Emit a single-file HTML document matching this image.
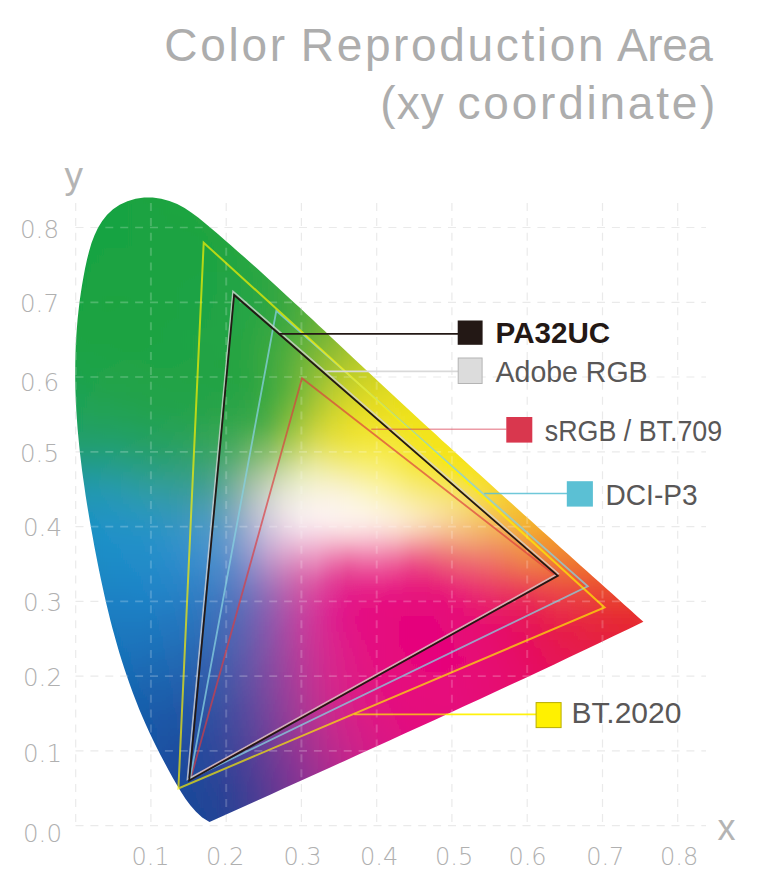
<!DOCTYPE html>
<html><head><meta charset="utf-8"><title>Color Reproduction Area</title>
<style>
html,body{margin:0;padding:0;background:#fff}
svg{display:block}
text{font-family:"Liberation Sans",sans-serif}
.tk text{font-family:"DejaVu Sans Light","DejaVu Sans","Liberation Sans",sans-serif}
</style></head><body>
<svg width="760" height="895" viewBox="0 0 760 895">
<defs>
<clipPath id="hs"><path d="M209.5,822.1 L202.2,817.4 L196.0,811.8 L190.5,805.6 L185.6,799.0 L181.1,791.9 L176.8,784.7 L172.6,777.4 L168.5,770.1 L164.5,762.6 L160.5,755.1 L156.7,747.6 L153.0,739.9 L149.3,732.2 L145.8,724.5 L142.4,716.7 L139.1,708.9 L136.0,701.0 L132.9,693.1 L130.0,685.1 L127.2,677.1 L124.5,669.1 L121.9,661.0 L119.4,653.0 L117.1,644.9 L114.8,636.7 L112.5,628.6 L110.4,620.4 L108.4,612.2 L106.4,603.9 L104.5,595.7 L102.7,587.4 L100.9,579.2 L99.2,570.9 L97.5,562.6 L95.9,554.3 L94.3,545.9 L92.8,537.6 L91.3,529.3 L89.8,521.0 L88.4,512.6 L87.0,504.3 L85.7,495.9 L84.5,487.6 L83.3,479.2 L82.1,470.8 L81.1,462.5 L80.1,454.1 L79.2,445.7 L78.4,437.3 L77.6,428.9 L77.0,420.5 L76.4,412.1 L76.0,403.7 L75.6,395.3 L75.3,386.9 L75.2,378.4 L75.2,370.0 L75.3,361.5 L75.5,353.1 L75.8,344.6 L76.3,336.2 L76.9,327.7 L77.6,319.2 L78.5,310.7 L79.5,302.2 L80.7,293.7 L82.0,285.2 L83.5,276.7 L85.1,268.2 L87.0,259.6 L89.1,251.2 L91.5,243.0 L94.5,235.2 L98.0,227.8 L102.2,220.9 L107.1,214.7 L113.0,209.3 L119.7,204.8 L127.4,201.3 L135.6,198.8 L144.1,197.6 L152.7,197.6 L161.2,198.7 L169.4,200.9 L177.2,204.1 L184.6,208.1 L191.6,212.7 L198.5,217.8 L205.1,223.2 L211.7,228.7 L218.2,234.3 L224.7,239.9 L231.1,245.5 L237.5,251.2 L243.9,256.8 L250.3,262.5 L256.6,268.1 L262.9,273.8 L269.1,279.5 L275.4,285.2 L281.6,290.9 L287.8,296.7 L294.0,302.4 L300.2,308.1 L306.4,313.9 L312.5,319.6 L318.7,325.4 L324.8,331.1 L330.9,336.9 L337.1,342.7 L343.2,348.4 L349.3,354.2 L355.4,360.0 L361.6,365.7 L367.7,371.5 L373.9,377.3 L380.0,383.0 L386.2,388.8 L392.4,394.5 L398.6,400.2 L404.8,406.0 L411.0,411.7 L417.2,417.5 L423.4,423.2 L429.7,428.9 L435.9,434.6 L442.1,440.4 L448.4,446.1 L454.6,451.8 L460.9,457.5 L467.2,463.2 L473.5,468.9 L479.7,474.6 L486.0,480.3 L492.3,486.0 L498.6,491.7 L504.9,497.4 L511.2,503.0 L517.5,508.7 L523.8,514.4 L530.1,520.1 L536.4,525.8 L542.7,531.4 L549.0,537.1 L555.3,542.8 L561.6,548.4 L567.9,554.1 L574.2,559.7 L580.5,565.4 L586.8,571.0 L593.1,576.7 L599.4,582.3 L605.7,588.0 L612.0,593.6 L618.3,599.3 L624.6,604.9 L630.9,610.5 L637.1,616.2 L643.4,621.8 L628.6,629.0 L613.7,636.1 L598.8,643.2 L584.0,650.3 L569.1,657.3 L554.2,664.4 L539.2,671.4 L524.3,678.4 L509.4,685.3 L494.4,692.3 L479.5,699.2 L464.5,706.1 L449.6,713.0 L434.6,719.9 L419.6,726.8 L404.6,733.6 L389.6,740.5 L374.6,747.3 L359.6,754.1 L344.6,760.9 L329.6,767.7 L314.6,774.5 L299.6,781.3 L284.6,788.1 L269.6,794.9 L254.5,801.7 L239.5,808.5 L224.5,815.3Z"/></clipPath>
<filter id="bl" filterUnits="userSpaceOnUse" x="40" y="164" width="640" height="696"><feGaussianBlur stdDeviation="0 3.5"/></filter>
<linearGradient id="r0" gradientUnits="userSpaceOnUse" x1="60" x2="660" y1="0" y2="0"><stop offset="0.0000" stop-color="#15a443"/><stop offset="0.0267" stop-color="#16a442"/><stop offset="0.0533" stop-color="#18a441"/><stop offset="0.0800" stop-color="#19a441"/><stop offset="0.1067" stop-color="#1aa441"/><stop offset="0.1333" stop-color="#1ba441"/><stop offset="0.1600" stop-color="#1da440"/><stop offset="0.1867" stop-color="#1fa53f"/><stop offset="0.2133" stop-color="#21a53e"/><stop offset="0.2400" stop-color="#24a63d"/><stop offset="0.2667" stop-color="#28a73b"/><stop offset="0.2933" stop-color="#2da839"/><stop offset="0.3200" stop-color="#32aa37"/><stop offset="0.3467" stop-color="#38ab35"/><stop offset="0.3733" stop-color="#3fad33"/><stop offset="0.4000" stop-color="#47af30"/><stop offset="0.4267" stop-color="#4fb12d"/><stop offset="0.4533" stop-color="#57b329"/><stop offset="0.4800" stop-color="#5fb526"/><stop offset="0.5067" stop-color="#67b722"/><stop offset="0.5333" stop-color="#6fb91f"/><stop offset="0.5600" stop-color="#77ba1b"/><stop offset="0.5867" stop-color="#7ebc18"/><stop offset="0.6133" stop-color="#85bd14"/><stop offset="0.6400" stop-color="#8bbe11"/><stop offset="0.6667" stop-color="#91bf0e"/><stop offset="0.6933" stop-color="#97c00c"/><stop offset="0.7200" stop-color="#9cc009"/><stop offset="0.7467" stop-color="#a1c007"/><stop offset="0.7733" stop-color="#a5c004"/><stop offset="0.8000" stop-color="#a9bf02"/><stop offset="0.8267" stop-color="#acbf01"/><stop offset="0.8533" stop-color="#afbe00"/><stop offset="0.8800" stop-color="#b2bc00"/><stop offset="0.9067" stop-color="#b5bb00"/><stop offset="0.9333" stop-color="#b7ba00"/><stop offset="0.9600" stop-color="#bab800"/><stop offset="0.9867" stop-color="#bcb600"/></linearGradient><linearGradient id="r1" gradientUnits="userSpaceOnUse" x1="60" x2="660" y1="0" y2="0"><stop offset="0.0000" stop-color="#15a443"/><stop offset="0.0267" stop-color="#16a442"/><stop offset="0.0533" stop-color="#17a442"/><stop offset="0.0800" stop-color="#19a441"/><stop offset="0.1067" stop-color="#1aa341"/><stop offset="0.1333" stop-color="#1ba341"/><stop offset="0.1600" stop-color="#1ca441"/><stop offset="0.1867" stop-color="#1ea440"/><stop offset="0.2133" stop-color="#20a53f"/><stop offset="0.2400" stop-color="#24a63d"/><stop offset="0.2667" stop-color="#27a73c"/><stop offset="0.2933" stop-color="#2ca83a"/><stop offset="0.3200" stop-color="#31a938"/><stop offset="0.3467" stop-color="#38ab36"/><stop offset="0.3733" stop-color="#3fad34"/><stop offset="0.4000" stop-color="#47ae31"/><stop offset="0.4267" stop-color="#4fb02d"/><stop offset="0.4533" stop-color="#57b32a"/><stop offset="0.4800" stop-color="#60b526"/><stop offset="0.5067" stop-color="#68b723"/><stop offset="0.5333" stop-color="#71b91f"/><stop offset="0.5600" stop-color="#79bb1b"/><stop offset="0.5867" stop-color="#80bc18"/><stop offset="0.6133" stop-color="#87be15"/><stop offset="0.6400" stop-color="#8ebf11"/><stop offset="0.6667" stop-color="#94c00e"/><stop offset="0.6933" stop-color="#99c00b"/><stop offset="0.7200" stop-color="#9ec109"/><stop offset="0.7467" stop-color="#a3c106"/><stop offset="0.7733" stop-color="#a7c004"/><stop offset="0.8000" stop-color="#abc002"/><stop offset="0.8267" stop-color="#aebf00"/><stop offset="0.8533" stop-color="#b1be00"/><stop offset="0.8800" stop-color="#b4bd00"/><stop offset="0.9067" stop-color="#b7bb00"/><stop offset="0.9333" stop-color="#b9ba00"/><stop offset="0.9600" stop-color="#bbb800"/><stop offset="0.9867" stop-color="#bdb600"/></linearGradient><linearGradient id="r2" gradientUnits="userSpaceOnUse" x1="60" x2="660" y1="0" y2="0"><stop offset="0.0000" stop-color="#15a343"/><stop offset="0.0267" stop-color="#16a342"/><stop offset="0.0533" stop-color="#17a342"/><stop offset="0.0800" stop-color="#18a342"/><stop offset="0.1067" stop-color="#19a341"/><stop offset="0.1333" stop-color="#1aa342"/><stop offset="0.1600" stop-color="#1ba341"/><stop offset="0.1867" stop-color="#1da440"/><stop offset="0.2133" stop-color="#20a53f"/><stop offset="0.2400" stop-color="#23a53e"/><stop offset="0.2667" stop-color="#26a63d"/><stop offset="0.2933" stop-color="#2ba73b"/><stop offset="0.3200" stop-color="#31a939"/><stop offset="0.3467" stop-color="#37aa37"/><stop offset="0.3733" stop-color="#3eac35"/><stop offset="0.4000" stop-color="#46ae31"/><stop offset="0.4267" stop-color="#4fb02e"/><stop offset="0.4533" stop-color="#58b32b"/><stop offset="0.4800" stop-color="#61b527"/><stop offset="0.5067" stop-color="#6ab723"/><stop offset="0.5333" stop-color="#72b91f"/><stop offset="0.5600" stop-color="#7abb1c"/><stop offset="0.5867" stop-color="#82bd18"/><stop offset="0.6133" stop-color="#89be15"/><stop offset="0.6400" stop-color="#90c011"/><stop offset="0.6667" stop-color="#96c00e"/><stop offset="0.6933" stop-color="#9bc10b"/><stop offset="0.7200" stop-color="#a0c109"/><stop offset="0.7467" stop-color="#a5c106"/><stop offset="0.7733" stop-color="#a9c104"/><stop offset="0.8000" stop-color="#adc002"/><stop offset="0.8267" stop-color="#b0c000"/><stop offset="0.8533" stop-color="#b3be00"/><stop offset="0.8800" stop-color="#b6bd00"/><stop offset="0.9067" stop-color="#b9bc00"/><stop offset="0.9333" stop-color="#bbba00"/><stop offset="0.9600" stop-color="#bdb800"/><stop offset="0.9867" stop-color="#bfb600"/></linearGradient><linearGradient id="r3" gradientUnits="userSpaceOnUse" x1="60" x2="660" y1="0" y2="0"><stop offset="0.0000" stop-color="#15a343"/><stop offset="0.0267" stop-color="#16a343"/><stop offset="0.0533" stop-color="#18a342"/><stop offset="0.0800" stop-color="#18a342"/><stop offset="0.1067" stop-color="#19a342"/><stop offset="0.1333" stop-color="#1aa342"/><stop offset="0.1600" stop-color="#1ba342"/><stop offset="0.1867" stop-color="#1da441"/><stop offset="0.2133" stop-color="#1fa440"/><stop offset="0.2400" stop-color="#22a53f"/><stop offset="0.2667" stop-color="#25a63e"/><stop offset="0.2933" stop-color="#2aa73c"/><stop offset="0.3200" stop-color="#30a83a"/><stop offset="0.3467" stop-color="#36aa38"/><stop offset="0.3733" stop-color="#3eac36"/><stop offset="0.4000" stop-color="#46ae32"/><stop offset="0.4267" stop-color="#4fb02f"/><stop offset="0.4533" stop-color="#59b32b"/><stop offset="0.4800" stop-color="#62b528"/><stop offset="0.5067" stop-color="#6bb724"/><stop offset="0.5333" stop-color="#74ba20"/><stop offset="0.5600" stop-color="#7cbc1c"/><stop offset="0.5867" stop-color="#84bd18"/><stop offset="0.6133" stop-color="#8bbf15"/><stop offset="0.6400" stop-color="#92c011"/><stop offset="0.6667" stop-color="#98c10e"/><stop offset="0.6933" stop-color="#9ec20b"/><stop offset="0.7200" stop-color="#a3c208"/><stop offset="0.7467" stop-color="#a7c206"/><stop offset="0.7733" stop-color="#abc204"/><stop offset="0.8000" stop-color="#afc102"/><stop offset="0.8267" stop-color="#b2c000"/><stop offset="0.8533" stop-color="#b5bf00"/><stop offset="0.8800" stop-color="#b8be00"/><stop offset="0.9067" stop-color="#babc00"/><stop offset="0.9333" stop-color="#bdba00"/><stop offset="0.9600" stop-color="#bfb800"/><stop offset="0.9867" stop-color="#c0b600"/></linearGradient><linearGradient id="r4" gradientUnits="userSpaceOnUse" x1="60" x2="660" y1="0" y2="0"><stop offset="0.0000" stop-color="#15a344"/><stop offset="0.0267" stop-color="#17a343"/><stop offset="0.0533" stop-color="#18a342"/><stop offset="0.0800" stop-color="#18a342"/><stop offset="0.1067" stop-color="#19a342"/><stop offset="0.1333" stop-color="#1aa342"/><stop offset="0.1600" stop-color="#1ba342"/><stop offset="0.1867" stop-color="#1ca341"/><stop offset="0.2133" stop-color="#1ea441"/><stop offset="0.2400" stop-color="#21a540"/><stop offset="0.2667" stop-color="#24a53f"/><stop offset="0.2933" stop-color="#29a73d"/><stop offset="0.3200" stop-color="#2fa83c"/><stop offset="0.3467" stop-color="#36aa39"/><stop offset="0.3733" stop-color="#3dac37"/><stop offset="0.4000" stop-color="#46ae33"/><stop offset="0.4267" stop-color="#50b030"/><stop offset="0.4533" stop-color="#59b32c"/><stop offset="0.4800" stop-color="#63b528"/><stop offset="0.5067" stop-color="#6db824"/><stop offset="0.5333" stop-color="#76ba20"/><stop offset="0.5600" stop-color="#7ebc1c"/><stop offset="0.5867" stop-color="#86be18"/><stop offset="0.6133" stop-color="#8ec015"/><stop offset="0.6400" stop-color="#95c111"/><stop offset="0.6667" stop-color="#9bc20e"/><stop offset="0.6933" stop-color="#a0c20b"/><stop offset="0.7200" stop-color="#a5c308"/><stop offset="0.7467" stop-color="#aac306"/><stop offset="0.7733" stop-color="#aec203"/><stop offset="0.8000" stop-color="#b1c201"/><stop offset="0.8267" stop-color="#b4c100"/><stop offset="0.8533" stop-color="#b7bf00"/><stop offset="0.8800" stop-color="#babe00"/><stop offset="0.9067" stop-color="#bcbc00"/><stop offset="0.9333" stop-color="#beba00"/><stop offset="0.9600" stop-color="#c0b800"/><stop offset="0.9867" stop-color="#c2b600"/></linearGradient><linearGradient id="r5" gradientUnits="userSpaceOnUse" x1="60" x2="660" y1="0" y2="0"><stop offset="0.0000" stop-color="#15a344"/><stop offset="0.0267" stop-color="#17a343"/><stop offset="0.0533" stop-color="#18a342"/><stop offset="0.0800" stop-color="#19a342"/><stop offset="0.1067" stop-color="#19a342"/><stop offset="0.1333" stop-color="#1aa342"/><stop offset="0.1600" stop-color="#1aa342"/><stop offset="0.1867" stop-color="#1ca342"/><stop offset="0.2133" stop-color="#1da441"/><stop offset="0.2400" stop-color="#20a441"/><stop offset="0.2667" stop-color="#23a540"/><stop offset="0.2933" stop-color="#28a63e"/><stop offset="0.3200" stop-color="#2ea83d"/><stop offset="0.3467" stop-color="#35a93a"/><stop offset="0.3733" stop-color="#3dab38"/><stop offset="0.4000" stop-color="#46ae34"/><stop offset="0.4267" stop-color="#50b031"/><stop offset="0.4533" stop-color="#5ab32d"/><stop offset="0.4800" stop-color="#64b529"/><stop offset="0.5067" stop-color="#6eb825"/><stop offset="0.5333" stop-color="#78ba20"/><stop offset="0.5600" stop-color="#81bd1c"/><stop offset="0.5867" stop-color="#89bf18"/><stop offset="0.6133" stop-color="#90c015"/><stop offset="0.6400" stop-color="#97c211"/><stop offset="0.6667" stop-color="#9dc30e"/><stop offset="0.6933" stop-color="#a3c30b"/><stop offset="0.7200" stop-color="#a8c408"/><stop offset="0.7467" stop-color="#acc305"/><stop offset="0.7733" stop-color="#b0c303"/><stop offset="0.8000" stop-color="#b3c201"/><stop offset="0.8267" stop-color="#b7c100"/><stop offset="0.8533" stop-color="#b9c000"/><stop offset="0.8800" stop-color="#bcbe00"/><stop offset="0.9067" stop-color="#bebd00"/><stop offset="0.9333" stop-color="#c0bb00"/><stop offset="0.9600" stop-color="#c2b900"/><stop offset="0.9867" stop-color="#c4b600"/></linearGradient><linearGradient id="r6" gradientUnits="userSpaceOnUse" x1="60" x2="660" y1="0" y2="0"><stop offset="0.0000" stop-color="#16a344"/><stop offset="0.0267" stop-color="#17a343"/><stop offset="0.0533" stop-color="#18a342"/><stop offset="0.0800" stop-color="#19a342"/><stop offset="0.1067" stop-color="#19a342"/><stop offset="0.1333" stop-color="#1aa342"/><stop offset="0.1600" stop-color="#1aa342"/><stop offset="0.1867" stop-color="#1ba342"/><stop offset="0.2133" stop-color="#1ca342"/><stop offset="0.2400" stop-color="#1fa441"/><stop offset="0.2667" stop-color="#22a541"/><stop offset="0.2933" stop-color="#27a63f"/><stop offset="0.3200" stop-color="#2da73e"/><stop offset="0.3467" stop-color="#34a93c"/><stop offset="0.3733" stop-color="#3cab39"/><stop offset="0.4000" stop-color="#46ad36"/><stop offset="0.4267" stop-color="#50b032"/><stop offset="0.4533" stop-color="#5bb32e"/><stop offset="0.4800" stop-color="#66b629"/><stop offset="0.5067" stop-color="#70b825"/><stop offset="0.5333" stop-color="#7abb21"/><stop offset="0.5600" stop-color="#83bd1c"/><stop offset="0.5867" stop-color="#8bbf18"/><stop offset="0.6133" stop-color="#93c115"/><stop offset="0.6400" stop-color="#9ac311"/><stop offset="0.6667" stop-color="#a0c40e"/><stop offset="0.6933" stop-color="#a5c40a"/><stop offset="0.7200" stop-color="#aac408"/><stop offset="0.7467" stop-color="#afc405"/><stop offset="0.7733" stop-color="#b2c403"/><stop offset="0.8000" stop-color="#b6c301"/><stop offset="0.8267" stop-color="#b9c200"/><stop offset="0.8533" stop-color="#bcc000"/><stop offset="0.8800" stop-color="#bebf00"/><stop offset="0.9067" stop-color="#c0bd00"/><stop offset="0.9333" stop-color="#c2bb00"/><stop offset="0.9600" stop-color="#c4b900"/><stop offset="0.9867" stop-color="#c5b600"/></linearGradient><linearGradient id="r7" gradientUnits="userSpaceOnUse" x1="60" x2="660" y1="0" y2="0"><stop offset="0.0000" stop-color="#16a344"/><stop offset="0.0267" stop-color="#17a343"/><stop offset="0.0533" stop-color="#19a342"/><stop offset="0.0800" stop-color="#19a342"/><stop offset="0.1067" stop-color="#19a342"/><stop offset="0.1333" stop-color="#1aa342"/><stop offset="0.1600" stop-color="#1aa342"/><stop offset="0.1867" stop-color="#1ba342"/><stop offset="0.2133" stop-color="#1ca342"/><stop offset="0.2400" stop-color="#1ea442"/><stop offset="0.2667" stop-color="#21a441"/><stop offset="0.2933" stop-color="#26a540"/><stop offset="0.3200" stop-color="#2ca73f"/><stop offset="0.3467" stop-color="#33a83d"/><stop offset="0.3733" stop-color="#3cab3a"/><stop offset="0.4000" stop-color="#46ad37"/><stop offset="0.4267" stop-color="#51b033"/><stop offset="0.4533" stop-color="#5cb32e"/><stop offset="0.4800" stop-color="#68b62a"/><stop offset="0.5067" stop-color="#72b925"/><stop offset="0.5333" stop-color="#7cbc21"/><stop offset="0.5600" stop-color="#86be1d"/><stop offset="0.5867" stop-color="#8ec018"/><stop offset="0.6133" stop-color="#96c214"/><stop offset="0.6400" stop-color="#9dc311"/><stop offset="0.6667" stop-color="#a3c40d"/><stop offset="0.6933" stop-color="#a8c50a"/><stop offset="0.7200" stop-color="#adc507"/><stop offset="0.7467" stop-color="#b1c505"/><stop offset="0.7733" stop-color="#b5c402"/><stop offset="0.8000" stop-color="#b8c301"/><stop offset="0.8267" stop-color="#bbc200"/><stop offset="0.8533" stop-color="#bec100"/><stop offset="0.8800" stop-color="#c0bf00"/><stop offset="0.9067" stop-color="#c2bd00"/><stop offset="0.9333" stop-color="#c4bb00"/><stop offset="0.9600" stop-color="#c6b900"/><stop offset="0.9867" stop-color="#c7b600"/></linearGradient><linearGradient id="r8" gradientUnits="userSpaceOnUse" x1="60" x2="660" y1="0" y2="0"><stop offset="0.0000" stop-color="#16a344"/><stop offset="0.0267" stop-color="#18a343"/><stop offset="0.0533" stop-color="#19a342"/><stop offset="0.0800" stop-color="#1aa342"/><stop offset="0.1067" stop-color="#1aa342"/><stop offset="0.1333" stop-color="#1aa342"/><stop offset="0.1600" stop-color="#1aa342"/><stop offset="0.1867" stop-color="#1ba342"/><stop offset="0.2133" stop-color="#1ba343"/><stop offset="0.2400" stop-color="#1da343"/><stop offset="0.2667" stop-color="#21a442"/><stop offset="0.2933" stop-color="#25a541"/><stop offset="0.3200" stop-color="#2ba640"/><stop offset="0.3467" stop-color="#32a83e"/><stop offset="0.3733" stop-color="#3baa3b"/><stop offset="0.4000" stop-color="#46ad38"/><stop offset="0.4267" stop-color="#52b034"/><stop offset="0.4533" stop-color="#5eb32f"/><stop offset="0.4800" stop-color="#6ab62a"/><stop offset="0.5067" stop-color="#75b926"/><stop offset="0.5333" stop-color="#7fbc21"/><stop offset="0.5600" stop-color="#89bf1d"/><stop offset="0.5867" stop-color="#91c118"/><stop offset="0.6133" stop-color="#99c314"/><stop offset="0.6400" stop-color="#a0c411"/><stop offset="0.6667" stop-color="#a6c50d"/><stop offset="0.6933" stop-color="#abc60a"/><stop offset="0.7200" stop-color="#b0c607"/><stop offset="0.7467" stop-color="#b4c604"/><stop offset="0.7733" stop-color="#b7c502"/><stop offset="0.8000" stop-color="#bbc400"/><stop offset="0.8267" stop-color="#bdc300"/><stop offset="0.8533" stop-color="#c0c100"/><stop offset="0.8800" stop-color="#c2bf00"/><stop offset="0.9067" stop-color="#c4bd00"/><stop offset="0.9333" stop-color="#c6bb00"/><stop offset="0.9600" stop-color="#c7b900"/><stop offset="0.9867" stop-color="#c9b600"/></linearGradient><linearGradient id="r9" gradientUnits="userSpaceOnUse" x1="60" x2="660" y1="0" y2="0"><stop offset="0.0000" stop-color="#16a344"/><stop offset="0.0267" stop-color="#18a343"/><stop offset="0.0533" stop-color="#19a342"/><stop offset="0.0800" stop-color="#1aa342"/><stop offset="0.1067" stop-color="#1aa342"/><stop offset="0.1333" stop-color="#1aa342"/><stop offset="0.1600" stop-color="#1aa342"/><stop offset="0.1867" stop-color="#1aa343"/><stop offset="0.2133" stop-color="#1ba343"/><stop offset="0.2400" stop-color="#1da343"/><stop offset="0.2667" stop-color="#20a443"/><stop offset="0.2933" stop-color="#24a542"/><stop offset="0.3200" stop-color="#2aa641"/><stop offset="0.3467" stop-color="#31a83f"/><stop offset="0.3733" stop-color="#3baa3d"/><stop offset="0.4000" stop-color="#46ad39"/><stop offset="0.4267" stop-color="#53b034"/><stop offset="0.4533" stop-color="#5fb330"/><stop offset="0.4800" stop-color="#6cb72b"/><stop offset="0.5067" stop-color="#77ba26"/><stop offset="0.5333" stop-color="#82bd21"/><stop offset="0.5600" stop-color="#8cc01d"/><stop offset="0.5867" stop-color="#94c218"/><stop offset="0.6133" stop-color="#9cc414"/><stop offset="0.6400" stop-color="#a3c510"/><stop offset="0.6667" stop-color="#a9c60d"/><stop offset="0.6933" stop-color="#aec70a"/><stop offset="0.7200" stop-color="#b3c707"/><stop offset="0.7467" stop-color="#b7c704"/><stop offset="0.7733" stop-color="#bac602"/><stop offset="0.8000" stop-color="#bdc500"/><stop offset="0.8267" stop-color="#c0c300"/><stop offset="0.8533" stop-color="#c2c200"/><stop offset="0.8800" stop-color="#c4c000"/><stop offset="0.9067" stop-color="#c6be00"/><stop offset="0.9333" stop-color="#c8bb00"/><stop offset="0.9600" stop-color="#c9b900"/><stop offset="0.9867" stop-color="#cbb600"/></linearGradient><linearGradient id="r10" gradientUnits="userSpaceOnUse" x1="60" x2="660" y1="0" y2="0"><stop offset="0.0000" stop-color="#17a344"/><stop offset="0.0267" stop-color="#18a343"/><stop offset="0.0533" stop-color="#1aa342"/><stop offset="0.0800" stop-color="#1aa342"/><stop offset="0.1067" stop-color="#1aa342"/><stop offset="0.1333" stop-color="#1aa342"/><stop offset="0.1600" stop-color="#1aa342"/><stop offset="0.1867" stop-color="#1aa343"/><stop offset="0.2133" stop-color="#1ba343"/><stop offset="0.2400" stop-color="#1da343"/><stop offset="0.2667" stop-color="#20a443"/><stop offset="0.2933" stop-color="#24a543"/><stop offset="0.3200" stop-color="#29a642"/><stop offset="0.3467" stop-color="#30a741"/><stop offset="0.3733" stop-color="#3aa93e"/><stop offset="0.4000" stop-color="#47ac3a"/><stop offset="0.4267" stop-color="#54b035"/><stop offset="0.4533" stop-color="#61b330"/><stop offset="0.4800" stop-color="#6eb72b"/><stop offset="0.5067" stop-color="#7aba26"/><stop offset="0.5333" stop-color="#85be22"/><stop offset="0.5600" stop-color="#8fc11d"/><stop offset="0.5867" stop-color="#98c318"/><stop offset="0.6133" stop-color="#a0c514"/><stop offset="0.6400" stop-color="#a6c610"/><stop offset="0.6667" stop-color="#acc70d"/><stop offset="0.6933" stop-color="#b1c809"/><stop offset="0.7200" stop-color="#b6c806"/><stop offset="0.7467" stop-color="#b9c804"/><stop offset="0.7733" stop-color="#bdc702"/><stop offset="0.8000" stop-color="#c0c600"/><stop offset="0.8267" stop-color="#c2c400"/><stop offset="0.8533" stop-color="#c4c200"/><stop offset="0.8800" stop-color="#c6c000"/><stop offset="0.9067" stop-color="#c8be00"/><stop offset="0.9333" stop-color="#cabb00"/><stop offset="0.9600" stop-color="#cbb900"/><stop offset="0.9867" stop-color="#ccb600"/></linearGradient><linearGradient id="r11" gradientUnits="userSpaceOnUse" x1="60" x2="660" y1="0" y2="0"><stop offset="0.0000" stop-color="#17a344"/><stop offset="0.0267" stop-color="#18a343"/><stop offset="0.0533" stop-color="#1aa342"/><stop offset="0.0800" stop-color="#1aa342"/><stop offset="0.1067" stop-color="#1aa342"/><stop offset="0.1333" stop-color="#1aa342"/><stop offset="0.1600" stop-color="#1aa342"/><stop offset="0.1867" stop-color="#1ba343"/><stop offset="0.2133" stop-color="#1ba343"/><stop offset="0.2400" stop-color="#1da344"/><stop offset="0.2667" stop-color="#20a444"/><stop offset="0.2933" stop-color="#23a444"/><stop offset="0.3200" stop-color="#28a543"/><stop offset="0.3467" stop-color="#2fa742"/><stop offset="0.3733" stop-color="#3aa93f"/><stop offset="0.4000" stop-color="#47ac3b"/><stop offset="0.4267" stop-color="#55b036"/><stop offset="0.4533" stop-color="#63b431"/><stop offset="0.4800" stop-color="#71b72c"/><stop offset="0.5067" stop-color="#7dbb27"/><stop offset="0.5333" stop-color="#89bf22"/><stop offset="0.5600" stop-color="#93c11d"/><stop offset="0.5867" stop-color="#9cc418"/><stop offset="0.6133" stop-color="#a3c614"/><stop offset="0.6400" stop-color="#aac710"/><stop offset="0.6667" stop-color="#afc80c"/><stop offset="0.6933" stop-color="#b4c909"/><stop offset="0.7200" stop-color="#b9c906"/><stop offset="0.7467" stop-color="#bcc804"/><stop offset="0.7733" stop-color="#bfc801"/><stop offset="0.8000" stop-color="#c2c600"/><stop offset="0.8267" stop-color="#c5c500"/><stop offset="0.8533" stop-color="#c7c300"/><stop offset="0.8800" stop-color="#c9c000"/><stop offset="0.9067" stop-color="#cabe00"/><stop offset="0.9333" stop-color="#ccbb00"/><stop offset="0.9600" stop-color="#cdb900"/><stop offset="0.9867" stop-color="#ceb600"/></linearGradient><linearGradient id="r12" gradientUnits="userSpaceOnUse" x1="60" x2="660" y1="0" y2="0"><stop offset="0.0000" stop-color="#17a344"/><stop offset="0.0267" stop-color="#19a343"/><stop offset="0.0533" stop-color="#1aa342"/><stop offset="0.0800" stop-color="#1aa342"/><stop offset="0.1067" stop-color="#1aa342"/><stop offset="0.1333" stop-color="#1aa342"/><stop offset="0.1600" stop-color="#1aa342"/><stop offset="0.1867" stop-color="#1ba343"/><stop offset="0.2133" stop-color="#1ca344"/><stop offset="0.2400" stop-color="#1da344"/><stop offset="0.2667" stop-color="#20a444"/><stop offset="0.2933" stop-color="#23a444"/><stop offset="0.3200" stop-color="#28a544"/><stop offset="0.3467" stop-color="#2fa643"/><stop offset="0.3733" stop-color="#3aa940"/><stop offset="0.4000" stop-color="#48ac3c"/><stop offset="0.4267" stop-color="#57b037"/><stop offset="0.4533" stop-color="#66b432"/><stop offset="0.4800" stop-color="#74b82c"/><stop offset="0.5067" stop-color="#81bc27"/><stop offset="0.5333" stop-color="#8dbf22"/><stop offset="0.5600" stop-color="#97c31d"/><stop offset="0.5867" stop-color="#9fc518"/><stop offset="0.6133" stop-color="#a7c714"/><stop offset="0.6400" stop-color="#adc910"/><stop offset="0.6667" stop-color="#b3ca0c"/><stop offset="0.6933" stop-color="#b8ca09"/><stop offset="0.7200" stop-color="#bcca06"/><stop offset="0.7467" stop-color="#bfc903"/><stop offset="0.7733" stop-color="#c2c801"/><stop offset="0.8000" stop-color="#c5c700"/><stop offset="0.8267" stop-color="#c7c500"/><stop offset="0.8533" stop-color="#c9c300"/><stop offset="0.8800" stop-color="#cbc100"/><stop offset="0.9067" stop-color="#ccbe00"/><stop offset="0.9333" stop-color="#cdbc00"/><stop offset="0.9600" stop-color="#cfb900"/><stop offset="0.9867" stop-color="#d0b600"/></linearGradient><linearGradient id="r13" gradientUnits="userSpaceOnUse" x1="60" x2="660" y1="0" y2="0"><stop offset="0.0000" stop-color="#17a345"/><stop offset="0.0267" stop-color="#19a343"/><stop offset="0.0533" stop-color="#1aa342"/><stop offset="0.0800" stop-color="#1aa342"/><stop offset="0.1067" stop-color="#1ba342"/><stop offset="0.1333" stop-color="#1ba342"/><stop offset="0.1600" stop-color="#1ba342"/><stop offset="0.1867" stop-color="#1ba343"/><stop offset="0.2133" stop-color="#1ca344"/><stop offset="0.2400" stop-color="#1ea344"/><stop offset="0.2667" stop-color="#20a444"/><stop offset="0.2933" stop-color="#23a444"/><stop offset="0.3200" stop-color="#28a544"/><stop offset="0.3467" stop-color="#2fa643"/><stop offset="0.3733" stop-color="#3aa840"/><stop offset="0.4000" stop-color="#49ac3c"/><stop offset="0.4267" stop-color="#59b037"/><stop offset="0.4533" stop-color="#69b432"/><stop offset="0.4800" stop-color="#78b92d"/><stop offset="0.5067" stop-color="#85bd27"/><stop offset="0.5333" stop-color="#91c022"/><stop offset="0.5600" stop-color="#9bc41d"/><stop offset="0.5867" stop-color="#a4c618"/><stop offset="0.6133" stop-color="#abc814"/><stop offset="0.6400" stop-color="#b1ca10"/><stop offset="0.6667" stop-color="#b7cb0c"/><stop offset="0.6933" stop-color="#bbcb08"/><stop offset="0.7200" stop-color="#bfcb05"/><stop offset="0.7467" stop-color="#c2ca03"/><stop offset="0.7733" stop-color="#c5c901"/><stop offset="0.8000" stop-color="#c7c800"/><stop offset="0.8267" stop-color="#c9c600"/><stop offset="0.8533" stop-color="#cbc400"/><stop offset="0.8800" stop-color="#cdc100"/><stop offset="0.9067" stop-color="#cebe00"/><stop offset="0.9333" stop-color="#cfbc00"/><stop offset="0.9600" stop-color="#d0b900"/><stop offset="0.9867" stop-color="#d1b600"/></linearGradient><linearGradient id="r14" gradientUnits="userSpaceOnUse" x1="60" x2="660" y1="0" y2="0"><stop offset="0.0000" stop-color="#17a345"/><stop offset="0.0267" stop-color="#19a343"/><stop offset="0.0533" stop-color="#1aa342"/><stop offset="0.0800" stop-color="#1ba341"/><stop offset="0.1067" stop-color="#1ba341"/><stop offset="0.1333" stop-color="#1ba342"/><stop offset="0.1600" stop-color="#1ba342"/><stop offset="0.1867" stop-color="#1ca343"/><stop offset="0.2133" stop-color="#1ca344"/><stop offset="0.2400" stop-color="#1ea344"/><stop offset="0.2667" stop-color="#20a445"/><stop offset="0.2933" stop-color="#23a445"/><stop offset="0.3200" stop-color="#28a544"/><stop offset="0.3467" stop-color="#2fa643"/><stop offset="0.3733" stop-color="#3ba841"/><stop offset="0.4000" stop-color="#4bac3d"/><stop offset="0.4267" stop-color="#5cb038"/><stop offset="0.4533" stop-color="#6cb532"/><stop offset="0.4800" stop-color="#7bb92d"/><stop offset="0.5067" stop-color="#89be27"/><stop offset="0.5333" stop-color="#95c222"/><stop offset="0.5600" stop-color="#9fc51d"/><stop offset="0.5867" stop-color="#a8c818"/><stop offset="0.6133" stop-color="#afca13"/><stop offset="0.6400" stop-color="#b5cb0f"/><stop offset="0.6667" stop-color="#bacc0b"/><stop offset="0.6933" stop-color="#bfcc08"/><stop offset="0.7200" stop-color="#c2cc05"/><stop offset="0.7467" stop-color="#c5cb03"/><stop offset="0.7733" stop-color="#c8ca01"/><stop offset="0.8000" stop-color="#cac800"/><stop offset="0.8267" stop-color="#ccc600"/><stop offset="0.8533" stop-color="#cdc400"/><stop offset="0.8800" stop-color="#cfc100"/><stop offset="0.9067" stop-color="#d0bf00"/><stop offset="0.9333" stop-color="#d1bc00"/><stop offset="0.9600" stop-color="#d2b800"/><stop offset="0.9867" stop-color="#d3b500"/></linearGradient><linearGradient id="r15" gradientUnits="userSpaceOnUse" x1="60" x2="660" y1="0" y2="0"><stop offset="0.0000" stop-color="#18a245"/><stop offset="0.0267" stop-color="#19a343"/><stop offset="0.0533" stop-color="#1aa342"/><stop offset="0.0800" stop-color="#1ba341"/><stop offset="0.1067" stop-color="#1ba342"/><stop offset="0.1333" stop-color="#1ba342"/><stop offset="0.1600" stop-color="#1ca342"/><stop offset="0.1867" stop-color="#1ca343"/><stop offset="0.2133" stop-color="#1da344"/><stop offset="0.2400" stop-color="#1ea344"/><stop offset="0.2667" stop-color="#21a445"/><stop offset="0.2933" stop-color="#24a445"/><stop offset="0.3200" stop-color="#28a544"/><stop offset="0.3467" stop-color="#30a643"/><stop offset="0.3733" stop-color="#3ba841"/><stop offset="0.4000" stop-color="#4dac3d"/><stop offset="0.4267" stop-color="#5fb138"/><stop offset="0.4533" stop-color="#70b633"/><stop offset="0.4800" stop-color="#80ba2d"/><stop offset="0.5067" stop-color="#8ebf28"/><stop offset="0.5333" stop-color="#9ac322"/><stop offset="0.5600" stop-color="#a4c61d"/><stop offset="0.5867" stop-color="#adc918"/><stop offset="0.6133" stop-color="#b3cb13"/><stop offset="0.6400" stop-color="#b9cd0f"/><stop offset="0.6667" stop-color="#becd0b"/><stop offset="0.6933" stop-color="#c2ce08"/><stop offset="0.7200" stop-color="#c5cd05"/><stop offset="0.7467" stop-color="#c8cc02"/><stop offset="0.7733" stop-color="#cbcb00"/><stop offset="0.8000" stop-color="#cdc900"/><stop offset="0.8267" stop-color="#cec700"/><stop offset="0.8533" stop-color="#d0c400"/><stop offset="0.8800" stop-color="#d1c200"/><stop offset="0.9067" stop-color="#d2bf00"/><stop offset="0.9333" stop-color="#d3bc00"/><stop offset="0.9600" stop-color="#d4b800"/><stop offset="0.9867" stop-color="#d4b500"/></linearGradient><linearGradient id="r16" gradientUnits="userSpaceOnUse" x1="60" x2="660" y1="0" y2="0"><stop offset="0.0000" stop-color="#18a245"/><stop offset="0.0267" stop-color="#1aa343"/><stop offset="0.0533" stop-color="#1ba342"/><stop offset="0.0800" stop-color="#1ba342"/><stop offset="0.1067" stop-color="#1ca342"/><stop offset="0.1333" stop-color="#1ca342"/><stop offset="0.1600" stop-color="#1ca343"/><stop offset="0.1867" stop-color="#1da343"/><stop offset="0.2133" stop-color="#1da344"/><stop offset="0.2400" stop-color="#1fa344"/><stop offset="0.2667" stop-color="#21a445"/><stop offset="0.2933" stop-color="#24a444"/><stop offset="0.3200" stop-color="#29a544"/><stop offset="0.3467" stop-color="#31a643"/><stop offset="0.3733" stop-color="#3da941"/><stop offset="0.4000" stop-color="#4fad3d"/><stop offset="0.4267" stop-color="#62b138"/><stop offset="0.4533" stop-color="#74b633"/><stop offset="0.4800" stop-color="#85bb2d"/><stop offset="0.5067" stop-color="#93c028"/><stop offset="0.5333" stop-color="#9fc422"/><stop offset="0.5600" stop-color="#a9c81d"/><stop offset="0.5867" stop-color="#b1cb18"/><stop offset="0.6133" stop-color="#b8cd13"/><stop offset="0.6400" stop-color="#bdce0f"/><stop offset="0.6667" stop-color="#c2cf0b"/><stop offset="0.6933" stop-color="#c6cf08"/><stop offset="0.7200" stop-color="#c9ce05"/><stop offset="0.7467" stop-color="#cbcd02"/><stop offset="0.7733" stop-color="#cdcc00"/><stop offset="0.8000" stop-color="#cfca00"/><stop offset="0.8267" stop-color="#d1c800"/><stop offset="0.8533" stop-color="#d2c500"/><stop offset="0.8800" stop-color="#d3c200"/><stop offset="0.9067" stop-color="#d4bf00"/><stop offset="0.9333" stop-color="#d5bb00"/><stop offset="0.9600" stop-color="#d6b800"/><stop offset="0.9867" stop-color="#d6b500"/></linearGradient><linearGradient id="r17" gradientUnits="userSpaceOnUse" x1="60" x2="660" y1="0" y2="0"><stop offset="0.0000" stop-color="#18a246"/><stop offset="0.0267" stop-color="#1aa343"/><stop offset="0.0533" stop-color="#1ba342"/><stop offset="0.0800" stop-color="#1ca342"/><stop offset="0.1067" stop-color="#1ca342"/><stop offset="0.1333" stop-color="#1ca342"/><stop offset="0.1600" stop-color="#1da343"/><stop offset="0.1867" stop-color="#1da344"/><stop offset="0.2133" stop-color="#1ea344"/><stop offset="0.2400" stop-color="#1fa345"/><stop offset="0.2667" stop-color="#21a444"/><stop offset="0.2933" stop-color="#25a444"/><stop offset="0.3200" stop-color="#2ba543"/><stop offset="0.3467" stop-color="#33a742"/><stop offset="0.3733" stop-color="#40a941"/><stop offset="0.4000" stop-color="#52ad3d"/><stop offset="0.4267" stop-color="#67b238"/><stop offset="0.4533" stop-color="#7ab733"/><stop offset="0.4800" stop-color="#8abd2d"/><stop offset="0.5067" stop-color="#99c228"/><stop offset="0.5333" stop-color="#a5c622"/><stop offset="0.5600" stop-color="#afca1d"/><stop offset="0.5867" stop-color="#b6cc18"/><stop offset="0.6133" stop-color="#bdce13"/><stop offset="0.6400" stop-color="#c2d00f"/><stop offset="0.6667" stop-color="#c6d00b"/><stop offset="0.6933" stop-color="#c9d007"/><stop offset="0.7200" stop-color="#ccd004"/><stop offset="0.7467" stop-color="#cece02"/><stop offset="0.7733" stop-color="#d0cd00"/><stop offset="0.8000" stop-color="#d2cb00"/><stop offset="0.8267" stop-color="#d3c800"/><stop offset="0.8533" stop-color="#d4c500"/><stop offset="0.8800" stop-color="#d5c200"/><stop offset="0.9067" stop-color="#d6bf00"/><stop offset="0.9333" stop-color="#d7bb00"/><stop offset="0.9600" stop-color="#d7b800"/><stop offset="0.9867" stop-color="#d8b400"/></linearGradient><linearGradient id="r18" gradientUnits="userSpaceOnUse" x1="60" x2="660" y1="0" y2="0"><stop offset="0.0000" stop-color="#19a246"/><stop offset="0.0267" stop-color="#1aa343"/><stop offset="0.0533" stop-color="#1ca342"/><stop offset="0.0800" stop-color="#1ca342"/><stop offset="0.1067" stop-color="#1da342"/><stop offset="0.1333" stop-color="#1da343"/><stop offset="0.1600" stop-color="#1da343"/><stop offset="0.1867" stop-color="#1ea344"/><stop offset="0.2133" stop-color="#1fa445"/><stop offset="0.2400" stop-color="#20a445"/><stop offset="0.2667" stop-color="#22a444"/><stop offset="0.2933" stop-color="#25a444"/><stop offset="0.3200" stop-color="#2ca543"/><stop offset="0.3467" stop-color="#36a742"/><stop offset="0.3733" stop-color="#44aa40"/><stop offset="0.4000" stop-color="#57ae3d"/><stop offset="0.4267" stop-color="#6cb338"/><stop offset="0.4533" stop-color="#7fb933"/><stop offset="0.4800" stop-color="#91be2d"/><stop offset="0.5067" stop-color="#9fc328"/><stop offset="0.5333" stop-color="#abc822"/><stop offset="0.5600" stop-color="#b4cb1d"/><stop offset="0.5867" stop-color="#bcce18"/><stop offset="0.6133" stop-color="#c1d013"/><stop offset="0.6400" stop-color="#c6d10e"/><stop offset="0.6667" stop-color="#cad20a"/><stop offset="0.6933" stop-color="#cdd107"/><stop offset="0.7200" stop-color="#cfd104"/><stop offset="0.7467" stop-color="#d1cf02"/><stop offset="0.7733" stop-color="#d3ce00"/><stop offset="0.8000" stop-color="#d4cb00"/><stop offset="0.8267" stop-color="#d5c900"/><stop offset="0.8533" stop-color="#d6c600"/><stop offset="0.8800" stop-color="#d7c200"/><stop offset="0.9067" stop-color="#d8bf00"/><stop offset="0.9333" stop-color="#d8bb00"/><stop offset="0.9600" stop-color="#d9b700"/><stop offset="0.9867" stop-color="#d9b400"/></linearGradient><linearGradient id="r19" gradientUnits="userSpaceOnUse" x1="60" x2="660" y1="0" y2="0"><stop offset="0.0000" stop-color="#19a247"/><stop offset="0.0267" stop-color="#1ba344"/><stop offset="0.0533" stop-color="#1ca343"/><stop offset="0.0800" stop-color="#1da343"/><stop offset="0.1067" stop-color="#1da343"/><stop offset="0.1333" stop-color="#1ea343"/><stop offset="0.1600" stop-color="#1ea343"/><stop offset="0.1867" stop-color="#1ea344"/><stop offset="0.2133" stop-color="#1fa445"/><stop offset="0.2400" stop-color="#20a444"/><stop offset="0.2667" stop-color="#22a444"/><stop offset="0.2933" stop-color="#26a443"/><stop offset="0.3200" stop-color="#2da543"/><stop offset="0.3467" stop-color="#38a741"/><stop offset="0.3733" stop-color="#48ab3f"/><stop offset="0.4000" stop-color="#5cb03c"/><stop offset="0.4267" stop-color="#72b538"/><stop offset="0.4533" stop-color="#86ba33"/><stop offset="0.4800" stop-color="#97c02d"/><stop offset="0.5067" stop-color="#a6c528"/><stop offset="0.5333" stop-color="#b1ca22"/><stop offset="0.5600" stop-color="#bacd1d"/><stop offset="0.5867" stop-color="#c1d017"/><stop offset="0.6133" stop-color="#c6d213"/><stop offset="0.6400" stop-color="#cad30e"/><stop offset="0.6667" stop-color="#ced30a"/><stop offset="0.6933" stop-color="#d0d307"/><stop offset="0.7200" stop-color="#d3d204"/><stop offset="0.7467" stop-color="#d4d001"/><stop offset="0.7733" stop-color="#d6ce00"/><stop offset="0.8000" stop-color="#d7cc00"/><stop offset="0.8267" stop-color="#d8c900"/><stop offset="0.8533" stop-color="#d9c600"/><stop offset="0.8800" stop-color="#d9c200"/><stop offset="0.9067" stop-color="#dabf00"/><stop offset="0.9333" stop-color="#dabb00"/><stop offset="0.9600" stop-color="#dab700"/><stop offset="0.9867" stop-color="#dbb300"/></linearGradient><linearGradient id="r20" gradientUnits="userSpaceOnUse" x1="60" x2="660" y1="0" y2="0"><stop offset="0.0000" stop-color="#1aa248"/><stop offset="0.0267" stop-color="#1ba345"/><stop offset="0.0533" stop-color="#1da344"/><stop offset="0.0800" stop-color="#1ea344"/><stop offset="0.1067" stop-color="#1ea343"/><stop offset="0.1333" stop-color="#1ea343"/><stop offset="0.1600" stop-color="#1ea344"/><stop offset="0.1867" stop-color="#1fa344"/><stop offset="0.2133" stop-color="#1fa445"/><stop offset="0.2400" stop-color="#20a344"/><stop offset="0.2667" stop-color="#22a444"/><stop offset="0.2933" stop-color="#26a443"/><stop offset="0.3200" stop-color="#2ea542"/><stop offset="0.3467" stop-color="#3aa841"/><stop offset="0.3733" stop-color="#4bac3e"/><stop offset="0.4000" stop-color="#61b13b"/><stop offset="0.4267" stop-color="#7ab737"/><stop offset="0.4533" stop-color="#8ebd32"/><stop offset="0.4800" stop-color="#9fc22d"/><stop offset="0.5067" stop-color="#adc828"/><stop offset="0.5333" stop-color="#b8cc22"/><stop offset="0.5600" stop-color="#c0cf1d"/><stop offset="0.5867" stop-color="#c6d217"/><stop offset="0.6133" stop-color="#cbd312"/><stop offset="0.6400" stop-color="#cfd40e"/><stop offset="0.6667" stop-color="#d2d50a"/><stop offset="0.6933" stop-color="#d4d407"/><stop offset="0.7200" stop-color="#d6d304"/><stop offset="0.7467" stop-color="#d7d101"/><stop offset="0.7733" stop-color="#d8cf00"/><stop offset="0.8000" stop-color="#d9cd00"/><stop offset="0.8267" stop-color="#dac900"/><stop offset="0.8533" stop-color="#dbc600"/><stop offset="0.8800" stop-color="#dbc200"/><stop offset="0.9067" stop-color="#dbbe00"/><stop offset="0.9333" stop-color="#dcba00"/><stop offset="0.9600" stop-color="#dcb600"/><stop offset="0.9867" stop-color="#dcb200"/></linearGradient><linearGradient id="r21" gradientUnits="userSpaceOnUse" x1="60" x2="660" y1="0" y2="0"><stop offset="0.0000" stop-color="#1aa24a"/><stop offset="0.0267" stop-color="#1ca347"/><stop offset="0.0533" stop-color="#1da346"/><stop offset="0.0800" stop-color="#1ea345"/><stop offset="0.1067" stop-color="#1fa344"/><stop offset="0.1333" stop-color="#1fa344"/><stop offset="0.1600" stop-color="#1fa344"/><stop offset="0.1867" stop-color="#1fa344"/><stop offset="0.2133" stop-color="#1fa345"/><stop offset="0.2400" stop-color="#20a344"/><stop offset="0.2667" stop-color="#22a444"/><stop offset="0.2933" stop-color="#26a443"/><stop offset="0.3200" stop-color="#2ea542"/><stop offset="0.3467" stop-color="#3ca840"/><stop offset="0.3733" stop-color="#4ead3e"/><stop offset="0.4000" stop-color="#67b23b"/><stop offset="0.4267" stop-color="#80b936"/><stop offset="0.4533" stop-color="#95bf32"/><stop offset="0.4800" stop-color="#a7c52d"/><stop offset="0.5067" stop-color="#b5ca28"/><stop offset="0.5333" stop-color="#bfce22"/><stop offset="0.5600" stop-color="#c6d11d"/><stop offset="0.5867" stop-color="#ccd417"/><stop offset="0.6133" stop-color="#d0d512"/><stop offset="0.6400" stop-color="#d3d60e"/><stop offset="0.6667" stop-color="#d6d60a"/><stop offset="0.6933" stop-color="#d7d506"/><stop offset="0.7200" stop-color="#d9d404"/><stop offset="0.7467" stop-color="#dad201"/><stop offset="0.7733" stop-color="#dbd000"/><stop offset="0.8000" stop-color="#dccd00"/><stop offset="0.8267" stop-color="#dcca00"/><stop offset="0.8533" stop-color="#ddc600"/><stop offset="0.8800" stop-color="#ddc200"/><stop offset="0.9067" stop-color="#ddbe00"/><stop offset="0.9333" stop-color="#ddba00"/><stop offset="0.9600" stop-color="#deb600"/><stop offset="0.9867" stop-color="#deb100"/></linearGradient><linearGradient id="r22" gradientUnits="userSpaceOnUse" x1="60" x2="660" y1="0" y2="0"><stop offset="0.0000" stop-color="#1aa24c"/><stop offset="0.0267" stop-color="#1ca349"/><stop offset="0.0533" stop-color="#1ea347"/><stop offset="0.0800" stop-color="#1fa346"/><stop offset="0.1067" stop-color="#20a346"/><stop offset="0.1333" stop-color="#20a345"/><stop offset="0.1600" stop-color="#1fa345"/><stop offset="0.1867" stop-color="#1fa345"/><stop offset="0.2133" stop-color="#20a345"/><stop offset="0.2400" stop-color="#21a344"/><stop offset="0.2667" stop-color="#23a343"/><stop offset="0.2933" stop-color="#27a443"/><stop offset="0.3200" stop-color="#2fa542"/><stop offset="0.3467" stop-color="#3da840"/><stop offset="0.3733" stop-color="#51ad3e"/><stop offset="0.4000" stop-color="#6bb43a"/><stop offset="0.4267" stop-color="#86bb36"/><stop offset="0.4533" stop-color="#9dc232"/><stop offset="0.4800" stop-color="#afc82d"/><stop offset="0.5067" stop-color="#bdcd28"/><stop offset="0.5333" stop-color="#c6d022"/><stop offset="0.5600" stop-color="#cdd31d"/><stop offset="0.5867" stop-color="#d1d617"/><stop offset="0.6133" stop-color="#d5d712"/><stop offset="0.6400" stop-color="#d7d80e"/><stop offset="0.6667" stop-color="#d9d80a"/><stop offset="0.6933" stop-color="#dbd706"/><stop offset="0.7200" stop-color="#dcd504"/><stop offset="0.7467" stop-color="#ddd301"/><stop offset="0.7733" stop-color="#ded100"/><stop offset="0.8000" stop-color="#dece00"/><stop offset="0.8267" stop-color="#deca00"/><stop offset="0.8533" stop-color="#dfc600"/><stop offset="0.8800" stop-color="#dfc200"/><stop offset="0.9067" stop-color="#dfbe00"/><stop offset="0.9333" stop-color="#dfb900"/><stop offset="0.9600" stop-color="#dfb500"/><stop offset="0.9867" stop-color="#dfb100"/></linearGradient><linearGradient id="r23" gradientUnits="userSpaceOnUse" x1="60" x2="660" y1="0" y2="0"><stop offset="0.0000" stop-color="#1ba24e"/><stop offset="0.0267" stop-color="#1da24b"/><stop offset="0.0533" stop-color="#1fa349"/><stop offset="0.0800" stop-color="#20a348"/><stop offset="0.1067" stop-color="#20a347"/><stop offset="0.1333" stop-color="#20a346"/><stop offset="0.1600" stop-color="#20a345"/><stop offset="0.1867" stop-color="#20a345"/><stop offset="0.2133" stop-color="#20a345"/><stop offset="0.2400" stop-color="#21a344"/><stop offset="0.2667" stop-color="#23a344"/><stop offset="0.2933" stop-color="#26a443"/><stop offset="0.3200" stop-color="#2ea542"/><stop offset="0.3467" stop-color="#3ea840"/><stop offset="0.3733" stop-color="#53ae3d"/><stop offset="0.4000" stop-color="#70b53a"/><stop offset="0.4267" stop-color="#8cbd36"/><stop offset="0.4533" stop-color="#a4c531"/><stop offset="0.4800" stop-color="#b7cb2c"/><stop offset="0.5067" stop-color="#c4d028"/><stop offset="0.5333" stop-color="#cdd322"/><stop offset="0.5600" stop-color="#d3d61d"/><stop offset="0.5867" stop-color="#d7d818"/><stop offset="0.6133" stop-color="#dad913"/><stop offset="0.6400" stop-color="#dcd90e"/><stop offset="0.6667" stop-color="#ddd90a"/><stop offset="0.6933" stop-color="#ded806"/><stop offset="0.7200" stop-color="#dfd704"/><stop offset="0.7467" stop-color="#e0d401"/><stop offset="0.7733" stop-color="#e0d200"/><stop offset="0.8000" stop-color="#e0ce00"/><stop offset="0.8267" stop-color="#e1ca00"/><stop offset="0.8533" stop-color="#e1c600"/><stop offset="0.8800" stop-color="#e1c200"/><stop offset="0.9067" stop-color="#e1bd00"/><stop offset="0.9333" stop-color="#e1b900"/><stop offset="0.9600" stop-color="#e0b400"/><stop offset="0.9867" stop-color="#e0b000"/></linearGradient><linearGradient id="r24" gradientUnits="userSpaceOnUse" x1="60" x2="660" y1="0" y2="0"><stop offset="0.0000" stop-color="#1ba251"/><stop offset="0.0267" stop-color="#1da24e"/><stop offset="0.0533" stop-color="#1fa34b"/><stop offset="0.0800" stop-color="#21a34a"/><stop offset="0.1067" stop-color="#21a349"/><stop offset="0.1333" stop-color="#21a347"/><stop offset="0.1600" stop-color="#21a346"/><stop offset="0.1867" stop-color="#20a346"/><stop offset="0.2133" stop-color="#21a345"/><stop offset="0.2400" stop-color="#22a345"/><stop offset="0.2667" stop-color="#24a344"/><stop offset="0.2933" stop-color="#27a443"/><stop offset="0.3200" stop-color="#2da543"/><stop offset="0.3467" stop-color="#3da940"/><stop offset="0.3733" stop-color="#54ae3d"/><stop offset="0.4000" stop-color="#74b73a"/><stop offset="0.4267" stop-color="#93bf36"/><stop offset="0.4533" stop-color="#acc731"/><stop offset="0.4800" stop-color="#bfce2c"/><stop offset="0.5067" stop-color="#ccd227"/><stop offset="0.5333" stop-color="#d4d522"/><stop offset="0.5600" stop-color="#d9d81d"/><stop offset="0.5867" stop-color="#dcda18"/><stop offset="0.6133" stop-color="#dedb13"/><stop offset="0.6400" stop-color="#e0db0e"/><stop offset="0.6667" stop-color="#e1da0a"/><stop offset="0.6933" stop-color="#e1d907"/><stop offset="0.7200" stop-color="#e2d804"/><stop offset="0.7467" stop-color="#e2d502"/><stop offset="0.7733" stop-color="#e2d200"/><stop offset="0.8000" stop-color="#e3cf00"/><stop offset="0.8267" stop-color="#e2cb00"/><stop offset="0.8533" stop-color="#e2c600"/><stop offset="0.8800" stop-color="#e2c200"/><stop offset="0.9067" stop-color="#e2bd00"/><stop offset="0.9333" stop-color="#e2b800"/><stop offset="0.9600" stop-color="#e2b300"/><stop offset="0.9867" stop-color="#e2af00"/></linearGradient><linearGradient id="r25" gradientUnits="userSpaceOnUse" x1="60" x2="660" y1="0" y2="0"><stop offset="0.0000" stop-color="#1ca154"/><stop offset="0.0267" stop-color="#1ea250"/><stop offset="0.0533" stop-color="#1fa24e"/><stop offset="0.0800" stop-color="#21a34c"/><stop offset="0.1067" stop-color="#21a34b"/><stop offset="0.1333" stop-color="#21a349"/><stop offset="0.1600" stop-color="#21a348"/><stop offset="0.1867" stop-color="#21a347"/><stop offset="0.2133" stop-color="#21a346"/><stop offset="0.2400" stop-color="#22a346"/><stop offset="0.2667" stop-color="#24a345"/><stop offset="0.2933" stop-color="#27a444"/><stop offset="0.3200" stop-color="#2ea543"/><stop offset="0.3467" stop-color="#3ea941"/><stop offset="0.3733" stop-color="#57af3d"/><stop offset="0.4000" stop-color="#79b839"/><stop offset="0.4267" stop-color="#9ac135"/><stop offset="0.4533" stop-color="#b5ca30"/><stop offset="0.4800" stop-color="#c7d12b"/><stop offset="0.5067" stop-color="#d3d526"/><stop offset="0.5333" stop-color="#dad822"/><stop offset="0.5600" stop-color="#deda1e"/><stop offset="0.5867" stop-color="#e1db19"/><stop offset="0.6133" stop-color="#e2dc13"/><stop offset="0.6400" stop-color="#e3dc0e"/><stop offset="0.6667" stop-color="#e4dc0a"/><stop offset="0.6933" stop-color="#e4db07"/><stop offset="0.7200" stop-color="#e5d904"/><stop offset="0.7467" stop-color="#e5d602"/><stop offset="0.7733" stop-color="#e5d300"/><stop offset="0.8000" stop-color="#e5cf00"/><stop offset="0.8267" stop-color="#e4cb00"/><stop offset="0.8533" stop-color="#e4c600"/><stop offset="0.8800" stop-color="#e4c100"/><stop offset="0.9067" stop-color="#e4bc00"/><stop offset="0.9333" stop-color="#e3b700"/><stop offset="0.9600" stop-color="#e3b200"/><stop offset="0.9867" stop-color="#e3ad00"/></linearGradient><linearGradient id="r26" gradientUnits="userSpaceOnUse" x1="60" x2="660" y1="0" y2="0"><stop offset="0.0000" stop-color="#1ca156"/><stop offset="0.0267" stop-color="#1ea253"/><stop offset="0.0533" stop-color="#20a251"/><stop offset="0.0800" stop-color="#21a24f"/><stop offset="0.1067" stop-color="#21a24d"/><stop offset="0.1333" stop-color="#21a24b"/><stop offset="0.1600" stop-color="#21a349"/><stop offset="0.1867" stop-color="#22a349"/><stop offset="0.2133" stop-color="#22a348"/><stop offset="0.2400" stop-color="#24a347"/><stop offset="0.2667" stop-color="#26a446"/><stop offset="0.2933" stop-color="#29a445"/><stop offset="0.3200" stop-color="#30a544"/><stop offset="0.3467" stop-color="#41aa41"/><stop offset="0.3733" stop-color="#5db13d"/><stop offset="0.4000" stop-color="#80ba39"/><stop offset="0.4267" stop-color="#a2c435"/><stop offset="0.4533" stop-color="#bdcd30"/><stop offset="0.4800" stop-color="#cfd42a"/><stop offset="0.5067" stop-color="#dad826"/><stop offset="0.5333" stop-color="#e0da22"/><stop offset="0.5600" stop-color="#e4dc1f"/><stop offset="0.5867" stop-color="#e5dd19"/><stop offset="0.6133" stop-color="#e6de14"/><stop offset="0.6400" stop-color="#e7de0f"/><stop offset="0.6667" stop-color="#e7dd0b"/><stop offset="0.6933" stop-color="#e7dc07"/><stop offset="0.7200" stop-color="#e7da05"/><stop offset="0.7467" stop-color="#e7d703"/><stop offset="0.7733" stop-color="#e7d301"/><stop offset="0.8000" stop-color="#e7cf00"/><stop offset="0.8267" stop-color="#e6cb00"/><stop offset="0.8533" stop-color="#e6c600"/><stop offset="0.8800" stop-color="#e5c100"/><stop offset="0.9067" stop-color="#e5bb00"/><stop offset="0.9333" stop-color="#e5b600"/><stop offset="0.9600" stop-color="#e4b100"/><stop offset="0.9867" stop-color="#e4ac00"/></linearGradient><linearGradient id="r27" gradientUnits="userSpaceOnUse" x1="60" x2="660" y1="0" y2="0"><stop offset="0.0000" stop-color="#1ca15a"/><stop offset="0.0267" stop-color="#1fa256"/><stop offset="0.0533" stop-color="#20a254"/><stop offset="0.0800" stop-color="#21a252"/><stop offset="0.1067" stop-color="#21a250"/><stop offset="0.1333" stop-color="#21a24e"/><stop offset="0.1600" stop-color="#22a24c"/><stop offset="0.1867" stop-color="#22a24b"/><stop offset="0.2133" stop-color="#24a34a"/><stop offset="0.2400" stop-color="#26a349"/><stop offset="0.2667" stop-color="#28a448"/><stop offset="0.2933" stop-color="#2ba447"/><stop offset="0.3200" stop-color="#33a645"/><stop offset="0.3467" stop-color="#46ab42"/><stop offset="0.3733" stop-color="#65b33d"/><stop offset="0.4000" stop-color="#89bd39"/><stop offset="0.4267" stop-color="#aac734"/><stop offset="0.4533" stop-color="#c5d02f"/><stop offset="0.4800" stop-color="#d6d72a"/><stop offset="0.5067" stop-color="#e0da26"/><stop offset="0.5333" stop-color="#e5dc22"/><stop offset="0.5600" stop-color="#e8de1f"/><stop offset="0.5867" stop-color="#e9df1a"/><stop offset="0.6133" stop-color="#eadf15"/><stop offset="0.6400" stop-color="#eadf10"/><stop offset="0.6667" stop-color="#eade0c"/><stop offset="0.6933" stop-color="#eadd08"/><stop offset="0.7200" stop-color="#eadb05"/><stop offset="0.7467" stop-color="#e9d803"/><stop offset="0.7733" stop-color="#e9d402"/><stop offset="0.8000" stop-color="#e8cf01"/><stop offset="0.8267" stop-color="#e8ca00"/><stop offset="0.8533" stop-color="#e7c500"/><stop offset="0.8800" stop-color="#e7c000"/><stop offset="0.9067" stop-color="#e6ba00"/><stop offset="0.9333" stop-color="#e6b500"/><stop offset="0.9600" stop-color="#e5b000"/><stop offset="0.9867" stop-color="#e5aa00"/></linearGradient><linearGradient id="r28" gradientUnits="userSpaceOnUse" x1="60" x2="660" y1="0" y2="0"><stop offset="0.0000" stop-color="#1ca05e"/><stop offset="0.0267" stop-color="#1fa159"/><stop offset="0.0533" stop-color="#20a258"/><stop offset="0.0800" stop-color="#21a256"/><stop offset="0.1067" stop-color="#22a254"/><stop offset="0.1333" stop-color="#22a251"/><stop offset="0.1600" stop-color="#22a24f"/><stop offset="0.1867" stop-color="#23a24e"/><stop offset="0.2133" stop-color="#25a34d"/><stop offset="0.2400" stop-color="#28a34b"/><stop offset="0.2667" stop-color="#2ba44a"/><stop offset="0.2933" stop-color="#2fa549"/><stop offset="0.3200" stop-color="#36a747"/><stop offset="0.3467" stop-color="#4cac43"/><stop offset="0.3733" stop-color="#6eb53e"/><stop offset="0.4000" stop-color="#92c03a"/><stop offset="0.4267" stop-color="#b3ca35"/><stop offset="0.4533" stop-color="#ccd32f"/><stop offset="0.4800" stop-color="#ddda2a"/><stop offset="0.5067" stop-color="#e6dd26"/><stop offset="0.5333" stop-color="#e9de24"/><stop offset="0.5600" stop-color="#ebe021"/><stop offset="0.5867" stop-color="#ece11b"/><stop offset="0.6133" stop-color="#ede116"/><stop offset="0.6400" stop-color="#ede111"/><stop offset="0.6667" stop-color="#ede00d"/><stop offset="0.6933" stop-color="#ecde09"/><stop offset="0.7200" stop-color="#ecdc06"/><stop offset="0.7467" stop-color="#ebd804"/><stop offset="0.7733" stop-color="#ebd403"/><stop offset="0.8000" stop-color="#eacf02"/><stop offset="0.8267" stop-color="#e9ca01"/><stop offset="0.8533" stop-color="#e9c500"/><stop offset="0.8800" stop-color="#e8bf00"/><stop offset="0.9067" stop-color="#e8b900"/><stop offset="0.9333" stop-color="#e7b400"/><stop offset="0.9600" stop-color="#e7ae00"/><stop offset="0.9867" stop-color="#e6a900"/></linearGradient><linearGradient id="r29" gradientUnits="userSpaceOnUse" x1="60" x2="660" y1="0" y2="0"><stop offset="0.0000" stop-color="#1da062"/><stop offset="0.0267" stop-color="#1fa15e"/><stop offset="0.0533" stop-color="#20a15d"/><stop offset="0.0800" stop-color="#21a15b"/><stop offset="0.1067" stop-color="#22a159"/><stop offset="0.1333" stop-color="#22a155"/><stop offset="0.1600" stop-color="#23a253"/><stop offset="0.1867" stop-color="#25a252"/><stop offset="0.2133" stop-color="#27a350"/><stop offset="0.2400" stop-color="#2ba44f"/><stop offset="0.2667" stop-color="#2fa54d"/><stop offset="0.2933" stop-color="#34a64c"/><stop offset="0.3200" stop-color="#3ca84a"/><stop offset="0.3467" stop-color="#54ae46"/><stop offset="0.3733" stop-color="#78b841"/><stop offset="0.4000" stop-color="#9dc33d"/><stop offset="0.4267" stop-color="#bdce38"/><stop offset="0.4533" stop-color="#d4d731"/><stop offset="0.4800" stop-color="#e2dc2c"/><stop offset="0.5067" stop-color="#eadf29"/><stop offset="0.5333" stop-color="#ede127"/><stop offset="0.5600" stop-color="#eee223"/><stop offset="0.5867" stop-color="#efe21d"/><stop offset="0.6133" stop-color="#efe218"/><stop offset="0.6400" stop-color="#efe213"/><stop offset="0.6667" stop-color="#efe10e"/><stop offset="0.6933" stop-color="#eedf0a"/><stop offset="0.7200" stop-color="#eedc08"/><stop offset="0.7467" stop-color="#edd906"/><stop offset="0.7733" stop-color="#ecd404"/><stop offset="0.8000" stop-color="#eccf03"/><stop offset="0.8267" stop-color="#ebca02"/><stop offset="0.8533" stop-color="#eac401"/><stop offset="0.8800" stop-color="#eabe01"/><stop offset="0.9067" stop-color="#e9b800"/><stop offset="0.9333" stop-color="#e8b200"/><stop offset="0.9600" stop-color="#e8ad00"/><stop offset="0.9867" stop-color="#e7a700"/></linearGradient><linearGradient id="r30" gradientUnits="userSpaceOnUse" x1="60" x2="660" y1="0" y2="0"><stop offset="0.0000" stop-color="#1c9f68"/><stop offset="0.0267" stop-color="#1fa064"/><stop offset="0.0533" stop-color="#21a062"/><stop offset="0.0800" stop-color="#22a061"/><stop offset="0.1067" stop-color="#22a15f"/><stop offset="0.1333" stop-color="#23a15b"/><stop offset="0.1600" stop-color="#24a158"/><stop offset="0.1867" stop-color="#26a256"/><stop offset="0.2133" stop-color="#29a255"/><stop offset="0.2400" stop-color="#2ea453"/><stop offset="0.2667" stop-color="#33a551"/><stop offset="0.2933" stop-color="#3ba851"/><stop offset="0.3200" stop-color="#47ab4f"/><stop offset="0.3467" stop-color="#5fb14b"/><stop offset="0.3733" stop-color="#84bc45"/><stop offset="0.4000" stop-color="#a8c843"/><stop offset="0.4267" stop-color="#c7d23e"/><stop offset="0.4533" stop-color="#dbda36"/><stop offset="0.4800" stop-color="#e7df2f"/><stop offset="0.5067" stop-color="#eee22d"/><stop offset="0.5333" stop-color="#f0e32c"/><stop offset="0.5600" stop-color="#f1e327"/><stop offset="0.5867" stop-color="#f1e320"/><stop offset="0.6133" stop-color="#f1e31a"/><stop offset="0.6400" stop-color="#f2e315"/><stop offset="0.6667" stop-color="#f1e210"/><stop offset="0.6933" stop-color="#f0e00c"/><stop offset="0.7200" stop-color="#efdd09"/><stop offset="0.7467" stop-color="#efd907"/><stop offset="0.7733" stop-color="#eed406"/><stop offset="0.8000" stop-color="#edcf04"/><stop offset="0.8267" stop-color="#ecc903"/><stop offset="0.8533" stop-color="#ebc302"/><stop offset="0.8800" stop-color="#ebbd02"/><stop offset="0.9067" stop-color="#eab701"/><stop offset="0.9333" stop-color="#e9b101"/><stop offset="0.9600" stop-color="#e9ab01"/><stop offset="0.9867" stop-color="#e8a501"/></linearGradient><linearGradient id="r31" gradientUnits="userSpaceOnUse" x1="60" x2="660" y1="0" y2="0"><stop offset="0.0000" stop-color="#1c9e6e"/><stop offset="0.0267" stop-color="#1f9f6a"/><stop offset="0.0533" stop-color="#219f69"/><stop offset="0.0800" stop-color="#22a068"/><stop offset="0.1067" stop-color="#23a065"/><stop offset="0.1333" stop-color="#24a061"/><stop offset="0.1600" stop-color="#25a15e"/><stop offset="0.1867" stop-color="#28a15c"/><stop offset="0.2133" stop-color="#2ca25a"/><stop offset="0.2400" stop-color="#31a458"/><stop offset="0.2667" stop-color="#38a656"/><stop offset="0.2933" stop-color="#44a957"/><stop offset="0.3200" stop-color="#56af56"/><stop offset="0.3467" stop-color="#6eb653"/><stop offset="0.3733" stop-color="#93c14d"/><stop offset="0.4000" stop-color="#b4cd4d"/><stop offset="0.4267" stop-color="#d0d74a"/><stop offset="0.4533" stop-color="#e1de40"/><stop offset="0.4800" stop-color="#eae137"/><stop offset="0.5067" stop-color="#f0e435"/><stop offset="0.5333" stop-color="#f2e534"/><stop offset="0.5600" stop-color="#f3e52e"/><stop offset="0.5867" stop-color="#f2e424"/><stop offset="0.6133" stop-color="#f3e41d"/><stop offset="0.6400" stop-color="#f3e318"/><stop offset="0.6667" stop-color="#f3e212"/><stop offset="0.6933" stop-color="#f2e00e"/><stop offset="0.7200" stop-color="#f1dd0b"/><stop offset="0.7467" stop-color="#f0d909"/><stop offset="0.7733" stop-color="#efd407"/><stop offset="0.8000" stop-color="#eece06"/><stop offset="0.8267" stop-color="#eec805"/><stop offset="0.8533" stop-color="#edc204"/><stop offset="0.8800" stop-color="#ecbb03"/><stop offset="0.9067" stop-color="#ebb502"/><stop offset="0.9333" stop-color="#eaaf02"/><stop offset="0.9600" stop-color="#e9a902"/><stop offset="0.9867" stop-color="#e9a302"/></linearGradient><linearGradient id="r32" gradientUnits="userSpaceOnUse" x1="60" x2="660" y1="0" y2="0"><stop offset="0.0000" stop-color="#1c9d75"/><stop offset="0.0267" stop-color="#1f9e71"/><stop offset="0.0533" stop-color="#219e70"/><stop offset="0.0800" stop-color="#239f70"/><stop offset="0.1067" stop-color="#249f6d"/><stop offset="0.1333" stop-color="#25a068"/><stop offset="0.1600" stop-color="#26a064"/><stop offset="0.1867" stop-color="#29a163"/><stop offset="0.2133" stop-color="#2ea261"/><stop offset="0.2400" stop-color="#34a45e"/><stop offset="0.2667" stop-color="#3ca65d"/><stop offset="0.2933" stop-color="#4dab5f"/><stop offset="0.3200" stop-color="#65b260"/><stop offset="0.3467" stop-color="#7dba5e"/><stop offset="0.3733" stop-color="#a0c65b"/><stop offset="0.4000" stop-color="#bfd25d"/><stop offset="0.4267" stop-color="#d8dc5b"/><stop offset="0.4533" stop-color="#e6e150"/><stop offset="0.4800" stop-color="#ede445"/><stop offset="0.5067" stop-color="#f2e742"/><stop offset="0.5333" stop-color="#f4e73f"/><stop offset="0.5600" stop-color="#f4e736"/><stop offset="0.5867" stop-color="#f4e52a"/><stop offset="0.6133" stop-color="#f4e421"/><stop offset="0.6400" stop-color="#f4e41b"/><stop offset="0.6667" stop-color="#f4e315"/><stop offset="0.6933" stop-color="#f3e111"/><stop offset="0.7200" stop-color="#f2de0e"/><stop offset="0.7467" stop-color="#f1d90c"/><stop offset="0.7733" stop-color="#f1d40a"/><stop offset="0.8000" stop-color="#f0cd08"/><stop offset="0.8267" stop-color="#efc706"/><stop offset="0.8533" stop-color="#eec005"/><stop offset="0.8800" stop-color="#edba04"/><stop offset="0.9067" stop-color="#ecb304"/><stop offset="0.9333" stop-color="#ebad03"/><stop offset="0.9600" stop-color="#eaa603"/><stop offset="0.9867" stop-color="#e9a003"/></linearGradient><linearGradient id="r33" gradientUnits="userSpaceOnUse" x1="60" x2="660" y1="0" y2="0"><stop offset="0.0000" stop-color="#1c9c7c"/><stop offset="0.0267" stop-color="#1f9d79"/><stop offset="0.0533" stop-color="#219d79"/><stop offset="0.0800" stop-color="#239e79"/><stop offset="0.1067" stop-color="#259f76"/><stop offset="0.1333" stop-color="#269f71"/><stop offset="0.1600" stop-color="#289f6c"/><stop offset="0.1867" stop-color="#2ba06b"/><stop offset="0.2133" stop-color="#30a169"/><stop offset="0.2400" stop-color="#37a367"/><stop offset="0.2667" stop-color="#41a666"/><stop offset="0.2933" stop-color="#56ad69"/><stop offset="0.3200" stop-color="#73b66c"/><stop offset="0.3467" stop-color="#8bbe6d"/><stop offset="0.3733" stop-color="#adcb6e"/><stop offset="0.4000" stop-color="#cad872"/><stop offset="0.4267" stop-color="#dfe172"/><stop offset="0.4533" stop-color="#eae566"/><stop offset="0.4800" stop-color="#f0e759"/><stop offset="0.5067" stop-color="#f4e953"/><stop offset="0.5333" stop-color="#f5ea4d"/><stop offset="0.5600" stop-color="#f5e842"/><stop offset="0.5867" stop-color="#f4e632"/><stop offset="0.6133" stop-color="#f4e527"/><stop offset="0.6400" stop-color="#f5e41f"/><stop offset="0.6667" stop-color="#f5e318"/><stop offset="0.6933" stop-color="#f4e114"/><stop offset="0.7200" stop-color="#f4de11"/><stop offset="0.7467" stop-color="#f3d90f"/><stop offset="0.7733" stop-color="#f2d30c"/><stop offset="0.8000" stop-color="#f1cc0a"/><stop offset="0.8267" stop-color="#f0c608"/><stop offset="0.8533" stop-color="#efbf07"/><stop offset="0.8800" stop-color="#eeb806"/><stop offset="0.9067" stop-color="#edb105"/><stop offset="0.9333" stop-color="#ecaa05"/><stop offset="0.9600" stop-color="#eba404"/><stop offset="0.9867" stop-color="#ea9e04"/></linearGradient><linearGradient id="r34" gradientUnits="userSpaceOnUse" x1="60" x2="660" y1="0" y2="0"><stop offset="0.0000" stop-color="#1c9b84"/><stop offset="0.0267" stop-color="#1f9b84"/><stop offset="0.0533" stop-color="#229c84"/><stop offset="0.0800" stop-color="#249d84"/><stop offset="0.1067" stop-color="#269e80"/><stop offset="0.1333" stop-color="#289e7b"/><stop offset="0.1600" stop-color="#2a9f76"/><stop offset="0.1867" stop-color="#2d9f74"/><stop offset="0.2133" stop-color="#32a072"/><stop offset="0.2400" stop-color="#3aa370"/><stop offset="0.2667" stop-color="#48a670"/><stop offset="0.2933" stop-color="#61ae75"/><stop offset="0.3200" stop-color="#80b97b"/><stop offset="0.3467" stop-color="#9ac47f"/><stop offset="0.3733" stop-color="#bad185"/><stop offset="0.4000" stop-color="#d4de8b"/><stop offset="0.4267" stop-color="#e5e68d"/><stop offset="0.4533" stop-color="#eee87f"/><stop offset="0.4800" stop-color="#f2ea71"/><stop offset="0.5067" stop-color="#f5ec68"/><stop offset="0.5333" stop-color="#f7ec5f"/><stop offset="0.5600" stop-color="#f6ea50"/><stop offset="0.5867" stop-color="#f5e73c"/><stop offset="0.6133" stop-color="#f5e52f"/><stop offset="0.6400" stop-color="#f5e424"/><stop offset="0.6667" stop-color="#f5e31e"/><stop offset="0.6933" stop-color="#f5e219"/><stop offset="0.7200" stop-color="#f4de15"/><stop offset="0.7467" stop-color="#f3d813"/><stop offset="0.7733" stop-color="#f2d210"/><stop offset="0.8000" stop-color="#f1cb0d"/><stop offset="0.8267" stop-color="#f0c40b"/><stop offset="0.8533" stop-color="#efbd09"/><stop offset="0.8800" stop-color="#eeb608"/><stop offset="0.9067" stop-color="#edae07"/><stop offset="0.9333" stop-color="#eca806"/><stop offset="0.9600" stop-color="#eba106"/><stop offset="0.9867" stop-color="#eb9b06"/></linearGradient><linearGradient id="r35" gradientUnits="userSpaceOnUse" x1="60" x2="660" y1="0" y2="0"><stop offset="0.0000" stop-color="#1c9a8d"/><stop offset="0.0267" stop-color="#209a8f"/><stop offset="0.0533" stop-color="#239b90"/><stop offset="0.0800" stop-color="#259c8f"/><stop offset="0.1067" stop-color="#279d8b"/><stop offset="0.1333" stop-color="#2a9e86"/><stop offset="0.1600" stop-color="#2c9e81"/><stop offset="0.1867" stop-color="#2f9f7e"/><stop offset="0.2133" stop-color="#34a07c"/><stop offset="0.2400" stop-color="#3da27a"/><stop offset="0.2667" stop-color="#4fa77c"/><stop offset="0.2933" stop-color="#6cb082"/><stop offset="0.3200" stop-color="#8dbc8a"/><stop offset="0.3467" stop-color="#a9c992"/><stop offset="0.3733" stop-color="#c6d79b"/><stop offset="0.4000" stop-color="#dde4a3"/><stop offset="0.4267" stop-color="#eaeaa4"/><stop offset="0.4533" stop-color="#f1ec98"/><stop offset="0.4800" stop-color="#f4ec8b"/><stop offset="0.5067" stop-color="#f7ee7f"/><stop offset="0.5333" stop-color="#f8ee72"/><stop offset="0.5600" stop-color="#f7eb60"/><stop offset="0.5867" stop-color="#f5e74a"/><stop offset="0.6133" stop-color="#f5e53b"/><stop offset="0.6400" stop-color="#f5e42e"/><stop offset="0.6667" stop-color="#f6e326"/><stop offset="0.6933" stop-color="#f6e220"/><stop offset="0.7200" stop-color="#f5dd1b"/><stop offset="0.7467" stop-color="#f4d717"/><stop offset="0.7733" stop-color="#f3d013"/><stop offset="0.8000" stop-color="#f2c910"/><stop offset="0.8267" stop-color="#f1c20d"/><stop offset="0.8533" stop-color="#f0ba0b"/><stop offset="0.8800" stop-color="#efb30a"/><stop offset="0.9067" stop-color="#eeac09"/><stop offset="0.9333" stop-color="#eda508"/><stop offset="0.9600" stop-color="#ec9e07"/><stop offset="0.9867" stop-color="#eb9807"/></linearGradient><linearGradient id="r36" gradientUnits="userSpaceOnUse" x1="60" x2="660" y1="0" y2="0"><stop offset="0.0000" stop-color="#1c9895"/><stop offset="0.0267" stop-color="#209999"/><stop offset="0.0533" stop-color="#239a9c"/><stop offset="0.0800" stop-color="#269b9a"/><stop offset="0.1067" stop-color="#299c97"/><stop offset="0.1333" stop-color="#2c9d91"/><stop offset="0.1600" stop-color="#2e9e8c"/><stop offset="0.1867" stop-color="#319e89"/><stop offset="0.2133" stop-color="#369f86"/><stop offset="0.2400" stop-color="#40a185"/><stop offset="0.2667" stop-color="#54a788"/><stop offset="0.2933" stop-color="#76b18f"/><stop offset="0.3200" stop-color="#9abf99"/><stop offset="0.3467" stop-color="#b6cda4"/><stop offset="0.3733" stop-color="#d0dcaf"/><stop offset="0.4000" stop-color="#e4e9b8"/><stop offset="0.4267" stop-color="#efeeb8"/><stop offset="0.4533" stop-color="#f4efb0"/><stop offset="0.4800" stop-color="#f6efa4"/><stop offset="0.5067" stop-color="#f8f096"/><stop offset="0.5333" stop-color="#f9f087"/><stop offset="0.5600" stop-color="#f8ed74"/><stop offset="0.5867" stop-color="#f6e95d"/><stop offset="0.6133" stop-color="#f6e64d"/><stop offset="0.6400" stop-color="#f6e43f"/><stop offset="0.6667" stop-color="#f6e334"/><stop offset="0.6933" stop-color="#f6e12a"/><stop offset="0.7200" stop-color="#f6dc23"/><stop offset="0.7467" stop-color="#f5d51d"/><stop offset="0.7733" stop-color="#f4ce17"/><stop offset="0.8000" stop-color="#f3c713"/><stop offset="0.8267" stop-color="#f2bf0f"/><stop offset="0.8533" stop-color="#f1b80d"/><stop offset="0.8800" stop-color="#efb00c"/><stop offset="0.9067" stop-color="#eea90b"/><stop offset="0.9333" stop-color="#eda20a"/><stop offset="0.9600" stop-color="#ec9b09"/><stop offset="0.9867" stop-color="#ec9509"/></linearGradient><linearGradient id="r37" gradientUnits="userSpaceOnUse" x1="60" x2="660" y1="0" y2="0"><stop offset="0.0000" stop-color="#1c979d"/><stop offset="0.0267" stop-color="#2098a2"/><stop offset="0.0533" stop-color="#2399a6"/><stop offset="0.0800" stop-color="#269aa5"/><stop offset="0.1067" stop-color="#299ba2"/><stop offset="0.1333" stop-color="#2d9c9c"/><stop offset="0.1600" stop-color="#309d98"/><stop offset="0.1867" stop-color="#339d94"/><stop offset="0.2133" stop-color="#389e91"/><stop offset="0.2400" stop-color="#43a090"/><stop offset="0.2667" stop-color="#58a693"/><stop offset="0.2933" stop-color="#7eb19c"/><stop offset="0.3200" stop-color="#a3c0a7"/><stop offset="0.3467" stop-color="#c1d0b4"/><stop offset="0.3733" stop-color="#d9e0c0"/><stop offset="0.4000" stop-color="#e9ecc9"/><stop offset="0.4267" stop-color="#f3f0ca"/><stop offset="0.4533" stop-color="#f6f1c5"/><stop offset="0.4800" stop-color="#f8f1bb"/><stop offset="0.5067" stop-color="#f9f2ad"/><stop offset="0.5333" stop-color="#faf29d"/><stop offset="0.5600" stop-color="#f9ef89"/><stop offset="0.5867" stop-color="#f7ea73"/><stop offset="0.6133" stop-color="#f6e762"/><stop offset="0.6400" stop-color="#f6e554"/><stop offset="0.6667" stop-color="#f6e346"/><stop offset="0.6933" stop-color="#f6e038"/><stop offset="0.7200" stop-color="#f6da2c"/><stop offset="0.7467" stop-color="#f5d323"/><stop offset="0.7733" stop-color="#f4cb1c"/><stop offset="0.8000" stop-color="#f3c416"/><stop offset="0.8267" stop-color="#f2bd12"/><stop offset="0.8533" stop-color="#f1b510"/><stop offset="0.8800" stop-color="#f0ad0e"/><stop offset="0.9067" stop-color="#efa50d"/><stop offset="0.9333" stop-color="#ee9e0c"/><stop offset="0.9600" stop-color="#ed970b"/><stop offset="0.9867" stop-color="#ec910a"/></linearGradient><linearGradient id="r38" gradientUnits="userSpaceOnUse" x1="60" x2="660" y1="0" y2="0"><stop offset="0.0000" stop-color="#1c96a4"/><stop offset="0.0267" stop-color="#1f97aa"/><stop offset="0.0533" stop-color="#2398af"/><stop offset="0.0800" stop-color="#2699ae"/><stop offset="0.1067" stop-color="#299aab"/><stop offset="0.1333" stop-color="#2d9ba6"/><stop offset="0.1600" stop-color="#319ca2"/><stop offset="0.1867" stop-color="#349c9e"/><stop offset="0.2133" stop-color="#3a9d9c"/><stop offset="0.2400" stop-color="#469f9b"/><stop offset="0.2667" stop-color="#5ba59f"/><stop offset="0.2933" stop-color="#81b1a7"/><stop offset="0.3200" stop-color="#a9c1b4"/><stop offset="0.3467" stop-color="#c9d2c2"/><stop offset="0.3733" stop-color="#e0e2ce"/><stop offset="0.4000" stop-color="#eeeed7"/><stop offset="0.4267" stop-color="#f6f2d8"/><stop offset="0.4533" stop-color="#f9f2d6"/><stop offset="0.4800" stop-color="#f9f3ce"/><stop offset="0.5067" stop-color="#faf4c1"/><stop offset="0.5333" stop-color="#faf3b1"/><stop offset="0.5600" stop-color="#f9f09e"/><stop offset="0.5867" stop-color="#f8eb89"/><stop offset="0.6133" stop-color="#f7e877"/><stop offset="0.6400" stop-color="#f7e46a"/><stop offset="0.6667" stop-color="#f7e15a"/><stop offset="0.6933" stop-color="#f6de47"/><stop offset="0.7200" stop-color="#f6d737"/><stop offset="0.7467" stop-color="#f5cf2a"/><stop offset="0.7733" stop-color="#f4c820"/><stop offset="0.8000" stop-color="#f3c119"/><stop offset="0.8267" stop-color="#f2b915"/><stop offset="0.8533" stop-color="#f1b112"/><stop offset="0.8800" stop-color="#f0a910"/><stop offset="0.9067" stop-color="#efa20f"/><stop offset="0.9333" stop-color="#ee9a0e"/><stop offset="0.9600" stop-color="#ed930d"/><stop offset="0.9867" stop-color="#ec8d0c"/></linearGradient><linearGradient id="r39" gradientUnits="userSpaceOnUse" x1="60" x2="660" y1="0" y2="0"><stop offset="0.0000" stop-color="#1b95aa"/><stop offset="0.0267" stop-color="#1e96b0"/><stop offset="0.0533" stop-color="#2297b5"/><stop offset="0.0800" stop-color="#2597b5"/><stop offset="0.1067" stop-color="#2998b3"/><stop offset="0.1333" stop-color="#2c9aaf"/><stop offset="0.1600" stop-color="#309aac"/><stop offset="0.1867" stop-color="#349aa8"/><stop offset="0.2133" stop-color="#3c9ba6"/><stop offset="0.2400" stop-color="#499ea7"/><stop offset="0.2667" stop-color="#5fa4aa"/><stop offset="0.2933" stop-color="#84afb2"/><stop offset="0.3200" stop-color="#adc0be"/><stop offset="0.3467" stop-color="#ced2cd"/><stop offset="0.3733" stop-color="#e4e3d9"/><stop offset="0.4000" stop-color="#f2eee1"/><stop offset="0.4267" stop-color="#f8f2e3"/><stop offset="0.4533" stop-color="#faf3e2"/><stop offset="0.4800" stop-color="#fbf4dd"/><stop offset="0.5067" stop-color="#fbf4d2"/><stop offset="0.5333" stop-color="#fbf3c3"/><stop offset="0.5600" stop-color="#faf0b2"/><stop offset="0.5867" stop-color="#f9ec9e"/><stop offset="0.6133" stop-color="#f8e88c"/><stop offset="0.6400" stop-color="#f7e37d"/><stop offset="0.6667" stop-color="#f7df6b"/><stop offset="0.6933" stop-color="#f6da54"/><stop offset="0.7200" stop-color="#f6d341"/><stop offset="0.7467" stop-color="#f5ca31"/><stop offset="0.7733" stop-color="#f4c424"/><stop offset="0.8000" stop-color="#f4bd1c"/><stop offset="0.8267" stop-color="#f3b518"/><stop offset="0.8533" stop-color="#f2ad15"/><stop offset="0.8800" stop-color="#f0a513"/><stop offset="0.9067" stop-color="#ef9d11"/><stop offset="0.9333" stop-color="#ee9610"/><stop offset="0.9600" stop-color="#ed8f0f"/><stop offset="0.9867" stop-color="#ec890e"/></linearGradient><linearGradient id="r40" gradientUnits="userSpaceOnUse" x1="60" x2="660" y1="0" y2="0"><stop offset="0.0000" stop-color="#1a93ae"/><stop offset="0.0267" stop-color="#1d94b5"/><stop offset="0.0533" stop-color="#2195ba"/><stop offset="0.0800" stop-color="#2496bb"/><stop offset="0.1067" stop-color="#2797b9"/><stop offset="0.1333" stop-color="#2b98b7"/><stop offset="0.1600" stop-color="#2f98b4"/><stop offset="0.1867" stop-color="#3499b1"/><stop offset="0.2133" stop-color="#3d9ab0"/><stop offset="0.2400" stop-color="#4b9db1"/><stop offset="0.2667" stop-color="#61a2b4"/><stop offset="0.2933" stop-color="#86adbb"/><stop offset="0.3200" stop-color="#afbdc7"/><stop offset="0.3467" stop-color="#d0d0d4"/><stop offset="0.3733" stop-color="#e7e2df"/><stop offset="0.4000" stop-color="#f4eee8"/><stop offset="0.4267" stop-color="#faf2ea"/><stop offset="0.4533" stop-color="#fbf3e9"/><stop offset="0.4800" stop-color="#fcf4e5"/><stop offset="0.5067" stop-color="#fcf4de"/><stop offset="0.5333" stop-color="#fcf3d2"/><stop offset="0.5600" stop-color="#fbefc2"/><stop offset="0.5867" stop-color="#faebaf"/><stop offset="0.6133" stop-color="#f9e69c"/><stop offset="0.6400" stop-color="#f8e08c"/><stop offset="0.6667" stop-color="#f7da78"/><stop offset="0.6933" stop-color="#f6d45f"/><stop offset="0.7200" stop-color="#f5cc4a"/><stop offset="0.7467" stop-color="#f5c538"/><stop offset="0.7733" stop-color="#f4bf29"/><stop offset="0.8000" stop-color="#f4b920"/><stop offset="0.8267" stop-color="#f3b11b"/><stop offset="0.8533" stop-color="#f2a918"/><stop offset="0.8800" stop-color="#f0a116"/><stop offset="0.9067" stop-color="#ef9914"/><stop offset="0.9333" stop-color="#ee9212"/><stop offset="0.9600" stop-color="#ed8b11"/><stop offset="0.9867" stop-color="#ec8510"/></linearGradient><linearGradient id="r41" gradientUnits="userSpaceOnUse" x1="60" x2="660" y1="0" y2="0"><stop offset="0.0000" stop-color="#1992b2"/><stop offset="0.0267" stop-color="#1c93b9"/><stop offset="0.0533" stop-color="#1f93be"/><stop offset="0.0800" stop-color="#2294c0"/><stop offset="0.1067" stop-color="#2695bf"/><stop offset="0.1333" stop-color="#2996bd"/><stop offset="0.1600" stop-color="#2d96bb"/><stop offset="0.1867" stop-color="#3497b9"/><stop offset="0.2133" stop-color="#3d98b9"/><stop offset="0.2400" stop-color="#4b9bbb"/><stop offset="0.2667" stop-color="#61a0bc"/><stop offset="0.2933" stop-color="#86aac3"/><stop offset="0.3200" stop-color="#afbacc"/><stop offset="0.3467" stop-color="#d0cdd8"/><stop offset="0.3733" stop-color="#e8dee3"/><stop offset="0.4000" stop-color="#f5ebeb"/><stop offset="0.4267" stop-color="#faefed"/><stop offset="0.4533" stop-color="#fcf1ec"/><stop offset="0.4800" stop-color="#fcf1e8"/><stop offset="0.5067" stop-color="#fcf1e4"/><stop offset="0.5333" stop-color="#fcefda"/><stop offset="0.5600" stop-color="#fbeccd"/><stop offset="0.5867" stop-color="#fae7bb"/><stop offset="0.6133" stop-color="#f9e1a8"/><stop offset="0.6400" stop-color="#f8da94"/><stop offset="0.6667" stop-color="#f6d37f"/><stop offset="0.6933" stop-color="#f5cc67"/><stop offset="0.7200" stop-color="#f5c453"/><stop offset="0.7467" stop-color="#f4be3f"/><stop offset="0.7733" stop-color="#f4ba2e"/><stop offset="0.8000" stop-color="#f4b424"/><stop offset="0.8267" stop-color="#f3ab1f"/><stop offset="0.8533" stop-color="#f2a31b"/><stop offset="0.8800" stop-color="#f09c18"/><stop offset="0.9067" stop-color="#ef9416"/><stop offset="0.9333" stop-color="#ee8d14"/><stop offset="0.9600" stop-color="#ed8613"/><stop offset="0.9867" stop-color="#ec8012"/></linearGradient><linearGradient id="r42" gradientUnits="userSpaceOnUse" x1="60" x2="660" y1="0" y2="0"><stop offset="0.0000" stop-color="#1891b6"/><stop offset="0.0267" stop-color="#1b91bc"/><stop offset="0.0533" stop-color="#1e92c2"/><stop offset="0.0800" stop-color="#2193c4"/><stop offset="0.1067" stop-color="#2493c3"/><stop offset="0.1333" stop-color="#2794c2"/><stop offset="0.1600" stop-color="#2c94c1"/><stop offset="0.1867" stop-color="#3395bf"/><stop offset="0.2133" stop-color="#3d97c0"/><stop offset="0.2400" stop-color="#4b99c2"/><stop offset="0.2667" stop-color="#5e9dc2"/><stop offset="0.2933" stop-color="#83a7c7"/><stop offset="0.3200" stop-color="#acb5d0"/><stop offset="0.3467" stop-color="#cfc7da"/><stop offset="0.3733" stop-color="#e7d7e3"/><stop offset="0.4000" stop-color="#f4e4ea"/><stop offset="0.4267" stop-color="#f9e6ea"/><stop offset="0.4533" stop-color="#fbe9e9"/><stop offset="0.4800" stop-color="#fbe9e6"/><stop offset="0.5067" stop-color="#fbe8e3"/><stop offset="0.5333" stop-color="#fbe6dc"/><stop offset="0.5600" stop-color="#fbe4d1"/><stop offset="0.5867" stop-color="#f9debe"/><stop offset="0.6133" stop-color="#f8d6ac"/><stop offset="0.6400" stop-color="#f7cf97"/><stop offset="0.6667" stop-color="#f6c882"/><stop offset="0.6933" stop-color="#f5c16d"/><stop offset="0.7200" stop-color="#f4ba59"/><stop offset="0.7467" stop-color="#f4b547"/><stop offset="0.7733" stop-color="#f4b334"/><stop offset="0.8000" stop-color="#f3ad28"/><stop offset="0.8267" stop-color="#f2a522"/><stop offset="0.8533" stop-color="#f19e1f"/><stop offset="0.8800" stop-color="#f0961b"/><stop offset="0.9067" stop-color="#ef8e19"/><stop offset="0.9333" stop-color="#ee8717"/><stop offset="0.9600" stop-color="#ed8115"/><stop offset="0.9867" stop-color="#ec7b14"/></linearGradient><linearGradient id="r43" gradientUnits="userSpaceOnUse" x1="60" x2="660" y1="0" y2="0"><stop offset="0.0000" stop-color="#188fb8"/><stop offset="0.0267" stop-color="#1a90be"/><stop offset="0.0533" stop-color="#1d90c4"/><stop offset="0.0800" stop-color="#2091c6"/><stop offset="0.1067" stop-color="#2392c5"/><stop offset="0.1333" stop-color="#2692c5"/><stop offset="0.1600" stop-color="#2a93c5"/><stop offset="0.1867" stop-color="#3294c4"/><stop offset="0.2133" stop-color="#3c95c5"/><stop offset="0.2400" stop-color="#4a97c7"/><stop offset="0.2667" stop-color="#5d9ac7"/><stop offset="0.2933" stop-color="#7fa2ca"/><stop offset="0.3200" stop-color="#a9afd1"/><stop offset="0.3467" stop-color="#ccbfd9"/><stop offset="0.3733" stop-color="#e4cde0"/><stop offset="0.4000" stop-color="#f1d7e5"/><stop offset="0.4267" stop-color="#f6d8e4"/><stop offset="0.4533" stop-color="#f8d8e0"/><stop offset="0.4800" stop-color="#f9d9dd"/><stop offset="0.5067" stop-color="#fad7db"/><stop offset="0.5333" stop-color="#f9d5d5"/><stop offset="0.5600" stop-color="#f9d3ca"/><stop offset="0.5867" stop-color="#f8cbb7"/><stop offset="0.6133" stop-color="#f7c3a6"/><stop offset="0.6400" stop-color="#f5be93"/><stop offset="0.6667" stop-color="#f4ba81"/><stop offset="0.6933" stop-color="#f3b56f"/><stop offset="0.7200" stop-color="#f3ae5f"/><stop offset="0.7467" stop-color="#f3ab4d"/><stop offset="0.7733" stop-color="#f3a93a"/><stop offset="0.8000" stop-color="#f3a42d"/><stop offset="0.8267" stop-color="#f29e27"/><stop offset="0.8533" stop-color="#f19722"/><stop offset="0.8800" stop-color="#f0901f"/><stop offset="0.9067" stop-color="#ef891c"/><stop offset="0.9333" stop-color="#ee8119"/><stop offset="0.9600" stop-color="#ed7b17"/><stop offset="0.9867" stop-color="#ec7616"/></linearGradient><linearGradient id="r44" gradientUnits="userSpaceOnUse" x1="60" x2="660" y1="0" y2="0"><stop offset="0.0000" stop-color="#178eba"/><stop offset="0.0267" stop-color="#1a8ec0"/><stop offset="0.0533" stop-color="#1c8fc5"/><stop offset="0.0800" stop-color="#1f90c7"/><stop offset="0.1067" stop-color="#2290c7"/><stop offset="0.1333" stop-color="#2491c7"/><stop offset="0.1600" stop-color="#2991c7"/><stop offset="0.1867" stop-color="#3092c7"/><stop offset="0.2133" stop-color="#3a93c8"/><stop offset="0.2400" stop-color="#4894c9"/><stop offset="0.2667" stop-color="#5c97ca"/><stop offset="0.2933" stop-color="#7d9ecc"/><stop offset="0.3200" stop-color="#a4a8d0"/><stop offset="0.3467" stop-color="#c8b5d6"/><stop offset="0.3733" stop-color="#e0bfda"/><stop offset="0.4000" stop-color="#eec6dc"/><stop offset="0.4267" stop-color="#f3c5d9"/><stop offset="0.4533" stop-color="#f5c1d3"/><stop offset="0.4800" stop-color="#f6c0cf"/><stop offset="0.5067" stop-color="#f7bfcf"/><stop offset="0.5333" stop-color="#f7bdca"/><stop offset="0.5600" stop-color="#f6babf"/><stop offset="0.5867" stop-color="#f5afab"/><stop offset="0.6133" stop-color="#f4a99b"/><stop offset="0.6400" stop-color="#f3a78a"/><stop offset="0.6667" stop-color="#f3a87d"/><stop offset="0.6933" stop-color="#f2a66f"/><stop offset="0.7200" stop-color="#f2a162"/><stop offset="0.7467" stop-color="#f29f53"/><stop offset="0.7733" stop-color="#f29f40"/><stop offset="0.8000" stop-color="#f29a32"/><stop offset="0.8267" stop-color="#f1952b"/><stop offset="0.8533" stop-color="#f19026"/><stop offset="0.8800" stop-color="#f08a22"/><stop offset="0.9067" stop-color="#ef821e"/><stop offset="0.9333" stop-color="#ee7b1c"/><stop offset="0.9600" stop-color="#ed7519"/><stop offset="0.9867" stop-color="#ec7018"/></linearGradient><linearGradient id="r45" gradientUnits="userSpaceOnUse" x1="60" x2="660" y1="0" y2="0"><stop offset="0.0000" stop-color="#168cbc"/><stop offset="0.0267" stop-color="#198dc1"/><stop offset="0.0533" stop-color="#1b8dc5"/><stop offset="0.0800" stop-color="#1e8ec7"/><stop offset="0.1067" stop-color="#208fc8"/><stop offset="0.1333" stop-color="#238fc8"/><stop offset="0.1600" stop-color="#288fc9"/><stop offset="0.1867" stop-color="#2f90c9"/><stop offset="0.2133" stop-color="#3891ca"/><stop offset="0.2400" stop-color="#4692cb"/><stop offset="0.2667" stop-color="#5994cb"/><stop offset="0.2933" stop-color="#7999cc"/><stop offset="0.3200" stop-color="#9fa1ce"/><stop offset="0.3467" stop-color="#c3aad2"/><stop offset="0.3733" stop-color="#dcb0d3"/><stop offset="0.4000" stop-color="#e9b2d2"/><stop offset="0.4267" stop-color="#efafce"/><stop offset="0.4533" stop-color="#f1a6c4"/><stop offset="0.4800" stop-color="#f2a0be"/><stop offset="0.5067" stop-color="#f4a2c0"/><stop offset="0.5333" stop-color="#f4a1bc"/><stop offset="0.5600" stop-color="#f39bb1"/><stop offset="0.5867" stop-color="#f28f9e"/><stop offset="0.6133" stop-color="#f18b90"/><stop offset="0.6400" stop-color="#f18e82"/><stop offset="0.6667" stop-color="#f09377"/><stop offset="0.6933" stop-color="#f0946e"/><stop offset="0.7200" stop-color="#f09164"/><stop offset="0.7467" stop-color="#f09255"/><stop offset="0.7733" stop-color="#f19445"/><stop offset="0.8000" stop-color="#f19138"/><stop offset="0.8267" stop-color="#f18d30"/><stop offset="0.8533" stop-color="#f0882a"/><stop offset="0.8800" stop-color="#ef8325"/><stop offset="0.9067" stop-color="#ee7b21"/><stop offset="0.9333" stop-color="#ed751e"/><stop offset="0.9600" stop-color="#ec6f1c"/><stop offset="0.9867" stop-color="#ec6a1a"/></linearGradient><linearGradient id="r46" gradientUnits="userSpaceOnUse" x1="60" x2="660" y1="0" y2="0"><stop offset="0.0000" stop-color="#158bbd"/><stop offset="0.0267" stop-color="#188bc1"/><stop offset="0.0533" stop-color="#1b8cc5"/><stop offset="0.0800" stop-color="#1d8dc7"/><stop offset="0.1067" stop-color="#208dc8"/><stop offset="0.1333" stop-color="#228dc9"/><stop offset="0.1600" stop-color="#268ec9"/><stop offset="0.1867" stop-color="#2d8eca"/><stop offset="0.2133" stop-color="#368ecb"/><stop offset="0.2400" stop-color="#438fcb"/><stop offset="0.2667" stop-color="#5590cb"/><stop offset="0.2933" stop-color="#7393cb"/><stop offset="0.3200" stop-color="#9999cc"/><stop offset="0.3467" stop-color="#be9ecd"/><stop offset="0.3733" stop-color="#d6a0cb"/><stop offset="0.4000" stop-color="#e49dc7"/><stop offset="0.4267" stop-color="#eb99c2"/><stop offset="0.4533" stop-color="#ed89b6"/><stop offset="0.4800" stop-color="#ee80ae"/><stop offset="0.5067" stop-color="#f083b0"/><stop offset="0.5333" stop-color="#f183ae"/><stop offset="0.5600" stop-color="#f07ca4"/><stop offset="0.5867" stop-color="#ef6e92"/><stop offset="0.6133" stop-color="#ee6e86"/><stop offset="0.6400" stop-color="#ee757c"/><stop offset="0.6667" stop-color="#ee7c74"/><stop offset="0.6933" stop-color="#ef806e"/><stop offset="0.7200" stop-color="#ef8164"/><stop offset="0.7467" stop-color="#ef8456"/><stop offset="0.7733" stop-color="#f0894a"/><stop offset="0.8000" stop-color="#f0873d"/><stop offset="0.8267" stop-color="#f08334"/><stop offset="0.8533" stop-color="#ef802e"/><stop offset="0.8800" stop-color="#ef7b28"/><stop offset="0.9067" stop-color="#ee7424"/><stop offset="0.9333" stop-color="#ed6d21"/><stop offset="0.9600" stop-color="#ec681e"/><stop offset="0.9867" stop-color="#eb641c"/></linearGradient><linearGradient id="r47" gradientUnits="userSpaceOnUse" x1="60" x2="660" y1="0" y2="0"><stop offset="0.0000" stop-color="#1589bd"/><stop offset="0.0267" stop-color="#1789c1"/><stop offset="0.0533" stop-color="#1a8ac4"/><stop offset="0.0800" stop-color="#1d8bc6"/><stop offset="0.1067" stop-color="#1f8bc8"/><stop offset="0.1333" stop-color="#218cc8"/><stop offset="0.1600" stop-color="#258cc9"/><stop offset="0.1867" stop-color="#2b8bca"/><stop offset="0.2133" stop-color="#348ccb"/><stop offset="0.2400" stop-color="#408ccb"/><stop offset="0.2667" stop-color="#508cca"/><stop offset="0.2933" stop-color="#6d8dc9"/><stop offset="0.3200" stop-color="#9390c9"/><stop offset="0.3467" stop-color="#b692c7"/><stop offset="0.3733" stop-color="#cf90c3"/><stop offset="0.4000" stop-color="#df89bd"/><stop offset="0.4267" stop-color="#e685b8"/><stop offset="0.4533" stop-color="#e96faa"/><stop offset="0.4800" stop-color="#ea62a0"/><stop offset="0.5067" stop-color="#ed67a3"/><stop offset="0.5333" stop-color="#ee67a2"/><stop offset="0.5600" stop-color="#ed5f98"/><stop offset="0.5867" stop-color="#ec5189"/><stop offset="0.6133" stop-color="#eb5480"/><stop offset="0.6400" stop-color="#ec5e79"/><stop offset="0.6667" stop-color="#ed6773"/><stop offset="0.6933" stop-color="#ed6d6e"/><stop offset="0.7200" stop-color="#ee7065"/><stop offset="0.7467" stop-color="#ed7557"/><stop offset="0.7733" stop-color="#ee7c4d"/><stop offset="0.8000" stop-color="#ef7b42"/><stop offset="0.8267" stop-color="#ef7738"/><stop offset="0.8533" stop-color="#ef7631"/><stop offset="0.8800" stop-color="#ee722c"/><stop offset="0.9067" stop-color="#ed6b27"/><stop offset="0.9333" stop-color="#ec6623"/><stop offset="0.9600" stop-color="#ec6120"/><stop offset="0.9867" stop-color="#eb5d1e"/></linearGradient><linearGradient id="r48" gradientUnits="userSpaceOnUse" x1="60" x2="660" y1="0" y2="0"><stop offset="0.0000" stop-color="#1487bd"/><stop offset="0.0267" stop-color="#1788c1"/><stop offset="0.0533" stop-color="#1a88c4"/><stop offset="0.0800" stop-color="#1c89c6"/><stop offset="0.1067" stop-color="#1e89c7"/><stop offset="0.1333" stop-color="#208ac8"/><stop offset="0.1600" stop-color="#2489c9"/><stop offset="0.1867" stop-color="#2989c9"/><stop offset="0.2133" stop-color="#3289ca"/><stop offset="0.2400" stop-color="#3d88c9"/><stop offset="0.2667" stop-color="#4c87c8"/><stop offset="0.2933" stop-color="#6887c7"/><stop offset="0.3200" stop-color="#8c88c5"/><stop offset="0.3467" stop-color="#ad87c2"/><stop offset="0.3733" stop-color="#c881bc"/><stop offset="0.4000" stop-color="#d977b4"/><stop offset="0.4267" stop-color="#e270af"/><stop offset="0.4533" stop-color="#e559a0"/><stop offset="0.4800" stop-color="#e64a96"/><stop offset="0.5067" stop-color="#ea4e98"/><stop offset="0.5333" stop-color="#eb4e97"/><stop offset="0.5600" stop-color="#eb468f"/><stop offset="0.5867" stop-color="#e93a84"/><stop offset="0.6133" stop-color="#e93e7d"/><stop offset="0.6400" stop-color="#ea4978"/><stop offset="0.6667" stop-color="#ec5474"/><stop offset="0.6933" stop-color="#ec5a6e"/><stop offset="0.7200" stop-color="#ed5f65"/><stop offset="0.7467" stop-color="#ec6558"/><stop offset="0.7733" stop-color="#ed6c4f"/><stop offset="0.8000" stop-color="#ee6d45"/><stop offset="0.8267" stop-color="#ee6b3d"/><stop offset="0.8533" stop-color="#ee6a36"/><stop offset="0.8800" stop-color="#ed672f"/><stop offset="0.9067" stop-color="#ec622a"/><stop offset="0.9333" stop-color="#ec5e26"/><stop offset="0.9600" stop-color="#eb5a23"/><stop offset="0.9867" stop-color="#ea5720"/></linearGradient><linearGradient id="r49" gradientUnits="userSpaceOnUse" x1="60" x2="660" y1="0" y2="0"><stop offset="0.0000" stop-color="#1386be"/><stop offset="0.0267" stop-color="#1686c1"/><stop offset="0.0533" stop-color="#1986c4"/><stop offset="0.0800" stop-color="#1c87c5"/><stop offset="0.1067" stop-color="#1e87c7"/><stop offset="0.1333" stop-color="#1f87c8"/><stop offset="0.1600" stop-color="#2387c8"/><stop offset="0.1867" stop-color="#2886c8"/><stop offset="0.2133" stop-color="#3085c8"/><stop offset="0.2400" stop-color="#3a84c7"/><stop offset="0.2667" stop-color="#4a83c6"/><stop offset="0.2933" stop-color="#6481c4"/><stop offset="0.3200" stop-color="#8580c2"/><stop offset="0.3467" stop-color="#a57cbd"/><stop offset="0.3733" stop-color="#c074b6"/><stop offset="0.4000" stop-color="#d468ad"/><stop offset="0.4267" stop-color="#de5da6"/><stop offset="0.4533" stop-color="#e24699"/><stop offset="0.4800" stop-color="#e4378f"/><stop offset="0.5067" stop-color="#e73990"/><stop offset="0.5333" stop-color="#e9398e"/><stop offset="0.5600" stop-color="#e93289"/><stop offset="0.5867" stop-color="#e82980"/><stop offset="0.6133" stop-color="#e82c7b"/><stop offset="0.6400" stop-color="#e93678"/><stop offset="0.6667" stop-color="#ea4175"/><stop offset="0.6933" stop-color="#eb496e"/><stop offset="0.7200" stop-color="#eb4f65"/><stop offset="0.7467" stop-color="#eb535b"/><stop offset="0.7733" stop-color="#ec5952"/><stop offset="0.8000" stop-color="#ec5d49"/><stop offset="0.8267" stop-color="#ec5d41"/><stop offset="0.8533" stop-color="#ec5d3a"/><stop offset="0.8800" stop-color="#ec5b33"/><stop offset="0.9067" stop-color="#eb582d"/><stop offset="0.9333" stop-color="#eb5528"/><stop offset="0.9600" stop-color="#ea5225"/><stop offset="0.9867" stop-color="#ea5022"/></linearGradient><linearGradient id="r50" gradientUnits="userSpaceOnUse" x1="60" x2="660" y1="0" y2="0"><stop offset="0.0000" stop-color="#1384bd"/><stop offset="0.0267" stop-color="#1684c0"/><stop offset="0.0533" stop-color="#1984c3"/><stop offset="0.0800" stop-color="#1b85c5"/><stop offset="0.1067" stop-color="#1d85c6"/><stop offset="0.1333" stop-color="#1f85c7"/><stop offset="0.1600" stop-color="#2285c7"/><stop offset="0.1867" stop-color="#2684c7"/><stop offset="0.2133" stop-color="#2e82c6"/><stop offset="0.2400" stop-color="#3880c5"/><stop offset="0.2667" stop-color="#477ec3"/><stop offset="0.2933" stop-color="#607cc1"/><stop offset="0.3200" stop-color="#7e78be"/><stop offset="0.3467" stop-color="#9d73b9"/><stop offset="0.3733" stop-color="#b96ab2"/><stop offset="0.4000" stop-color="#ce5da8"/><stop offset="0.4267" stop-color="#db4fa0"/><stop offset="0.4533" stop-color="#e03995"/><stop offset="0.4800" stop-color="#e3298c"/><stop offset="0.5067" stop-color="#e6288a"/><stop offset="0.5333" stop-color="#e72788"/><stop offset="0.5600" stop-color="#e72284"/><stop offset="0.5867" stop-color="#e71c7e"/><stop offset="0.6133" stop-color="#e71e7a"/><stop offset="0.6400" stop-color="#e82678"/><stop offset="0.6667" stop-color="#e92f75"/><stop offset="0.6933" stop-color="#ea386f"/><stop offset="0.7200" stop-color="#ea3e67"/><stop offset="0.7467" stop-color="#ea425d"/><stop offset="0.7733" stop-color="#ea4654"/><stop offset="0.8000" stop-color="#eb4c4c"/><stop offset="0.8267" stop-color="#eb4f44"/><stop offset="0.8533" stop-color="#eb503e"/><stop offset="0.8800" stop-color="#eb5036"/><stop offset="0.9067" stop-color="#eb4f2f"/><stop offset="0.9333" stop-color="#ea4c2a"/><stop offset="0.9600" stop-color="#ea4a27"/><stop offset="0.9867" stop-color="#e94925"/></linearGradient><linearGradient id="r51" gradientUnits="userSpaceOnUse" x1="60" x2="660" y1="0" y2="0"><stop offset="0.0000" stop-color="#1282bd"/><stop offset="0.0267" stop-color="#1582c0"/><stop offset="0.0533" stop-color="#1882c2"/><stop offset="0.0800" stop-color="#1b82c4"/><stop offset="0.1067" stop-color="#1d82c5"/><stop offset="0.1333" stop-color="#1e83c6"/><stop offset="0.1600" stop-color="#2182c6"/><stop offset="0.1867" stop-color="#2581c5"/><stop offset="0.2133" stop-color="#2c7fc4"/><stop offset="0.2400" stop-color="#367cc2"/><stop offset="0.2667" stop-color="#4479c0"/><stop offset="0.2933" stop-color="#5c76be"/><stop offset="0.3200" stop-color="#7872ba"/><stop offset="0.3467" stop-color="#966bb5"/><stop offset="0.3733" stop-color="#b361ae"/><stop offset="0.4000" stop-color="#ca54a5"/><stop offset="0.4267" stop-color="#d8459d"/><stop offset="0.4533" stop-color="#df3193"/><stop offset="0.4800" stop-color="#e31f8a"/><stop offset="0.5067" stop-color="#e51c86"/><stop offset="0.5333" stop-color="#e61a83"/><stop offset="0.5600" stop-color="#e61781"/><stop offset="0.5867" stop-color="#e6127d"/><stop offset="0.6133" stop-color="#e6147a"/><stop offset="0.6400" stop-color="#e71979"/><stop offset="0.6667" stop-color="#e82176"/><stop offset="0.6933" stop-color="#e82b70"/><stop offset="0.7200" stop-color="#e93068"/><stop offset="0.7467" stop-color="#e9325f"/><stop offset="0.7733" stop-color="#e93357"/><stop offset="0.8000" stop-color="#e93d4e"/><stop offset="0.8267" stop-color="#ea4247"/><stop offset="0.8533" stop-color="#ea4441"/><stop offset="0.8800" stop-color="#ea4439"/><stop offset="0.9067" stop-color="#e94432"/><stop offset="0.9333" stop-color="#e9442d"/><stop offset="0.9600" stop-color="#e94229"/><stop offset="0.9867" stop-color="#e94227"/></linearGradient><linearGradient id="r52" gradientUnits="userSpaceOnUse" x1="60" x2="660" y1="0" y2="0"><stop offset="0.0000" stop-color="#1280bd"/><stop offset="0.0267" stop-color="#1480bf"/><stop offset="0.0533" stop-color="#1880c1"/><stop offset="0.0800" stop-color="#1b80c3"/><stop offset="0.1067" stop-color="#1c80c4"/><stop offset="0.1333" stop-color="#1e80c5"/><stop offset="0.1600" stop-color="#2080c4"/><stop offset="0.1867" stop-color="#247ec3"/><stop offset="0.2133" stop-color="#2b7bc2"/><stop offset="0.2400" stop-color="#3579c0"/><stop offset="0.2667" stop-color="#4275bd"/><stop offset="0.2933" stop-color="#5971ba"/><stop offset="0.3200" stop-color="#746cb7"/><stop offset="0.3467" stop-color="#9065b2"/><stop offset="0.3733" stop-color="#ae5bab"/><stop offset="0.4000" stop-color="#c64ea3"/><stop offset="0.4267" stop-color="#d53d9a"/><stop offset="0.4533" stop-color="#de2a91"/><stop offset="0.4800" stop-color="#e21888"/><stop offset="0.5067" stop-color="#e51484"/><stop offset="0.5333" stop-color="#e61180"/><stop offset="0.5600" stop-color="#e60f7f"/><stop offset="0.5867" stop-color="#e50b7c"/><stop offset="0.6133" stop-color="#e60c7b"/><stop offset="0.6400" stop-color="#e61079"/><stop offset="0.6667" stop-color="#e71776"/><stop offset="0.6933" stop-color="#e81f70"/><stop offset="0.7200" stop-color="#e82469"/><stop offset="0.7467" stop-color="#e82561"/><stop offset="0.7733" stop-color="#e82559"/><stop offset="0.8000" stop-color="#e8304f"/><stop offset="0.8267" stop-color="#e93749"/><stop offset="0.8533" stop-color="#e93943"/><stop offset="0.8800" stop-color="#e83a3c"/><stop offset="0.9067" stop-color="#e83a34"/><stop offset="0.9333" stop-color="#e83a2f"/><stop offset="0.9600" stop-color="#e83a2c"/><stop offset="0.9867" stop-color="#e83b29"/></linearGradient><linearGradient id="r53" gradientUnits="userSpaceOnUse" x1="60" x2="660" y1="0" y2="0"><stop offset="0.0000" stop-color="#117ebc"/><stop offset="0.0267" stop-color="#147ebe"/><stop offset="0.0533" stop-color="#177ec0"/><stop offset="0.0800" stop-color="#1a7ec2"/><stop offset="0.1067" stop-color="#1c7ec2"/><stop offset="0.1333" stop-color="#1d7ec3"/><stop offset="0.1600" stop-color="#207dc3"/><stop offset="0.1867" stop-color="#237bc1"/><stop offset="0.2133" stop-color="#2a79c0"/><stop offset="0.2400" stop-color="#3475bd"/><stop offset="0.2667" stop-color="#4272bb"/><stop offset="0.2933" stop-color="#576db8"/><stop offset="0.3200" stop-color="#7167b4"/><stop offset="0.3467" stop-color="#8e5faf"/><stop offset="0.3733" stop-color="#ab55a9"/><stop offset="0.4000" stop-color="#c348a1"/><stop offset="0.4267" stop-color="#d33899"/><stop offset="0.4533" stop-color="#dd2590"/><stop offset="0.4800" stop-color="#e21588"/><stop offset="0.5067" stop-color="#e41082"/><stop offset="0.5333" stop-color="#e50d7f"/><stop offset="0.5600" stop-color="#e60a7d"/><stop offset="0.5867" stop-color="#e5077c"/><stop offset="0.6133" stop-color="#e5087b"/><stop offset="0.6400" stop-color="#e50b7a"/><stop offset="0.6667" stop-color="#e61077"/><stop offset="0.6933" stop-color="#e71771"/><stop offset="0.7200" stop-color="#e71b6a"/><stop offset="0.7467" stop-color="#e71c62"/><stop offset="0.7733" stop-color="#e71d59"/><stop offset="0.8000" stop-color="#e72650"/><stop offset="0.8267" stop-color="#e82d49"/><stop offset="0.8533" stop-color="#e83044"/><stop offset="0.8800" stop-color="#e7303e"/><stop offset="0.9067" stop-color="#e73136"/><stop offset="0.9333" stop-color="#e73231"/><stop offset="0.9600" stop-color="#e7332e"/><stop offset="0.9867" stop-color="#e7352b"/></linearGradient><linearGradient id="r54" gradientUnits="userSpaceOnUse" x1="60" x2="660" y1="0" y2="0"><stop offset="0.0000" stop-color="#107dbb"/><stop offset="0.0267" stop-color="#137cbd"/><stop offset="0.0533" stop-color="#167cbf"/><stop offset="0.0800" stop-color="#197cc0"/><stop offset="0.1067" stop-color="#1b7cc1"/><stop offset="0.1333" stop-color="#1d7bc1"/><stop offset="0.1600" stop-color="#1f7ac0"/><stop offset="0.1867" stop-color="#2378bf"/><stop offset="0.2133" stop-color="#2976bd"/><stop offset="0.2400" stop-color="#3372bb"/><stop offset="0.2667" stop-color="#426eb8"/><stop offset="0.2933" stop-color="#5769b5"/><stop offset="0.3200" stop-color="#7063b2"/><stop offset="0.3467" stop-color="#8c5bad"/><stop offset="0.3733" stop-color="#a851a7"/><stop offset="0.4000" stop-color="#c143a0"/><stop offset="0.4267" stop-color="#d13597"/><stop offset="0.4533" stop-color="#dc238f"/><stop offset="0.4800" stop-color="#e11487"/><stop offset="0.5067" stop-color="#e40e82"/><stop offset="0.5333" stop-color="#e50b7f"/><stop offset="0.5600" stop-color="#e5077d"/><stop offset="0.5867" stop-color="#e5057c"/><stop offset="0.6133" stop-color="#e5057b"/><stop offset="0.6400" stop-color="#e5087a"/><stop offset="0.6667" stop-color="#e60d77"/><stop offset="0.6933" stop-color="#e61172"/><stop offset="0.7200" stop-color="#e7146b"/><stop offset="0.7467" stop-color="#e71663"/><stop offset="0.7733" stop-color="#e7185a"/><stop offset="0.8000" stop-color="#e71e50"/><stop offset="0.8267" stop-color="#e7254a"/><stop offset="0.8533" stop-color="#e72944"/><stop offset="0.8800" stop-color="#e72a3f"/><stop offset="0.9067" stop-color="#e62a39"/><stop offset="0.9333" stop-color="#e62b34"/><stop offset="0.9600" stop-color="#e62d30"/><stop offset="0.9867" stop-color="#e72f2e"/></linearGradient><linearGradient id="r55" gradientUnits="userSpaceOnUse" x1="60" x2="660" y1="0" y2="0"><stop offset="0.0000" stop-color="#107bbb"/><stop offset="0.0267" stop-color="#127abc"/><stop offset="0.0533" stop-color="#157abe"/><stop offset="0.0800" stop-color="#187abe"/><stop offset="0.1067" stop-color="#1b79bf"/><stop offset="0.1333" stop-color="#1d79bf"/><stop offset="0.1600" stop-color="#1f77be"/><stop offset="0.1867" stop-color="#2275bd"/><stop offset="0.2133" stop-color="#2873bb"/><stop offset="0.2400" stop-color="#336fb9"/><stop offset="0.2667" stop-color="#426bb6"/><stop offset="0.2933" stop-color="#5666b3"/><stop offset="0.3200" stop-color="#6f60af"/><stop offset="0.3467" stop-color="#8a58ab"/><stop offset="0.3733" stop-color="#a64ea5"/><stop offset="0.4000" stop-color="#bf419e"/><stop offset="0.4267" stop-color="#d03396"/><stop offset="0.4533" stop-color="#db238e"/><stop offset="0.4800" stop-color="#e11587"/><stop offset="0.5067" stop-color="#e40f82"/><stop offset="0.5333" stop-color="#e50b7f"/><stop offset="0.5600" stop-color="#e5077d"/><stop offset="0.5867" stop-color="#e5047c"/><stop offset="0.6133" stop-color="#e5047b"/><stop offset="0.6400" stop-color="#e5077a"/><stop offset="0.6667" stop-color="#e50a77"/><stop offset="0.6933" stop-color="#e60d72"/><stop offset="0.7200" stop-color="#e6106c"/><stop offset="0.7467" stop-color="#e61165"/><stop offset="0.7733" stop-color="#e6145c"/><stop offset="0.8000" stop-color="#e61952"/><stop offset="0.8267" stop-color="#e6204b"/><stop offset="0.8533" stop-color="#e62345"/><stop offset="0.8800" stop-color="#e62541"/><stop offset="0.9067" stop-color="#e6253b"/><stop offset="0.9333" stop-color="#e62736"/><stop offset="0.9600" stop-color="#e62833"/><stop offset="0.9867" stop-color="#e62b30"/></linearGradient><linearGradient id="r56" gradientUnits="userSpaceOnUse" x1="60" x2="660" y1="0" y2="0"><stop offset="0.0000" stop-color="#0f79ba"/><stop offset="0.0267" stop-color="#1278bb"/><stop offset="0.0533" stop-color="#1578bc"/><stop offset="0.0800" stop-color="#1877bd"/><stop offset="0.1067" stop-color="#1a77bd"/><stop offset="0.1333" stop-color="#1c76bd"/><stop offset="0.1600" stop-color="#1e75bc"/><stop offset="0.1867" stop-color="#2273bb"/><stop offset="0.2133" stop-color="#2870b9"/><stop offset="0.2400" stop-color="#336db7"/><stop offset="0.2667" stop-color="#4268b4"/><stop offset="0.2933" stop-color="#5663b1"/><stop offset="0.3200" stop-color="#6e5dad"/><stop offset="0.3467" stop-color="#8955a9"/><stop offset="0.3733" stop-color="#a44ba3"/><stop offset="0.4000" stop-color="#bd409d"/><stop offset="0.4267" stop-color="#ce3395"/><stop offset="0.4533" stop-color="#da258e"/><stop offset="0.4800" stop-color="#e01887"/><stop offset="0.5067" stop-color="#e31082"/><stop offset="0.5333" stop-color="#e50c7f"/><stop offset="0.5600" stop-color="#e5077d"/><stop offset="0.5867" stop-color="#e5047c"/><stop offset="0.6133" stop-color="#e5047b"/><stop offset="0.6400" stop-color="#e5067a"/><stop offset="0.6667" stop-color="#e50877"/><stop offset="0.6933" stop-color="#e60b73"/><stop offset="0.7200" stop-color="#e60d6d"/><stop offset="0.7467" stop-color="#e60e66"/><stop offset="0.7733" stop-color="#e6115e"/><stop offset="0.8000" stop-color="#e61655"/><stop offset="0.8267" stop-color="#e61c4d"/><stop offset="0.8533" stop-color="#e61f47"/><stop offset="0.8800" stop-color="#e62143"/><stop offset="0.9067" stop-color="#e6223e"/><stop offset="0.9333" stop-color="#e62339"/><stop offset="0.9600" stop-color="#e62535"/><stop offset="0.9867" stop-color="#e62732"/></linearGradient><linearGradient id="r57" gradientUnits="userSpaceOnUse" x1="60" x2="660" y1="0" y2="0"><stop offset="0.0000" stop-color="#0e77b9"/><stop offset="0.0267" stop-color="#1176ba"/><stop offset="0.0533" stop-color="#1476bb"/><stop offset="0.0800" stop-color="#1775bb"/><stop offset="0.1067" stop-color="#1a74bb"/><stop offset="0.1333" stop-color="#1c73bb"/><stop offset="0.1600" stop-color="#1e72ba"/><stop offset="0.1867" stop-color="#2170b8"/><stop offset="0.2133" stop-color="#276db7"/><stop offset="0.2400" stop-color="#336ab4"/><stop offset="0.2667" stop-color="#4266b2"/><stop offset="0.2933" stop-color="#5661af"/><stop offset="0.3200" stop-color="#6d5bab"/><stop offset="0.3467" stop-color="#8753a7"/><stop offset="0.3733" stop-color="#a249a2"/><stop offset="0.4000" stop-color="#bb3f9b"/><stop offset="0.4267" stop-color="#cd3294"/><stop offset="0.4533" stop-color="#d9268d"/><stop offset="0.4800" stop-color="#e01a87"/><stop offset="0.5067" stop-color="#e31282"/><stop offset="0.5333" stop-color="#e40d7f"/><stop offset="0.5600" stop-color="#e5077d"/><stop offset="0.5867" stop-color="#e6047c"/><stop offset="0.6133" stop-color="#e5047b"/><stop offset="0.6400" stop-color="#e5057a"/><stop offset="0.6667" stop-color="#e50778"/><stop offset="0.6933" stop-color="#e60973"/><stop offset="0.7200" stop-color="#e60a6e"/><stop offset="0.7467" stop-color="#e60c68"/><stop offset="0.7733" stop-color="#e60f60"/><stop offset="0.8000" stop-color="#e61358"/><stop offset="0.8267" stop-color="#e61950"/><stop offset="0.8533" stop-color="#e61c4b"/><stop offset="0.8800" stop-color="#e61e46"/><stop offset="0.9067" stop-color="#e61f40"/><stop offset="0.9333" stop-color="#e5203c"/><stop offset="0.9600" stop-color="#e52238"/><stop offset="0.9867" stop-color="#e62434"/></linearGradient><linearGradient id="r58" gradientUnits="userSpaceOnUse" x1="60" x2="660" y1="0" y2="0"><stop offset="0.0000" stop-color="#0e75b8"/><stop offset="0.0267" stop-color="#1074b9"/><stop offset="0.0533" stop-color="#1374b9"/><stop offset="0.0800" stop-color="#1673b9"/><stop offset="0.1067" stop-color="#1972b9"/><stop offset="0.1333" stop-color="#1b71b9"/><stop offset="0.1600" stop-color="#1e6fb8"/><stop offset="0.1867" stop-color="#216db6"/><stop offset="0.2133" stop-color="#276ab4"/><stop offset="0.2400" stop-color="#3267b2"/><stop offset="0.2667" stop-color="#4263b0"/><stop offset="0.2933" stop-color="#565ead"/><stop offset="0.3200" stop-color="#6d58a9"/><stop offset="0.3467" stop-color="#8651a5"/><stop offset="0.3733" stop-color="#a048a0"/><stop offset="0.4000" stop-color="#b83d9a"/><stop offset="0.4267" stop-color="#cb3294"/><stop offset="0.4533" stop-color="#d8278d"/><stop offset="0.4800" stop-color="#df1c87"/><stop offset="0.5067" stop-color="#e21382"/><stop offset="0.5333" stop-color="#e40d7f"/><stop offset="0.5600" stop-color="#e5087d"/><stop offset="0.5867" stop-color="#e6057c"/><stop offset="0.6133" stop-color="#e6047b"/><stop offset="0.6400" stop-color="#e5057a"/><stop offset="0.6667" stop-color="#e50778"/><stop offset="0.6933" stop-color="#e60874"/><stop offset="0.7200" stop-color="#e6096f"/><stop offset="0.7467" stop-color="#e60b69"/><stop offset="0.7733" stop-color="#e60e62"/><stop offset="0.8000" stop-color="#e6115a"/><stop offset="0.8267" stop-color="#e61653"/><stop offset="0.8533" stop-color="#e61a4e"/><stop offset="0.8800" stop-color="#e61b48"/><stop offset="0.9067" stop-color="#e51c43"/><stop offset="0.9333" stop-color="#e51e3e"/><stop offset="0.9600" stop-color="#e51f3a"/><stop offset="0.9867" stop-color="#e52237"/></linearGradient><linearGradient id="r59" gradientUnits="userSpaceOnUse" x1="60" x2="660" y1="0" y2="0"><stop offset="0.0000" stop-color="#0d73b7"/><stop offset="0.0267" stop-color="#1072b7"/><stop offset="0.0533" stop-color="#1271b8"/><stop offset="0.0800" stop-color="#1570b8"/><stop offset="0.1067" stop-color="#186fb7"/><stop offset="0.1333" stop-color="#1b6eb7"/><stop offset="0.1600" stop-color="#1d6cb5"/><stop offset="0.1867" stop-color="#216ab4"/><stop offset="0.2133" stop-color="#2768b2"/><stop offset="0.2400" stop-color="#3264b0"/><stop offset="0.2667" stop-color="#4160ad"/><stop offset="0.2933" stop-color="#555bab"/><stop offset="0.3200" stop-color="#6c56a8"/><stop offset="0.3467" stop-color="#854fa4"/><stop offset="0.3733" stop-color="#9e469f"/><stop offset="0.4000" stop-color="#b63c99"/><stop offset="0.4267" stop-color="#c93293"/><stop offset="0.4533" stop-color="#d6278d"/><stop offset="0.4800" stop-color="#de1d87"/><stop offset="0.5067" stop-color="#e21582"/><stop offset="0.5333" stop-color="#e40e7f"/><stop offset="0.5600" stop-color="#e5097d"/><stop offset="0.5867" stop-color="#e6067c"/><stop offset="0.6133" stop-color="#e6057b"/><stop offset="0.6400" stop-color="#e6057a"/><stop offset="0.6667" stop-color="#e50678"/><stop offset="0.6933" stop-color="#e60775"/><stop offset="0.7200" stop-color="#e60870"/><stop offset="0.7467" stop-color="#e60a6b"/><stop offset="0.7733" stop-color="#e60d64"/><stop offset="0.8000" stop-color="#e6105c"/><stop offset="0.8267" stop-color="#e61456"/><stop offset="0.8533" stop-color="#e61751"/><stop offset="0.8800" stop-color="#e5184b"/><stop offset="0.9067" stop-color="#e51a45"/><stop offset="0.9333" stop-color="#e51b40"/><stop offset="0.9600" stop-color="#e51d3c"/><stop offset="0.9867" stop-color="#e52039"/></linearGradient><linearGradient id="r60" gradientUnits="userSpaceOnUse" x1="60" x2="660" y1="0" y2="0"><stop offset="0.0000" stop-color="#0c71b6"/><stop offset="0.0267" stop-color="#0f70b6"/><stop offset="0.0533" stop-color="#126fb6"/><stop offset="0.0800" stop-color="#156eb6"/><stop offset="0.1067" stop-color="#186db6"/><stop offset="0.1333" stop-color="#1b6bb5"/><stop offset="0.1600" stop-color="#1d69b3"/><stop offset="0.1867" stop-color="#2067b2"/><stop offset="0.2133" stop-color="#2665b0"/><stop offset="0.2400" stop-color="#3261ae"/><stop offset="0.2667" stop-color="#415dab"/><stop offset="0.2933" stop-color="#5459a9"/><stop offset="0.3200" stop-color="#6b54a6"/><stop offset="0.3467" stop-color="#834da2"/><stop offset="0.3733" stop-color="#9c459e"/><stop offset="0.4000" stop-color="#b43b99"/><stop offset="0.4267" stop-color="#c73193"/><stop offset="0.4533" stop-color="#d5278c"/><stop offset="0.4800" stop-color="#dd1e87"/><stop offset="0.5067" stop-color="#e11682"/><stop offset="0.5333" stop-color="#e30f7f"/><stop offset="0.5600" stop-color="#e50a7d"/><stop offset="0.5867" stop-color="#e6077c"/><stop offset="0.6133" stop-color="#e6067b"/><stop offset="0.6400" stop-color="#e6067a"/><stop offset="0.6667" stop-color="#e50778"/><stop offset="0.6933" stop-color="#e60775"/><stop offset="0.7200" stop-color="#e60871"/><stop offset="0.7467" stop-color="#e60a6c"/><stop offset="0.7733" stop-color="#e60c66"/><stop offset="0.8000" stop-color="#e60f5e"/><stop offset="0.8267" stop-color="#e61258"/><stop offset="0.8533" stop-color="#e51453"/><stop offset="0.8800" stop-color="#e5164d"/><stop offset="0.9067" stop-color="#e51847"/><stop offset="0.9333" stop-color="#e51943"/><stop offset="0.9600" stop-color="#e51b3e"/><stop offset="0.9867" stop-color="#e51d3b"/></linearGradient><linearGradient id="r61" gradientUnits="userSpaceOnUse" x1="60" x2="660" y1="0" y2="0"><stop offset="0.0000" stop-color="#0c6fb5"/><stop offset="0.0267" stop-color="#0e6eb5"/><stop offset="0.0533" stop-color="#116db5"/><stop offset="0.0800" stop-color="#146cb5"/><stop offset="0.1067" stop-color="#176ab4"/><stop offset="0.1333" stop-color="#1a69b3"/><stop offset="0.1600" stop-color="#1d67b1"/><stop offset="0.1867" stop-color="#2064b0"/><stop offset="0.2133" stop-color="#2662ae"/><stop offset="0.2400" stop-color="#315fac"/><stop offset="0.2667" stop-color="#405ba9"/><stop offset="0.2933" stop-color="#5356a7"/><stop offset="0.3200" stop-color="#6951a4"/><stop offset="0.3467" stop-color="#814ba1"/><stop offset="0.3733" stop-color="#9a439d"/><stop offset="0.4000" stop-color="#b23b98"/><stop offset="0.4267" stop-color="#c53192"/><stop offset="0.4533" stop-color="#d4288c"/><stop offset="0.4800" stop-color="#dc1f87"/><stop offset="0.5067" stop-color="#e01783"/><stop offset="0.5333" stop-color="#e3107f"/><stop offset="0.5600" stop-color="#e50b7d"/><stop offset="0.5867" stop-color="#e5087c"/><stop offset="0.6133" stop-color="#e6077b"/><stop offset="0.6400" stop-color="#e6077b"/><stop offset="0.6667" stop-color="#e50779"/><stop offset="0.6933" stop-color="#e60776"/><stop offset="0.7200" stop-color="#e60872"/><stop offset="0.7467" stop-color="#e6096d"/><stop offset="0.7733" stop-color="#e60c67"/><stop offset="0.8000" stop-color="#e60e60"/><stop offset="0.8267" stop-color="#e5105a"/><stop offset="0.8533" stop-color="#e51254"/><stop offset="0.8800" stop-color="#e5144f"/><stop offset="0.9067" stop-color="#e51649"/><stop offset="0.9333" stop-color="#e41745"/><stop offset="0.9600" stop-color="#e41940"/><stop offset="0.9867" stop-color="#e41c3d"/></linearGradient><linearGradient id="r62" gradientUnits="userSpaceOnUse" x1="60" x2="660" y1="0" y2="0"><stop offset="0.0000" stop-color="#0b6eb3"/><stop offset="0.0267" stop-color="#0e6cb4"/><stop offset="0.0533" stop-color="#106bb4"/><stop offset="0.0800" stop-color="#136ab3"/><stop offset="0.1067" stop-color="#1668b2"/><stop offset="0.1333" stop-color="#1a66b1"/><stop offset="0.1600" stop-color="#1c64af"/><stop offset="0.1867" stop-color="#2062ae"/><stop offset="0.2133" stop-color="#265fac"/><stop offset="0.2400" stop-color="#305caa"/><stop offset="0.2667" stop-color="#3f58a7"/><stop offset="0.2933" stop-color="#5254a5"/><stop offset="0.3200" stop-color="#6850a3"/><stop offset="0.3467" stop-color="#804aa0"/><stop offset="0.3733" stop-color="#98429c"/><stop offset="0.4000" stop-color="#b03a97"/><stop offset="0.4267" stop-color="#c33192"/><stop offset="0.4533" stop-color="#d2288c"/><stop offset="0.4800" stop-color="#da1f87"/><stop offset="0.5067" stop-color="#df1883"/><stop offset="0.5333" stop-color="#e21180"/><stop offset="0.5600" stop-color="#e40c7e"/><stop offset="0.5867" stop-color="#e5097d"/><stop offset="0.6133" stop-color="#e6077c"/><stop offset="0.6400" stop-color="#e6077b"/><stop offset="0.6667" stop-color="#e50779"/><stop offset="0.6933" stop-color="#e60777"/><stop offset="0.7200" stop-color="#e60873"/><stop offset="0.7467" stop-color="#e6096e"/><stop offset="0.7733" stop-color="#e60b68"/><stop offset="0.8000" stop-color="#e50d62"/><stop offset="0.8267" stop-color="#e50f5c"/><stop offset="0.8533" stop-color="#e51156"/><stop offset="0.8800" stop-color="#e51251"/><stop offset="0.9067" stop-color="#e4144b"/><stop offset="0.9333" stop-color="#e41647"/><stop offset="0.9600" stop-color="#e41842"/><stop offset="0.9867" stop-color="#e41a3f"/></linearGradient><linearGradient id="r63" gradientUnits="userSpaceOnUse" x1="60" x2="660" y1="0" y2="0"><stop offset="0.0000" stop-color="#0a6cb2"/><stop offset="0.0267" stop-color="#0d6bb2"/><stop offset="0.0533" stop-color="#1069b2"/><stop offset="0.0800" stop-color="#1268b1"/><stop offset="0.1067" stop-color="#1666b0"/><stop offset="0.1333" stop-color="#1964af"/><stop offset="0.1600" stop-color="#1c61ad"/><stop offset="0.1867" stop-color="#1f5fac"/><stop offset="0.2133" stop-color="#255caa"/><stop offset="0.2400" stop-color="#3059a8"/><stop offset="0.2667" stop-color="#3e56a6"/><stop offset="0.2933" stop-color="#5152a3"/><stop offset="0.3200" stop-color="#664ea1"/><stop offset="0.3467" stop-color="#7e489e"/><stop offset="0.3733" stop-color="#96419b"/><stop offset="0.4000" stop-color="#ad3a97"/><stop offset="0.4267" stop-color="#c13191"/><stop offset="0.4533" stop-color="#d0288c"/><stop offset="0.4800" stop-color="#d92087"/><stop offset="0.5067" stop-color="#de1983"/><stop offset="0.5333" stop-color="#e11280"/><stop offset="0.5600" stop-color="#e40e7e"/><stop offset="0.5867" stop-color="#e50a7d"/><stop offset="0.6133" stop-color="#e6087c"/><stop offset="0.6400" stop-color="#e6077b"/><stop offset="0.6667" stop-color="#e5077a"/><stop offset="0.6933" stop-color="#e50777"/><stop offset="0.7200" stop-color="#e50873"/><stop offset="0.7467" stop-color="#e5096f"/><stop offset="0.7733" stop-color="#e50a69"/><stop offset="0.8000" stop-color="#e50c63"/><stop offset="0.8267" stop-color="#e50d5d"/><stop offset="0.8533" stop-color="#e40f58"/><stop offset="0.8800" stop-color="#e41152"/><stop offset="0.9067" stop-color="#e4124d"/><stop offset="0.9333" stop-color="#e41448"/><stop offset="0.9600" stop-color="#e41644"/><stop offset="0.9867" stop-color="#e41840"/></linearGradient><linearGradient id="r64" gradientUnits="userSpaceOnUse" x1="60" x2="660" y1="0" y2="0"><stop offset="0.0000" stop-color="#0a6ab1"/><stop offset="0.0267" stop-color="#0c69b1"/><stop offset="0.0533" stop-color="#0f67b1"/><stop offset="0.0800" stop-color="#1265b0"/><stop offset="0.1067" stop-color="#1563af"/><stop offset="0.1333" stop-color="#1861ad"/><stop offset="0.1600" stop-color="#1b5fac"/><stop offset="0.1867" stop-color="#1f5caa"/><stop offset="0.2133" stop-color="#255aa8"/><stop offset="0.2400" stop-color="#2f57a6"/><stop offset="0.2667" stop-color="#3d54a4"/><stop offset="0.2933" stop-color="#4f50a2"/><stop offset="0.3200" stop-color="#644ca0"/><stop offset="0.3467" stop-color="#7b479d"/><stop offset="0.3733" stop-color="#93409a"/><stop offset="0.4000" stop-color="#aa3a96"/><stop offset="0.4267" stop-color="#be3191"/><stop offset="0.4533" stop-color="#cd298c"/><stop offset="0.4800" stop-color="#d72188"/><stop offset="0.5067" stop-color="#dd1a84"/><stop offset="0.5333" stop-color="#e11381"/><stop offset="0.5600" stop-color="#e30f7f"/><stop offset="0.5867" stop-color="#e50b7d"/><stop offset="0.6133" stop-color="#e5097c"/><stop offset="0.6400" stop-color="#e6087b"/><stop offset="0.6667" stop-color="#e5077a"/><stop offset="0.6933" stop-color="#e50777"/><stop offset="0.7200" stop-color="#e50773"/><stop offset="0.7467" stop-color="#e5086f"/><stop offset="0.7733" stop-color="#e5096a"/><stop offset="0.8000" stop-color="#e50b64"/><stop offset="0.8267" stop-color="#e40c5e"/><stop offset="0.8533" stop-color="#e40e59"/><stop offset="0.8800" stop-color="#e40f54"/><stop offset="0.9067" stop-color="#e4114f"/><stop offset="0.9333" stop-color="#e3134a"/><stop offset="0.9600" stop-color="#e31546"/><stop offset="0.9867" stop-color="#e31742"/></linearGradient><linearGradient id="r65" gradientUnits="userSpaceOnUse" x1="60" x2="660" y1="0" y2="0"><stop offset="0.0000" stop-color="#0968b0"/><stop offset="0.0267" stop-color="#0c67b0"/><stop offset="0.0533" stop-color="#0e65b0"/><stop offset="0.0800" stop-color="#1163af"/><stop offset="0.1067" stop-color="#1461ad"/><stop offset="0.1333" stop-color="#175fac"/><stop offset="0.1600" stop-color="#1b5caa"/><stop offset="0.1867" stop-color="#1f5aa8"/><stop offset="0.2133" stop-color="#2457a6"/><stop offset="0.2400" stop-color="#2e54a4"/><stop offset="0.2667" stop-color="#3c51a2"/><stop offset="0.2933" stop-color="#4d4ea0"/><stop offset="0.3200" stop-color="#624a9e"/><stop offset="0.3467" stop-color="#79459c"/><stop offset="0.3733" stop-color="#914099"/><stop offset="0.4000" stop-color="#a83996"/><stop offset="0.4267" stop-color="#bc3291"/><stop offset="0.4533" stop-color="#cb298c"/><stop offset="0.4800" stop-color="#d52288"/><stop offset="0.5067" stop-color="#db1b85"/><stop offset="0.5333" stop-color="#e01481"/><stop offset="0.5600" stop-color="#e2107f"/><stop offset="0.5867" stop-color="#e40c7d"/><stop offset="0.6133" stop-color="#e5097c"/><stop offset="0.6400" stop-color="#e5087b"/><stop offset="0.6667" stop-color="#e5077a"/><stop offset="0.6933" stop-color="#e50777"/><stop offset="0.7200" stop-color="#e50774"/><stop offset="0.7467" stop-color="#e5086f"/><stop offset="0.7733" stop-color="#e4096a"/><stop offset="0.8000" stop-color="#e40a65"/><stop offset="0.8267" stop-color="#e40b5f"/><stop offset="0.8533" stop-color="#e40d5a"/><stop offset="0.8800" stop-color="#e30e55"/><stop offset="0.9067" stop-color="#e31050"/><stop offset="0.9333" stop-color="#e3114c"/><stop offset="0.9600" stop-color="#e31348"/><stop offset="0.9867" stop-color="#e31544"/></linearGradient><linearGradient id="r66" gradientUnits="userSpaceOnUse" x1="60" x2="660" y1="0" y2="0"><stop offset="0.0000" stop-color="#0967af"/><stop offset="0.0267" stop-color="#0b65af"/><stop offset="0.0533" stop-color="#0e63ae"/><stop offset="0.0800" stop-color="#1061ad"/><stop offset="0.1067" stop-color="#145fac"/><stop offset="0.1333" stop-color="#175daa"/><stop offset="0.1600" stop-color="#1b5aa8"/><stop offset="0.1867" stop-color="#1e57a6"/><stop offset="0.2133" stop-color="#2355a4"/><stop offset="0.2400" stop-color="#2d52a2"/><stop offset="0.2667" stop-color="#3a4fa0"/><stop offset="0.2933" stop-color="#4c4c9f"/><stop offset="0.3200" stop-color="#60489d"/><stop offset="0.3467" stop-color="#77449b"/><stop offset="0.3733" stop-color="#8e3e98"/><stop offset="0.4000" stop-color="#a53995"/><stop offset="0.4267" stop-color="#b93191"/><stop offset="0.4533" stop-color="#c92a8c"/><stop offset="0.4800" stop-color="#d32389"/><stop offset="0.5067" stop-color="#da1c85"/><stop offset="0.5333" stop-color="#de1682"/><stop offset="0.5600" stop-color="#e11180"/><stop offset="0.5867" stop-color="#e30d7e"/><stop offset="0.6133" stop-color="#e40a7d"/><stop offset="0.6400" stop-color="#e5087b"/><stop offset="0.6667" stop-color="#e5077a"/><stop offset="0.6933" stop-color="#e50777"/><stop offset="0.7200" stop-color="#e40774"/><stop offset="0.7467" stop-color="#e4076f"/><stop offset="0.7733" stop-color="#e4086b"/><stop offset="0.8000" stop-color="#e40965"/><stop offset="0.8267" stop-color="#e30a60"/><stop offset="0.8533" stop-color="#e30c5b"/><stop offset="0.8800" stop-color="#e30d56"/><stop offset="0.9067" stop-color="#e30f52"/><stop offset="0.9333" stop-color="#e2104d"/><stop offset="0.9600" stop-color="#e21249"/><stop offset="0.9867" stop-color="#e21445"/></linearGradient><linearGradient id="r67" gradientUnits="userSpaceOnUse" x1="60" x2="660" y1="0" y2="0"><stop offset="0.0000" stop-color="#0865ae"/><stop offset="0.0267" stop-color="#0b63ae"/><stop offset="0.0533" stop-color="#0d62ad"/><stop offset="0.0800" stop-color="#1060ac"/><stop offset="0.1067" stop-color="#135dab"/><stop offset="0.1333" stop-color="#165ba9"/><stop offset="0.1600" stop-color="#1a58a7"/><stop offset="0.1867" stop-color="#1e55a5"/><stop offset="0.2133" stop-color="#2353a3"/><stop offset="0.2400" stop-color="#2c50a1"/><stop offset="0.2667" stop-color="#394d9f"/><stop offset="0.2933" stop-color="#4a4a9d"/><stop offset="0.3200" stop-color="#5e469c"/><stop offset="0.3467" stop-color="#74429a"/><stop offset="0.3733" stop-color="#8c3d97"/><stop offset="0.4000" stop-color="#a23894"/><stop offset="0.4267" stop-color="#b53191"/><stop offset="0.4533" stop-color="#c52a8d"/><stop offset="0.4800" stop-color="#d02389"/><stop offset="0.5067" stop-color="#d81d86"/><stop offset="0.5333" stop-color="#dd1783"/><stop offset="0.5600" stop-color="#e01281"/><stop offset="0.5867" stop-color="#e20d7f"/><stop offset="0.6133" stop-color="#e40a7d"/><stop offset="0.6400" stop-color="#e4097b"/><stop offset="0.6667" stop-color="#e40879"/><stop offset="0.6933" stop-color="#e40777"/><stop offset="0.7200" stop-color="#e40774"/><stop offset="0.7467" stop-color="#e3076f"/><stop offset="0.7733" stop-color="#e3086b"/><stop offset="0.8000" stop-color="#e30966"/><stop offset="0.8267" stop-color="#e30a61"/><stop offset="0.8533" stop-color="#e20b5c"/><stop offset="0.8800" stop-color="#e20c58"/><stop offset="0.9067" stop-color="#e20e53"/><stop offset="0.9333" stop-color="#e20f4f"/><stop offset="0.9600" stop-color="#e2114b"/><stop offset="0.9867" stop-color="#e21347"/></linearGradient><linearGradient id="r68" gradientUnits="userSpaceOnUse" x1="60" x2="660" y1="0" y2="0"><stop offset="0.0000" stop-color="#0863ad"/><stop offset="0.0267" stop-color="#0a62ad"/><stop offset="0.0533" stop-color="#0d60ac"/><stop offset="0.0800" stop-color="#0f5eab"/><stop offset="0.1067" stop-color="#125ba9"/><stop offset="0.1333" stop-color="#1659a8"/><stop offset="0.1600" stop-color="#1956a6"/><stop offset="0.1867" stop-color="#1d53a3"/><stop offset="0.2133" stop-color="#2351a1"/><stop offset="0.2400" stop-color="#2c4e9f"/><stop offset="0.2667" stop-color="#384b9e"/><stop offset="0.2933" stop-color="#48489c"/><stop offset="0.3200" stop-color="#5c459a"/><stop offset="0.3467" stop-color="#724198"/><stop offset="0.3733" stop-color="#893c96"/><stop offset="0.4000" stop-color="#9f3794"/><stop offset="0.4267" stop-color="#b23190"/><stop offset="0.4533" stop-color="#c22b8d"/><stop offset="0.4800" stop-color="#cd248a"/><stop offset="0.5067" stop-color="#d51e87"/><stop offset="0.5333" stop-color="#db1884"/><stop offset="0.5600" stop-color="#df1382"/><stop offset="0.5867" stop-color="#e10e7f"/><stop offset="0.6133" stop-color="#e30b7e"/><stop offset="0.6400" stop-color="#e3097b"/><stop offset="0.6667" stop-color="#e40879"/><stop offset="0.6933" stop-color="#e30777"/><stop offset="0.7200" stop-color="#e30773"/><stop offset="0.7467" stop-color="#e30770"/><stop offset="0.7733" stop-color="#e2076b"/><stop offset="0.8000" stop-color="#e20867"/><stop offset="0.8267" stop-color="#e20962"/><stop offset="0.8533" stop-color="#e20a5d"/><stop offset="0.8800" stop-color="#e20b59"/><stop offset="0.9067" stop-color="#e10d54"/><stop offset="0.9333" stop-color="#e10e50"/><stop offset="0.9600" stop-color="#e1104c"/><stop offset="0.9867" stop-color="#e11248"/></linearGradient><linearGradient id="r69" gradientUnits="userSpaceOnUse" x1="60" x2="660" y1="0" y2="0"><stop offset="0.0000" stop-color="#0862ac"/><stop offset="0.0267" stop-color="#0a60ac"/><stop offset="0.0533" stop-color="#0c5eab"/><stop offset="0.0800" stop-color="#0f5caa"/><stop offset="0.1067" stop-color="#125aa8"/><stop offset="0.1333" stop-color="#1557a6"/><stop offset="0.1600" stop-color="#1954a4"/><stop offset="0.1867" stop-color="#1d51a2"/><stop offset="0.2133" stop-color="#224fa0"/><stop offset="0.2400" stop-color="#2b4c9e"/><stop offset="0.2667" stop-color="#37499c"/><stop offset="0.2933" stop-color="#47469b"/><stop offset="0.3200" stop-color="#5a4399"/><stop offset="0.3467" stop-color="#703f97"/><stop offset="0.3733" stop-color="#863b95"/><stop offset="0.4000" stop-color="#9b3693"/><stop offset="0.4267" stop-color="#ae3190"/><stop offset="0.4533" stop-color="#be2b8d"/><stop offset="0.4800" stop-color="#cb258a"/><stop offset="0.5067" stop-color="#d31f87"/><stop offset="0.5333" stop-color="#d91985"/><stop offset="0.5600" stop-color="#dd1382"/><stop offset="0.5867" stop-color="#e00f80"/><stop offset="0.6133" stop-color="#e10c7e"/><stop offset="0.6400" stop-color="#e20a7c"/><stop offset="0.6667" stop-color="#e20879"/><stop offset="0.6933" stop-color="#e20777"/><stop offset="0.7200" stop-color="#e20773"/><stop offset="0.7467" stop-color="#e20770"/><stop offset="0.7733" stop-color="#e1076c"/><stop offset="0.8000" stop-color="#e10867"/><stop offset="0.8267" stop-color="#e10863"/><stop offset="0.8533" stop-color="#e1095e"/><stop offset="0.8800" stop-color="#e10b5a"/><stop offset="0.9067" stop-color="#e10c55"/><stop offset="0.9333" stop-color="#e10e51"/><stop offset="0.9600" stop-color="#e10f4d"/><stop offset="0.9867" stop-color="#e1114a"/></linearGradient><linearGradient id="r70" gradientUnits="userSpaceOnUse" x1="60" x2="660" y1="0" y2="0"><stop offset="0.0000" stop-color="#0760ab"/><stop offset="0.0267" stop-color="#095fab"/><stop offset="0.0533" stop-color="#0c5daa"/><stop offset="0.0800" stop-color="#0e5ba9"/><stop offset="0.1067" stop-color="#1158a7"/><stop offset="0.1333" stop-color="#1555a5"/><stop offset="0.1600" stop-color="#1953a3"/><stop offset="0.1867" stop-color="#1d50a1"/><stop offset="0.2133" stop-color="#214d9f"/><stop offset="0.2400" stop-color="#2a4b9d"/><stop offset="0.2667" stop-color="#35489b"/><stop offset="0.2933" stop-color="#454599"/><stop offset="0.3200" stop-color="#584198"/><stop offset="0.3467" stop-color="#6d3e96"/><stop offset="0.3733" stop-color="#833a95"/><stop offset="0.4000" stop-color="#983593"/><stop offset="0.4267" stop-color="#ab3090"/><stop offset="0.4533" stop-color="#bb2b8e"/><stop offset="0.4800" stop-color="#c7268b"/><stop offset="0.5067" stop-color="#d11f88"/><stop offset="0.5333" stop-color="#d81985"/><stop offset="0.5600" stop-color="#dc1483"/><stop offset="0.5867" stop-color="#de1080"/><stop offset="0.6133" stop-color="#e00d7e"/><stop offset="0.6400" stop-color="#e10a7c"/><stop offset="0.6667" stop-color="#e10979"/><stop offset="0.6933" stop-color="#e10877"/><stop offset="0.7200" stop-color="#e10773"/><stop offset="0.7467" stop-color="#e10770"/><stop offset="0.7733" stop-color="#e1076c"/><stop offset="0.8000" stop-color="#e00768"/><stop offset="0.8267" stop-color="#e00863"/><stop offset="0.8533" stop-color="#e0095f"/><stop offset="0.8800" stop-color="#e00a5b"/><stop offset="0.9067" stop-color="#e00b56"/><stop offset="0.9333" stop-color="#e00d52"/><stop offset="0.9600" stop-color="#e00e4f"/><stop offset="0.9867" stop-color="#e0104b"/></linearGradient><linearGradient id="r71" gradientUnits="userSpaceOnUse" x1="60" x2="660" y1="0" y2="0"><stop offset="0.0000" stop-color="#075fab"/><stop offset="0.0267" stop-color="#095daa"/><stop offset="0.0533" stop-color="#0b5ba9"/><stop offset="0.0800" stop-color="#0e59a8"/><stop offset="0.1067" stop-color="#1157a6"/><stop offset="0.1333" stop-color="#1454a4"/><stop offset="0.1600" stop-color="#1851a2"/><stop offset="0.1867" stop-color="#1c4ea0"/><stop offset="0.2133" stop-color="#214c9e"/><stop offset="0.2400" stop-color="#29499c"/><stop offset="0.2667" stop-color="#33469a"/><stop offset="0.2933" stop-color="#434498"/><stop offset="0.3200" stop-color="#554097"/><stop offset="0.3467" stop-color="#6a3d95"/><stop offset="0.3733" stop-color="#7f3994"/><stop offset="0.4000" stop-color="#943493"/><stop offset="0.4267" stop-color="#a63090"/><stop offset="0.4533" stop-color="#b62c8e"/><stop offset="0.4800" stop-color="#c4268b"/><stop offset="0.5067" stop-color="#cf1f88"/><stop offset="0.5333" stop-color="#d71a86"/><stop offset="0.5600" stop-color="#da1583"/><stop offset="0.5867" stop-color="#dc1181"/><stop offset="0.6133" stop-color="#de0d7e"/><stop offset="0.6400" stop-color="#df0b7c"/><stop offset="0.6667" stop-color="#df0979"/><stop offset="0.6933" stop-color="#e00877"/><stop offset="0.7200" stop-color="#e00773"/><stop offset="0.7467" stop-color="#df0770"/><stop offset="0.7733" stop-color="#df076c"/><stop offset="0.8000" stop-color="#df0768"/><stop offset="0.8267" stop-color="#df0864"/><stop offset="0.8533" stop-color="#df0960"/><stop offset="0.8800" stop-color="#df0a5b"/><stop offset="0.9067" stop-color="#df0b57"/><stop offset="0.9333" stop-color="#df0c53"/><stop offset="0.9600" stop-color="#df0e50"/><stop offset="0.9867" stop-color="#df0f4c"/></linearGradient><linearGradient id="r72" gradientUnits="userSpaceOnUse" x1="60" x2="660" y1="0" y2="0"><stop offset="0.0000" stop-color="#075eaa"/><stop offset="0.0267" stop-color="#095ca9"/><stop offset="0.0533" stop-color="#0b5aa8"/><stop offset="0.0800" stop-color="#0d58a7"/><stop offset="0.1067" stop-color="#1055a5"/><stop offset="0.1333" stop-color="#1453a3"/><stop offset="0.1600" stop-color="#1750a1"/><stop offset="0.1867" stop-color="#1b4d9f"/><stop offset="0.2133" stop-color="#204a9d"/><stop offset="0.2400" stop-color="#28489b"/><stop offset="0.2667" stop-color="#324599"/><stop offset="0.2933" stop-color="#414297"/><stop offset="0.3200" stop-color="#533f96"/><stop offset="0.3467" stop-color="#673c95"/><stop offset="0.3733" stop-color="#7c3894"/><stop offset="0.4000" stop-color="#903493"/><stop offset="0.4267" stop-color="#a23091"/><stop offset="0.4533" stop-color="#b22b8e"/><stop offset="0.4800" stop-color="#c0268c"/><stop offset="0.5067" stop-color="#cc2089"/><stop offset="0.5333" stop-color="#d51a86"/><stop offset="0.5600" stop-color="#d81583"/><stop offset="0.5867" stop-color="#da1181"/><stop offset="0.6133" stop-color="#dc0e7e"/><stop offset="0.6400" stop-color="#dd0b7c"/><stop offset="0.6667" stop-color="#de0a79"/><stop offset="0.6933" stop-color="#de0877"/><stop offset="0.7200" stop-color="#de0774"/><stop offset="0.7467" stop-color="#de0770"/><stop offset="0.7733" stop-color="#de076c"/><stop offset="0.8000" stop-color="#de0768"/><stop offset="0.8267" stop-color="#de0864"/><stop offset="0.8533" stop-color="#de0860"/><stop offset="0.8800" stop-color="#de095c"/><stop offset="0.9067" stop-color="#de0a58"/><stop offset="0.9333" stop-color="#de0c55"/><stop offset="0.9600" stop-color="#df0d51"/><stop offset="0.9867" stop-color="#df0f4d"/></linearGradient><linearGradient id="r73" gradientUnits="userSpaceOnUse" x1="60" x2="660" y1="0" y2="0"><stop offset="0.0000" stop-color="#065ca9"/><stop offset="0.0267" stop-color="#085aa8"/><stop offset="0.0533" stop-color="#0b58a7"/><stop offset="0.0800" stop-color="#0d56a6"/><stop offset="0.1067" stop-color="#1054a4"/><stop offset="0.1333" stop-color="#1351a2"/><stop offset="0.1600" stop-color="#174fa0"/><stop offset="0.1867" stop-color="#1b4c9e"/><stop offset="0.2133" stop-color="#20499c"/><stop offset="0.2400" stop-color="#26479a"/><stop offset="0.2667" stop-color="#304598"/><stop offset="0.2933" stop-color="#3e4297"/><stop offset="0.3200" stop-color="#503e95"/><stop offset="0.3467" stop-color="#643b94"/><stop offset="0.3733" stop-color="#783794"/><stop offset="0.4000" stop-color="#8c3493"/><stop offset="0.4267" stop-color="#9e3091"/><stop offset="0.4533" stop-color="#ae2b8e"/><stop offset="0.4800" stop-color="#bc268c"/><stop offset="0.5067" stop-color="#c92089"/><stop offset="0.5333" stop-color="#d21a86"/><stop offset="0.5600" stop-color="#d51683"/><stop offset="0.5867" stop-color="#d81281"/><stop offset="0.6133" stop-color="#d90f7f"/><stop offset="0.6400" stop-color="#db0c7c"/><stop offset="0.6667" stop-color="#dc0a79"/><stop offset="0.6933" stop-color="#dc0977"/><stop offset="0.7200" stop-color="#dc0874"/><stop offset="0.7467" stop-color="#dd0770"/><stop offset="0.7733" stop-color="#dd076d"/><stop offset="0.8000" stop-color="#dd0769"/><stop offset="0.8267" stop-color="#dd0765"/><stop offset="0.8533" stop-color="#dd0861"/><stop offset="0.8800" stop-color="#dd095d"/><stop offset="0.9067" stop-color="#dd0a59"/><stop offset="0.9333" stop-color="#de0b56"/><stop offset="0.9600" stop-color="#de0d52"/><stop offset="0.9867" stop-color="#de0e4e"/></linearGradient><linearGradient id="r74" gradientUnits="userSpaceOnUse" x1="60" x2="660" y1="0" y2="0"><stop offset="0.0000" stop-color="#065ba8"/><stop offset="0.0267" stop-color="#0859a7"/><stop offset="0.0533" stop-color="#0a57a6"/><stop offset="0.0800" stop-color="#0d55a5"/><stop offset="0.1067" stop-color="#0f53a3"/><stop offset="0.1333" stop-color="#1350a1"/><stop offset="0.1600" stop-color="#164e9f"/><stop offset="0.1867" stop-color="#1a4b9d"/><stop offset="0.2133" stop-color="#1f489b"/><stop offset="0.2400" stop-color="#254699"/><stop offset="0.2667" stop-color="#2e4497"/><stop offset="0.2933" stop-color="#3c4196"/><stop offset="0.3200" stop-color="#4d3e94"/><stop offset="0.3467" stop-color="#613a93"/><stop offset="0.3733" stop-color="#753793"/><stop offset="0.4000" stop-color="#893393"/><stop offset="0.4267" stop-color="#9b2f91"/><stop offset="0.4533" stop-color="#ab2b8e"/><stop offset="0.4800" stop-color="#b8268c"/><stop offset="0.5067" stop-color="#c42089"/><stop offset="0.5333" stop-color="#cd1b86"/><stop offset="0.5600" stop-color="#d21684"/><stop offset="0.5867" stop-color="#d51281"/><stop offset="0.6133" stop-color="#d70f7f"/><stop offset="0.6400" stop-color="#d80d7c"/><stop offset="0.6667" stop-color="#d90b79"/><stop offset="0.6933" stop-color="#da0977"/><stop offset="0.7200" stop-color="#db0874"/><stop offset="0.7467" stop-color="#db0770"/><stop offset="0.7733" stop-color="#db076d"/><stop offset="0.8000" stop-color="#dc0769"/><stop offset="0.8267" stop-color="#dc0765"/><stop offset="0.8533" stop-color="#dc0862"/><stop offset="0.8800" stop-color="#dc095e"/><stop offset="0.9067" stop-color="#dd0a5a"/><stop offset="0.9333" stop-color="#dd0b56"/><stop offset="0.9600" stop-color="#dd0c53"/><stop offset="0.9867" stop-color="#dd0e50"/></linearGradient><linearGradient id="r75" gradientUnits="userSpaceOnUse" x1="60" x2="660" y1="0" y2="0"><stop offset="0.0000" stop-color="#065aa7"/><stop offset="0.0267" stop-color="#0858a6"/><stop offset="0.0533" stop-color="#0a56a5"/><stop offset="0.0800" stop-color="#0c54a4"/><stop offset="0.1067" stop-color="#0f52a2"/><stop offset="0.1333" stop-color="#124fa0"/><stop offset="0.1600" stop-color="#164d9e"/><stop offset="0.1867" stop-color="#1a4a9c"/><stop offset="0.2133" stop-color="#1e489a"/><stop offset="0.2400" stop-color="#244698"/><stop offset="0.2667" stop-color="#2c4397"/><stop offset="0.2933" stop-color="#394195"/><stop offset="0.3200" stop-color="#4a3d94"/><stop offset="0.3467" stop-color="#5e3a93"/><stop offset="0.3733" stop-color="#733793"/><stop offset="0.4000" stop-color="#873393"/><stop offset="0.4267" stop-color="#982f91"/><stop offset="0.4533" stop-color="#a72b8e"/><stop offset="0.4800" stop-color="#b4258c"/><stop offset="0.5067" stop-color="#c02089"/><stop offset="0.5333" stop-color="#c91b86"/><stop offset="0.5600" stop-color="#ce1784"/><stop offset="0.5867" stop-color="#d11381"/><stop offset="0.6133" stop-color="#d4107f"/><stop offset="0.6400" stop-color="#d60d7c"/><stop offset="0.6667" stop-color="#d70b7a"/><stop offset="0.6933" stop-color="#d80977"/><stop offset="0.7200" stop-color="#d90874"/><stop offset="0.7467" stop-color="#da0871"/><stop offset="0.7733" stop-color="#da076d"/><stop offset="0.8000" stop-color="#da076a"/><stop offset="0.8267" stop-color="#db0766"/><stop offset="0.8533" stop-color="#db0862"/><stop offset="0.8800" stop-color="#db095f"/><stop offset="0.9067" stop-color="#dc095b"/><stop offset="0.9333" stop-color="#dc0a57"/><stop offset="0.9600" stop-color="#dc0c54"/><stop offset="0.9867" stop-color="#dc0d51"/></linearGradient><linearGradient id="r76" gradientUnits="userSpaceOnUse" x1="60" x2="660" y1="0" y2="0"><stop offset="0.0000" stop-color="#0659a7"/><stop offset="0.0267" stop-color="#0857a6"/><stop offset="0.0533" stop-color="#0a55a5"/><stop offset="0.0800" stop-color="#0c53a3"/><stop offset="0.1067" stop-color="#0f51a2"/><stop offset="0.1333" stop-color="#124ea0"/><stop offset="0.1600" stop-color="#154c9e"/><stop offset="0.1867" stop-color="#19499b"/><stop offset="0.2133" stop-color="#1d4799"/><stop offset="0.2400" stop-color="#224598"/><stop offset="0.2667" stop-color="#2a4396"/><stop offset="0.2933" stop-color="#374195"/><stop offset="0.3200" stop-color="#483d94"/><stop offset="0.3467" stop-color="#5c3a93"/><stop offset="0.3733" stop-color="#713793"/><stop offset="0.4000" stop-color="#853392"/><stop offset="0.4267" stop-color="#962f90"/><stop offset="0.4533" stop-color="#a42a8e"/><stop offset="0.4800" stop-color="#b0258c"/><stop offset="0.5067" stop-color="#bc2089"/><stop offset="0.5333" stop-color="#c41b86"/><stop offset="0.5600" stop-color="#ca1784"/><stop offset="0.5867" stop-color="#ce1381"/><stop offset="0.6133" stop-color="#d1107f"/><stop offset="0.6400" stop-color="#d30e7c"/><stop offset="0.6667" stop-color="#d50c7a"/><stop offset="0.6933" stop-color="#d60a77"/><stop offset="0.7200" stop-color="#d70974"/><stop offset="0.7467" stop-color="#d80871"/><stop offset="0.7733" stop-color="#d8076d"/><stop offset="0.8000" stop-color="#d9076a"/><stop offset="0.8267" stop-color="#d90766"/><stop offset="0.8533" stop-color="#da0863"/><stop offset="0.8800" stop-color="#da085f"/><stop offset="0.9067" stop-color="#da095c"/><stop offset="0.9333" stop-color="#db0a58"/><stop offset="0.9600" stop-color="#db0b55"/><stop offset="0.9867" stop-color="#db0d52"/></linearGradient><linearGradient id="r77" gradientUnits="userSpaceOnUse" x1="60" x2="660" y1="0" y2="0"><stop offset="0.0000" stop-color="#0657a6"/><stop offset="0.0267" stop-color="#0856a5"/><stop offset="0.0533" stop-color="#0a54a4"/><stop offset="0.0800" stop-color="#0c52a2"/><stop offset="0.1067" stop-color="#0f50a1"/><stop offset="0.1333" stop-color="#114d9f"/><stop offset="0.1600" stop-color="#154b9d"/><stop offset="0.1867" stop-color="#18499b"/><stop offset="0.2133" stop-color="#1c4799"/><stop offset="0.2400" stop-color="#214597"/><stop offset="0.2667" stop-color="#284396"/><stop offset="0.2933" stop-color="#344195"/><stop offset="0.3200" stop-color="#453e93"/><stop offset="0.3467" stop-color="#593a93"/><stop offset="0.3733" stop-color="#6e3792"/><stop offset="0.4000" stop-color="#833392"/><stop offset="0.4267" stop-color="#932f90"/><stop offset="0.4533" stop-color="#a02a8e"/><stop offset="0.4800" stop-color="#ad258b"/><stop offset="0.5067" stop-color="#b72089"/><stop offset="0.5333" stop-color="#c01c86"/><stop offset="0.5600" stop-color="#c61884"/><stop offset="0.5867" stop-color="#cb1481"/><stop offset="0.6133" stop-color="#ce117f"/><stop offset="0.6400" stop-color="#d00e7c"/><stop offset="0.6667" stop-color="#d20c7a"/><stop offset="0.6933" stop-color="#d40a77"/><stop offset="0.7200" stop-color="#d50974"/><stop offset="0.7467" stop-color="#d60871"/><stop offset="0.7733" stop-color="#d7086e"/><stop offset="0.8000" stop-color="#d7076a"/><stop offset="0.8267" stop-color="#d80767"/><stop offset="0.8533" stop-color="#d80863"/><stop offset="0.8800" stop-color="#d90860"/><stop offset="0.9067" stop-color="#d9095c"/><stop offset="0.9333" stop-color="#da0a59"/><stop offset="0.9600" stop-color="#da0b56"/><stop offset="0.9867" stop-color="#da0c52"/></linearGradient><linearGradient id="r78" gradientUnits="userSpaceOnUse" x1="60" x2="660" y1="0" y2="0"><stop offset="0.0000" stop-color="#0656a5"/><stop offset="0.0267" stop-color="#0855a4"/><stop offset="0.0533" stop-color="#0a53a3"/><stop offset="0.0800" stop-color="#0c51a2"/><stop offset="0.1067" stop-color="#0f4fa0"/><stop offset="0.1333" stop-color="#114d9e"/><stop offset="0.1600" stop-color="#144a9d"/><stop offset="0.1867" stop-color="#17489b"/><stop offset="0.2133" stop-color="#1b4799"/><stop offset="0.2400" stop-color="#1f4597"/><stop offset="0.2667" stop-color="#264396"/><stop offset="0.2933" stop-color="#314194"/><stop offset="0.3200" stop-color="#423e93"/><stop offset="0.3467" stop-color="#563a92"/><stop offset="0.3733" stop-color="#6c3792"/><stop offset="0.4000" stop-color="#803391"/><stop offset="0.4267" stop-color="#8f2f90"/><stop offset="0.4533" stop-color="#9d2a8e"/><stop offset="0.4800" stop-color="#a9258b"/><stop offset="0.5067" stop-color="#b32089"/><stop offset="0.5333" stop-color="#bc1c86"/><stop offset="0.5600" stop-color="#c21884"/><stop offset="0.5867" stop-color="#c71481"/><stop offset="0.6133" stop-color="#cb117f"/><stop offset="0.6400" stop-color="#ce0f7c"/><stop offset="0.6667" stop-color="#d00c7a"/><stop offset="0.6933" stop-color="#d20b77"/><stop offset="0.7200" stop-color="#d30974"/><stop offset="0.7467" stop-color="#d40871"/><stop offset="0.7733" stop-color="#d5086e"/><stop offset="0.8000" stop-color="#d6086b"/><stop offset="0.8267" stop-color="#d70867"/><stop offset="0.8533" stop-color="#d70864"/><stop offset="0.8800" stop-color="#d80860"/><stop offset="0.9067" stop-color="#d8095d"/><stop offset="0.9333" stop-color="#d90a5a"/><stop offset="0.9600" stop-color="#d90b57"/><stop offset="0.9867" stop-color="#d90c53"/></linearGradient><linearGradient id="r79" gradientUnits="userSpaceOnUse" x1="60" x2="660" y1="0" y2="0"><stop offset="0.0000" stop-color="#0655a5"/><stop offset="0.0267" stop-color="#0853a4"/><stop offset="0.0533" stop-color="#0a52a3"/><stop offset="0.0800" stop-color="#0c50a1"/><stop offset="0.1067" stop-color="#0f4ea0"/><stop offset="0.1333" stop-color="#114c9e"/><stop offset="0.1600" stop-color="#144a9c"/><stop offset="0.1867" stop-color="#17489a"/><stop offset="0.2133" stop-color="#1a4698"/><stop offset="0.2400" stop-color="#1e4597"/><stop offset="0.2667" stop-color="#254396"/><stop offset="0.2933" stop-color="#2f4194"/><stop offset="0.3200" stop-color="#3f3e93"/><stop offset="0.3467" stop-color="#543a92"/><stop offset="0.3733" stop-color="#693692"/><stop offset="0.4000" stop-color="#7c3291"/><stop offset="0.4267" stop-color="#8c2e8f"/><stop offset="0.4533" stop-color="#992a8d"/><stop offset="0.4800" stop-color="#a5258b"/><stop offset="0.5067" stop-color="#af2189"/><stop offset="0.5333" stop-color="#b71c86"/><stop offset="0.5600" stop-color="#be1884"/><stop offset="0.5867" stop-color="#c31581"/><stop offset="0.6133" stop-color="#c7127f"/><stop offset="0.6400" stop-color="#cb0f7c"/><stop offset="0.6667" stop-color="#cd0d7a"/><stop offset="0.6933" stop-color="#cf0b77"/><stop offset="0.7200" stop-color="#d10a74"/><stop offset="0.7467" stop-color="#d20971"/><stop offset="0.7733" stop-color="#d3086e"/><stop offset="0.8000" stop-color="#d4086b"/><stop offset="0.8267" stop-color="#d50868"/><stop offset="0.8533" stop-color="#d60864"/><stop offset="0.8800" stop-color="#d60861"/><stop offset="0.9067" stop-color="#d7095e"/><stop offset="0.9333" stop-color="#d70a5a"/><stop offset="0.9600" stop-color="#d80b57"/><stop offset="0.9867" stop-color="#d80c54"/></linearGradient><linearGradient id="r80" gradientUnits="userSpaceOnUse" x1="60" x2="660" y1="0" y2="0"><stop offset="0.0000" stop-color="#0654a4"/><stop offset="0.0267" stop-color="#0852a3"/><stop offset="0.0533" stop-color="#0a51a2"/><stop offset="0.0800" stop-color="#0c4fa1"/><stop offset="0.1067" stop-color="#0f4d9f"/><stop offset="0.1333" stop-color="#114b9d"/><stop offset="0.1600" stop-color="#14499c"/><stop offset="0.1867" stop-color="#17479a"/><stop offset="0.2133" stop-color="#1a4698"/><stop offset="0.2400" stop-color="#1e4597"/><stop offset="0.2667" stop-color="#254395"/><stop offset="0.2933" stop-color="#2e4194"/><stop offset="0.3200" stop-color="#3e3e93"/><stop offset="0.3467" stop-color="#523a92"/><stop offset="0.3733" stop-color="#663691"/><stop offset="0.4000" stop-color="#783290"/><stop offset="0.4267" stop-color="#882e8f"/><stop offset="0.4533" stop-color="#95298d"/><stop offset="0.4800" stop-color="#a1258b"/><stop offset="0.5067" stop-color="#ab2189"/><stop offset="0.5333" stop-color="#b31c86"/><stop offset="0.5600" stop-color="#ba1984"/><stop offset="0.5867" stop-color="#c01581"/><stop offset="0.6133" stop-color="#c4127f"/><stop offset="0.6400" stop-color="#c8107c"/><stop offset="0.6667" stop-color="#ca0d7a"/><stop offset="0.6933" stop-color="#cd0c77"/><stop offset="0.7200" stop-color="#cf0a74"/><stop offset="0.7467" stop-color="#d00971"/><stop offset="0.7733" stop-color="#d1086e"/><stop offset="0.8000" stop-color="#d3086b"/><stop offset="0.8267" stop-color="#d30868"/><stop offset="0.8533" stop-color="#d40865"/><stop offset="0.8800" stop-color="#d50862"/><stop offset="0.9067" stop-color="#d6095e"/><stop offset="0.9333" stop-color="#d60a5b"/><stop offset="0.9600" stop-color="#d70a58"/><stop offset="0.9867" stop-color="#d70b55"/></linearGradient><linearGradient id="r81" gradientUnits="userSpaceOnUse" x1="60" x2="660" y1="0" y2="0"><stop offset="0.0000" stop-color="#0753a4"/><stop offset="0.0267" stop-color="#0951a3"/><stop offset="0.0533" stop-color="#0b50a2"/><stop offset="0.0800" stop-color="#0d4ea0"/><stop offset="0.1067" stop-color="#0f4c9f"/><stop offset="0.1333" stop-color="#124a9d"/><stop offset="0.1600" stop-color="#14499b"/><stop offset="0.1867" stop-color="#17479a"/><stop offset="0.2133" stop-color="#1b4598"/><stop offset="0.2400" stop-color="#1f4497"/><stop offset="0.2667" stop-color="#254295"/><stop offset="0.2933" stop-color="#2f4094"/><stop offset="0.3200" stop-color="#3e3d93"/><stop offset="0.3467" stop-color="#513992"/><stop offset="0.3733" stop-color="#633591"/><stop offset="0.4000" stop-color="#753190"/><stop offset="0.4267" stop-color="#842d8e"/><stop offset="0.4533" stop-color="#91298d"/><stop offset="0.4800" stop-color="#9d258b"/><stop offset="0.5067" stop-color="#a72188"/><stop offset="0.5333" stop-color="#b01d86"/><stop offset="0.5600" stop-color="#b71984"/><stop offset="0.5867" stop-color="#bc1681"/><stop offset="0.6133" stop-color="#c1137f"/><stop offset="0.6400" stop-color="#c5107c"/><stop offset="0.6667" stop-color="#c80e7a"/><stop offset="0.6933" stop-color="#ca0c77"/><stop offset="0.7200" stop-color="#cc0b74"/><stop offset="0.7467" stop-color="#ce0972"/><stop offset="0.7733" stop-color="#d0096f"/><stop offset="0.8000" stop-color="#d1086c"/><stop offset="0.8267" stop-color="#d20868"/><stop offset="0.8533" stop-color="#d30865"/><stop offset="0.8800" stop-color="#d40862"/><stop offset="0.9067" stop-color="#d4095f"/><stop offset="0.9333" stop-color="#d5095c"/><stop offset="0.9600" stop-color="#d60a59"/><stop offset="0.9867" stop-color="#d60b56"/></linearGradient>
</defs>
<rect width="760" height="895" fill="#fff"/>
<g font-size="46" fill="#adadad">
<text x="164.2" y="61.3" textLength="120.9" lengthAdjust="spacing">Color</text>
<text x="300.8" y="61.3" textLength="302.7" lengthAdjust="spacing">Reproduction</text>
<text x="617" y="61.3" textLength="95.9" lengthAdjust="spacing">Area</text>
<text x="380.3" y="118.6" textLength="63.5" lengthAdjust="spacing">(xy</text>
<text x="457.6" y="118.6" textLength="257.8" lengthAdjust="spacing">coordinate)</text>
</g>
<g stroke="#eaeaea" stroke-width="1.2" stroke-dasharray="8 6.9" fill="none"><line x1="75.7" x2="75.7" y1="203" y2="826"/><line x1="150.9" x2="150.9" y1="203" y2="826"/><line x1="226.2" x2="226.2" y1="203" y2="826"/><line x1="301.4" x2="301.4" y1="203" y2="826"/><line x1="376.7" x2="376.7" y1="203" y2="826"/><line x1="451.9" x2="451.9" y1="203" y2="826"/><line x1="527.2" x2="527.2" y1="203" y2="826"/><line x1="602.5" x2="602.5" y1="203" y2="826"/><line x1="677.7" x2="677.7" y1="203" y2="826"/><line x1="75.5" x2="706" y1="825.6" y2="825.6"/><line x1="75.5" x2="706" y1="750.8" y2="750.8"/><line x1="75.5" x2="706" y1="676.1" y2="676.1"/><line x1="75.5" x2="706" y1="601.3" y2="601.3"/><line x1="75.5" x2="706" y1="526.6" y2="526.6"/><line x1="75.5" x2="706" y1="451.8" y2="451.8"/><line x1="75.5" x2="706" y1="377.0" y2="377.0"/><line x1="75.5" x2="706" y1="302.3" y2="302.3"/><line x1="75.5" x2="706" y1="227.5" y2="227.5"/></g>
<g clip-path="url(#hs)"><g filter="url(#bl)"><rect x="60" y="184.0" width="600" height="8.5" fill="url(#r0)"/><rect x="60" y="192.0" width="600" height="8.5" fill="url(#r1)"/><rect x="60" y="200.0" width="600" height="8.5" fill="url(#r2)"/><rect x="60" y="208.0" width="600" height="8.5" fill="url(#r3)"/><rect x="60" y="216.0" width="600" height="8.5" fill="url(#r4)"/><rect x="60" y="224.0" width="600" height="8.5" fill="url(#r5)"/><rect x="60" y="232.0" width="600" height="8.5" fill="url(#r6)"/><rect x="60" y="240.0" width="600" height="8.5" fill="url(#r7)"/><rect x="60" y="248.0" width="600" height="8.5" fill="url(#r8)"/><rect x="60" y="256.0" width="600" height="8.5" fill="url(#r9)"/><rect x="60" y="264.0" width="600" height="8.5" fill="url(#r10)"/><rect x="60" y="272.0" width="600" height="8.5" fill="url(#r11)"/><rect x="60" y="280.0" width="600" height="8.5" fill="url(#r12)"/><rect x="60" y="288.0" width="600" height="8.5" fill="url(#r13)"/><rect x="60" y="296.0" width="600" height="8.5" fill="url(#r14)"/><rect x="60" y="304.0" width="600" height="8.5" fill="url(#r15)"/><rect x="60" y="312.0" width="600" height="8.5" fill="url(#r16)"/><rect x="60" y="320.0" width="600" height="8.5" fill="url(#r17)"/><rect x="60" y="328.0" width="600" height="8.5" fill="url(#r18)"/><rect x="60" y="336.0" width="600" height="8.5" fill="url(#r19)"/><rect x="60" y="344.0" width="600" height="8.5" fill="url(#r20)"/><rect x="60" y="352.0" width="600" height="8.5" fill="url(#r21)"/><rect x="60" y="360.0" width="600" height="8.5" fill="url(#r22)"/><rect x="60" y="368.0" width="600" height="8.5" fill="url(#r23)"/><rect x="60" y="376.0" width="600" height="8.5" fill="url(#r24)"/><rect x="60" y="384.0" width="600" height="8.5" fill="url(#r25)"/><rect x="60" y="392.0" width="600" height="8.5" fill="url(#r26)"/><rect x="60" y="400.0" width="600" height="8.5" fill="url(#r27)"/><rect x="60" y="408.0" width="600" height="8.5" fill="url(#r28)"/><rect x="60" y="416.0" width="600" height="8.5" fill="url(#r29)"/><rect x="60" y="424.0" width="600" height="8.5" fill="url(#r30)"/><rect x="60" y="432.0" width="600" height="8.5" fill="url(#r31)"/><rect x="60" y="440.0" width="600" height="8.5" fill="url(#r32)"/><rect x="60" y="448.0" width="600" height="8.5" fill="url(#r33)"/><rect x="60" y="456.0" width="600" height="8.5" fill="url(#r34)"/><rect x="60" y="464.0" width="600" height="8.5" fill="url(#r35)"/><rect x="60" y="472.0" width="600" height="8.5" fill="url(#r36)"/><rect x="60" y="480.0" width="600" height="8.5" fill="url(#r37)"/><rect x="60" y="488.0" width="600" height="8.5" fill="url(#r38)"/><rect x="60" y="496.0" width="600" height="8.5" fill="url(#r39)"/><rect x="60" y="504.0" width="600" height="8.5" fill="url(#r40)"/><rect x="60" y="512.0" width="600" height="8.5" fill="url(#r41)"/><rect x="60" y="520.0" width="600" height="8.5" fill="url(#r42)"/><rect x="60" y="528.0" width="600" height="8.5" fill="url(#r43)"/><rect x="60" y="536.0" width="600" height="8.5" fill="url(#r44)"/><rect x="60" y="544.0" width="600" height="8.5" fill="url(#r45)"/><rect x="60" y="552.0" width="600" height="8.5" fill="url(#r46)"/><rect x="60" y="560.0" width="600" height="8.5" fill="url(#r47)"/><rect x="60" y="568.0" width="600" height="8.5" fill="url(#r48)"/><rect x="60" y="576.0" width="600" height="8.5" fill="url(#r49)"/><rect x="60" y="584.0" width="600" height="8.5" fill="url(#r50)"/><rect x="60" y="592.0" width="600" height="8.5" fill="url(#r51)"/><rect x="60" y="600.0" width="600" height="8.5" fill="url(#r52)"/><rect x="60" y="608.0" width="600" height="8.5" fill="url(#r53)"/><rect x="60" y="616.0" width="600" height="8.5" fill="url(#r54)"/><rect x="60" y="624.0" width="600" height="8.5" fill="url(#r55)"/><rect x="60" y="632.0" width="600" height="8.5" fill="url(#r56)"/><rect x="60" y="640.0" width="600" height="8.5" fill="url(#r57)"/><rect x="60" y="648.0" width="600" height="8.5" fill="url(#r58)"/><rect x="60" y="656.0" width="600" height="8.5" fill="url(#r59)"/><rect x="60" y="664.0" width="600" height="8.5" fill="url(#r60)"/><rect x="60" y="672.0" width="600" height="8.5" fill="url(#r61)"/><rect x="60" y="680.0" width="600" height="8.5" fill="url(#r62)"/><rect x="60" y="688.0" width="600" height="8.5" fill="url(#r63)"/><rect x="60" y="696.0" width="600" height="8.5" fill="url(#r64)"/><rect x="60" y="704.0" width="600" height="8.5" fill="url(#r65)"/><rect x="60" y="712.0" width="600" height="8.5" fill="url(#r66)"/><rect x="60" y="720.0" width="600" height="8.5" fill="url(#r67)"/><rect x="60" y="728.0" width="600" height="8.5" fill="url(#r68)"/><rect x="60" y="736.0" width="600" height="8.5" fill="url(#r69)"/><rect x="60" y="744.0" width="600" height="8.5" fill="url(#r70)"/><rect x="60" y="752.0" width="600" height="8.5" fill="url(#r71)"/><rect x="60" y="760.0" width="600" height="8.5" fill="url(#r72)"/><rect x="60" y="768.0" width="600" height="8.5" fill="url(#r73)"/><rect x="60" y="776.0" width="600" height="8.5" fill="url(#r74)"/><rect x="60" y="784.0" width="600" height="8.5" fill="url(#r75)"/><rect x="60" y="792.0" width="600" height="8.5" fill="url(#r76)"/><rect x="60" y="800.0" width="600" height="8.5" fill="url(#r77)"/><rect x="60" y="808.0" width="600" height="8.5" fill="url(#r78)"/><rect x="60" y="816.0" width="600" height="8.5" fill="url(#r79)"/><rect x="60" y="824.0" width="600" height="8.5" fill="url(#r80)"/><rect x="60" y="832.0" width="600" height="8.5" fill="url(#r81)"/></g>
<g stroke="#ffffff" stroke-width="1.7" stroke-dasharray="8 6.9" fill="none"><g stroke-opacity="0.19" stroke-width="2"><line x1="75.7" x2="75.7" y1="203" y2="826"/><line x1="150.9" x2="150.9" y1="203" y2="826"/><line x1="226.2" x2="226.2" y1="203" y2="826"/><line x1="301.4" x2="301.4" y1="203" y2="826"/><line x1="376.7" x2="376.7" y1="203" y2="826"/><line x1="451.9" x2="451.9" y1="203" y2="826"/><line x1="527.2" x2="527.2" y1="203" y2="826"/><line x1="602.5" x2="602.5" y1="203" y2="826"/><line x1="677.7" x2="677.7" y1="203" y2="826"/></g><g stroke-opacity="0.22"><line x1="75.5" x2="706" y1="825.6" y2="825.6"/><line x1="75.5" x2="706" y1="750.8" y2="750.8"/><line x1="75.5" x2="706" y1="676.1" y2="676.1"/><line x1="75.5" x2="706" y1="601.3" y2="601.3"/><line x1="75.5" x2="706" y1="526.6" y2="526.6"/><line x1="75.5" x2="706" y1="451.8" y2="451.8"/><line x1="75.5" x2="706" y1="377.0" y2="377.0"/><line x1="75.5" x2="706" y1="302.3" y2="302.3"/><line x1="75.5" x2="706" y1="227.5" y2="227.5"/></g></g>
</g>
<g class="tk" font-size="24.6" font-weight="200" fill="#b0b0b0"><text x="23.0" y="842.3" textLength="39" lengthAdjust="spacingAndGlyphs">0.0</text><text x="23.0" y="762.0" textLength="39" lengthAdjust="spacingAndGlyphs">0.1</text><text x="23.0" y="686.2" textLength="39" lengthAdjust="spacingAndGlyphs">0.2</text><text x="23.0" y="611.3" textLength="39" lengthAdjust="spacingAndGlyphs">0.3</text><text x="23.0" y="536.2" textLength="39" lengthAdjust="spacingAndGlyphs">0.4</text><text x="20.0" y="461.8" textLength="39" lengthAdjust="spacingAndGlyphs">0.5</text><text x="20.0" y="391.3" textLength="39" lengthAdjust="spacingAndGlyphs">0.6</text><text x="20.0" y="312.2" textLength="39" lengthAdjust="spacingAndGlyphs">0.7</text><text x="20.0" y="237.6" textLength="39" lengthAdjust="spacingAndGlyphs">0.8</text><text x="131.4" y="865.4" textLength="38.2" lengthAdjust="spacingAndGlyphs">0.1</text><text x="206.0" y="865.4" textLength="38.2" lengthAdjust="spacingAndGlyphs">0.2</text><text x="283.4" y="865.4" textLength="38.2" lengthAdjust="spacingAndGlyphs">0.3</text><text x="360.0" y="865.4" textLength="38.2" lengthAdjust="spacingAndGlyphs">0.4</text><text x="435.0" y="865.4" textLength="38.2" lengthAdjust="spacingAndGlyphs">0.5</text><text x="508.4" y="865.4" textLength="38.2" lengthAdjust="spacingAndGlyphs">0.6</text><text x="586.2" y="865.4" textLength="38.2" lengthAdjust="spacingAndGlyphs">0.7</text><text x="660.0" y="865.4" textLength="38.2" lengthAdjust="spacingAndGlyphs">0.8</text></g>
<text x="64.5" y="188" font-size="37" fill="#b4b4b4">y</text>
<text x="717.5" y="839.9" font-size="36" fill="#b4b4b4">x</text>
<g fill="none" stroke-linejoin="miter">
<polygon points="302.0,378.2 555.6,575.6 190.8,778.0" stroke="#dc3c40" stroke-opacity="0.68" stroke-width="1.8"/>
<polygon points="276.3,310.8 587.8,586.3 190.0,779.0" stroke="#86d0e0" stroke-opacity="0.76" stroke-width="1.8"/>
<polygon points="203.7,242.7 604.5,607.4 178.4,788.4" stroke="#fff100" stroke-opacity="0.68" stroke-width="2"/>
<polygon points="233.0,291.4 558.2,573.5 187.4,779.4" stroke="#d4d4d4" stroke-opacity="0.78" stroke-width="1.6"/>
<polygon points="234.1,295.0 557.8,575.8 189.2,780.5" stroke="#231815" stroke-width="1.8"/>
</g>
<g fill="none" stroke-width="1.7">
<line x1="278.6" x2="458" y1="333.9" y2="333.9" stroke="#231815" stroke-width="1.9"/>
<line x1="325.3" x2="458" y1="371.3" y2="371.3" stroke="#d9d9d9"/>
<line x1="371.3" x2="506.5" y1="429.2" y2="429.2" stroke="#d9374e" stroke-opacity="0.5" stroke-width="1.6"/>
<line x1="484.2" x2="567" y1="493.5" y2="493.5" stroke="#5bc0d4" stroke-opacity="0.88"/>
<line x1="354.3" x2="446" y1="714.3" y2="714.3" stroke="#fff100" stroke-opacity="0.7"/><line x1="446" x2="536" y1="714.3" y2="714.3" stroke="#fff100" stroke-opacity="0.95"/>
</g>
<rect x="457.7" y="320.5" width="24.9" height="24.3" fill="#231815"/>
<rect x="458.2" y="358" width="23.9" height="25.5" fill="#dcdcdc" stroke="#b4b4b4" stroke-width="1"/>
<rect x="506.3" y="417" width="26" height="25.6" fill="#d9374e"/>
<rect x="566.8" y="481.2" width="26.1" height="25.4" fill="#5bc0d4"/>
<rect x="536.1" y="702.6" width="25" height="25" fill="#fff100" stroke="#b9ad00" stroke-width="1"/>
<g font-size="29.5" fill="#595757">
<text x="495.6" y="342.6" font-size="29" font-weight="bold" fill="#231815" textLength="114.6" lengthAdjust="spacingAndGlyphs">PA32UC</text>
<text x="495.6" y="381.5" textLength="152" lengthAdjust="spacingAndGlyphs">Adobe RGB</text>
<text x="544.8" y="440.7" textLength="177.4" lengthAdjust="spacingAndGlyphs">sRGB / BT.709</text>
<text x="605.6" y="505" textLength="92" lengthAdjust="spacingAndGlyphs">DCI-P3</text>
<text x="571.4" y="723.3" textLength="110" lengthAdjust="spacingAndGlyphs">BT.2020</text>
</g>
</svg>
</body></html>
